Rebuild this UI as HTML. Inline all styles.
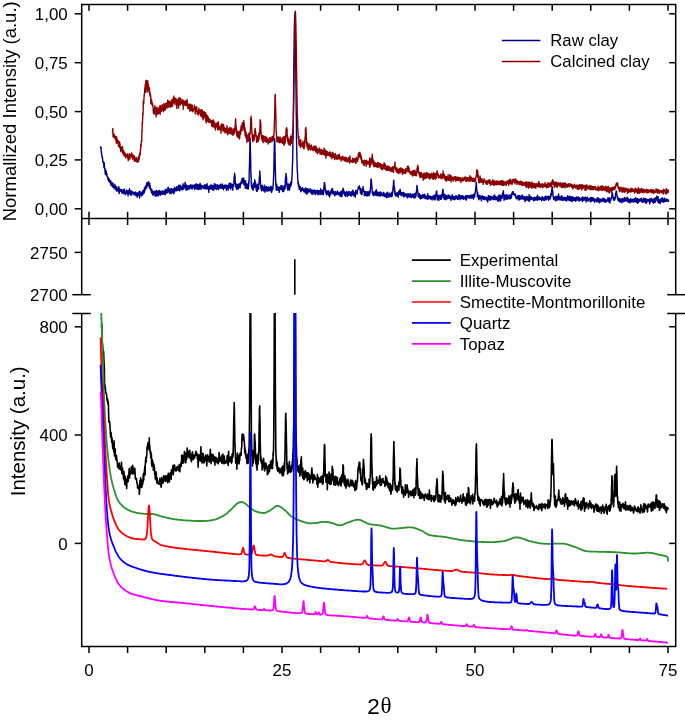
<!DOCTYPE html>
<html><head><meta charset="utf-8"><style>
html,body{margin:0;padding:0;background:#fff;width:685px;height:721px;overflow:hidden}
svg{display:block;will-change:transform}
text{font-family:"Liberation Sans",sans-serif;fill:#000}
</style></head><body>
<svg width="685" height="721" viewBox="0 0 685 721">
<defs>
<clipPath id="cTop"><rect x="82" y="5" width="593" height="213"/></clipPath>
<clipPath id="cBot"><rect x="82" y="313" width="593" height="333"/></clipPath>
</defs>
<path d="M100.6,146.2 L100.8,148.2 L100.9,148.6 L101.0,147.4 L101.2,151.8 L101.3,152.3 L101.5,151.9 L101.7,154.6 L101.8,155.3 L102.0,156.1 L102.1,156.6 L102.2,158.3 L102.4,157.2 L102.5,158.9 L102.7,159.2 L102.8,161.6 L103.0,161.5 L103.2,161.8 L103.3,161.7 L103.5,163.2 L103.6,164.3 L103.8,164.5 L103.9,167.5 L104.0,167.7 L104.2,162.7 L104.3,164.5 L104.5,167.7 L104.7,167.9 L104.8,169.4 L105.0,169.9 L105.1,173.3 L105.2,168.9 L105.4,170.5 L105.5,174.6 L105.7,173.0 L105.8,173.5 L106.0,172.2 L106.2,171.0 L106.3,174.2 L106.5,174.5 L106.6,173.0 L106.8,174.2 L106.9,175.6 L107.0,174.7 L107.2,176.4 L107.3,177.1 L107.5,177.4 L107.7,176.9 L107.8,178.9 L108.0,179.7 L108.1,179.2 L108.2,177.8 L108.4,180.4 L108.5,178.8 L108.7,181.2 L108.8,178.5 L109.0,181.8 L109.2,180.6 L109.3,179.0 L109.5,180.7 L109.6,181.5 L109.8,182.0 L109.9,180.4 L110.0,180.4 L110.2,182.6 L110.3,181.8 L110.5,183.1 L110.7,184.1 L110.8,180.7 L111.0,183.7 L111.1,185.4 L111.2,183.3 L111.4,182.7 L111.5,185.3 L111.7,184.7 L111.8,185.9 L112.0,184.2 L112.2,182.7 L112.3,184.9 L112.5,184.6 L112.6,186.6 L112.8,185.9 L112.9,183.3 L113.0,184.1 L113.2,187.4 L113.3,187.2 L113.5,185.4 L113.7,186.5 L113.8,187.3 L114.0,187.4 L114.1,188.1 L114.2,187.4 L114.4,187.0 L114.5,186.9 L114.7,188.9 L114.8,184.2 L115.0,187.4 L115.2,187.7 L115.3,185.8 L115.5,188.4 L115.6,187.1 L115.8,189.4 L115.9,188.1 L116.0,189.3 L116.2,190.2 L116.3,189.1 L116.5,187.4 L116.7,186.6 L116.8,191.3 L117.0,188.8 L117.1,188.0 L117.2,189.3 L117.4,188.9 L117.5,190.5 L117.7,189.4 L117.8,189.5 L118.0,188.5 L118.2,190.3 L118.3,188.3 L118.5,190.7 L118.6,192.0 L118.8,187.8 L118.9,186.6 L119.0,190.9 L119.2,193.6 L119.3,188.8 L119.5,188.6 L119.7,191.1 L119.8,189.2 L120.0,189.8 L120.1,190.0 L120.2,191.3 L120.4,190.1 L120.5,191.1 L120.7,190.5 L120.8,189.7 L121.0,190.4 L121.2,189.6 L121.3,191.0 L121.5,189.5 L121.6,189.6 L121.8,193.1 L121.9,191.1 L122.0,191.2 L122.2,192.0 L122.3,190.8 L122.5,191.1 L122.7,192.0 L122.8,191.9 L123.0,190.0 L123.1,192.7 L123.2,190.8 L123.4,190.2 L123.5,190.5 L123.7,191.2 L123.8,193.9 L124.0,190.2 L124.2,192.0 L124.3,189.0 L124.5,191.9 L124.6,193.1 L124.8,191.6 L124.9,191.1 L125.0,192.3 L125.2,192.9 L125.3,192.9 L125.5,194.7 L125.7,192.3 L125.8,191.3 L126.0,191.9 L126.1,192.0 L126.2,192.2 L126.4,192.1 L126.5,192.4 L126.7,189.9 L126.8,193.2 L127.0,191.4 L127.2,190.6 L127.3,193.0 L127.5,193.9 L127.6,192.8 L127.8,192.4 L127.9,191.0 L128.1,196.0 L128.2,193.4 L128.3,190.7 L128.5,191.2 L128.7,192.4 L128.8,190.2 L128.9,192.5 L129.1,191.7 L129.2,193.9 L129.4,193.6 L129.6,188.7 L129.7,192.4 L129.8,190.2 L130.0,193.8 L130.2,192.6 L130.3,193.1 L130.4,191.0 L130.6,194.8 L130.8,195.1 L130.9,191.0 L131.1,192.9 L131.2,191.6 L131.3,192.5 L131.5,190.9 L131.7,195.1 L131.8,191.4 L131.9,192.3 L132.1,193.4 L132.2,192.0 L132.4,192.6 L132.6,192.2 L132.7,192.9 L132.8,191.6 L133.0,192.6 L133.2,193.0 L133.3,192.9 L133.4,193.5 L133.6,193.2 L133.8,194.6 L133.9,193.3 L134.1,193.6 L134.2,193.0 L134.3,193.3 L134.5,192.5 L134.7,194.8 L134.8,192.8 L134.9,193.4 L135.1,194.8 L135.2,195.0 L135.4,194.0 L135.6,192.0 L135.7,195.2 L135.8,195.0 L136.0,193.0 L136.2,195.7 L136.3,193.9 L136.4,193.4 L136.6,195.0 L136.8,194.7 L136.9,195.1 L137.1,192.9 L137.2,197.2 L137.3,194.1 L137.5,192.9 L137.6,195.6 L137.7,194.4 L137.8,195.2 L137.8,194.4 L137.9,194.7 L137.9,195.1 L138.1,193.8 L138.1,195.6 L138.2,194.1 L138.2,193.6 L138.3,194.7 L138.4,195.2 L138.5,194.3 L138.6,193.5 L138.7,195.3 L138.7,192.3 L138.8,193.2 L138.8,194.5 L138.9,192.7 L139.0,194.5 L139.1,194.3 L139.2,195.5 L139.2,193.2 L139.3,193.5 L139.4,194.7 L139.4,191.1 L139.6,198.1 L139.6,193.3 L139.7,193.2 L139.8,195.2 L139.8,194.0 L139.9,191.8 L140.0,194.8 L140.1,195.1 L140.2,193.4 L140.2,193.6 L140.3,194.6 L140.3,192.8 L140.4,194.4 L140.5,194.1 L140.6,193.0 L140.7,192.0 L140.8,193.5 L140.8,192.6 L140.9,195.0 L140.9,193.9 L141.1,194.7 L141.1,193.8 L141.2,194.0 L141.2,192.6 L141.3,194.4 L141.4,195.9 L141.5,193.1 L141.6,192.7 L141.7,193.3 L141.7,192.8 L141.8,192.5 L141.8,193.6 L141.9,193.0 L142.0,195.2 L142.1,193.3 L142.2,193.6 L142.2,194.4 L142.3,192.8 L142.4,194.9 L142.4,192.2 L142.6,191.9 L142.6,192.5 L142.7,192.7 L142.8,191.0 L142.8,192.7 L142.9,190.6 L143.0,194.4 L143.1,192.5 L143.2,191.6 L143.2,191.3 L143.3,191.8 L143.3,192.0 L143.4,190.8 L143.5,190.9 L143.6,191.7 L143.7,191.2 L143.8,193.0 L143.8,193.2 L143.9,191.6 L143.9,192.1 L144.1,189.6 L144.1,192.1 L144.2,191.0 L144.2,191.6 L144.3,192.9 L144.4,187.8 L144.5,190.9 L144.6,189.0 L144.7,191.0 L144.7,188.4 L144.8,189.3 L144.8,190.1 L144.9,190.4 L145.0,189.6 L145.1,188.2 L145.2,188.4 L145.2,190.0 L145.3,188.7 L145.4,186.3 L145.4,189.5 L145.6,188.6 L145.6,189.1 L145.7,187.3 L145.8,188.7 L145.8,186.0 L145.9,187.9 L146.0,186.3 L146.1,187.7 L146.2,187.8 L146.2,185.5 L146.3,186.1 L146.3,186.1 L146.4,187.3 L146.5,186.6 L146.6,183.8 L146.7,185.9 L146.8,186.0 L146.8,187.7 L146.9,182.6 L146.9,183.9 L147.1,186.2 L147.1,182.6 L147.2,182.6 L147.2,184.8 L147.3,185.3 L147.4,183.0 L147.5,184.5 L147.6,183.9 L147.7,185.6 L147.7,183.6 L147.8,184.8 L147.8,182.4 L147.9,183.3 L148.0,183.4 L148.1,185.0 L148.2,184.3 L148.2,182.6 L148.3,184.5 L148.4,184.7 L148.4,183.6 L148.6,183.5 L148.6,183.6 L148.7,181.8 L148.8,184.3 L148.8,184.6 L148.9,183.2 L149.0,185.5 L149.1,182.9 L149.2,184.1 L149.2,184.3 L149.3,187.7 L149.3,183.2 L149.4,186.2 L149.5,186.9 L149.6,186.4 L149.7,187.5 L149.8,185.0 L149.8,183.5 L149.9,187.7 L149.9,185.3 L150.1,186.6 L150.1,185.7 L150.2,188.8 L150.2,188.7 L150.3,186.9 L150.4,189.1 L150.5,188.4 L150.6,188.2 L150.7,188.7 L150.7,188.5 L150.8,189.8 L150.8,189.5 L150.9,188.9 L151.0,190.8 L151.1,188.9 L151.2,190.2 L151.2,190.6 L151.3,192.0 L151.4,189.7 L151.4,192.7 L151.6,190.8 L151.6,190.4 L151.7,190.0 L151.8,191.7 L151.8,191.2 L151.9,189.8 L152.0,189.9 L152.1,190.7 L152.2,190.7 L152.2,193.0 L152.3,193.5 L152.3,192.9 L152.4,192.4 L152.5,191.4 L152.6,192.2 L152.7,193.3 L152.8,195.0 L152.8,193.5 L152.9,192.0 L152.9,192.5 L153.1,191.9 L153.1,191.5 L153.2,192.3 L153.2,192.9 L153.3,195.0 L153.4,192.8 L153.5,194.5 L153.6,195.1 L153.7,192.9 L153.7,194.9 L153.8,193.8 L153.8,192.3 L153.9,193.3 L154.0,193.0 L154.1,192.7 L154.2,192.7 L154.2,193.2 L154.3,193.6 L154.4,191.9 L154.4,193.0 L154.6,191.1 L154.6,193.4 L154.7,193.9 L154.8,193.3 L154.8,193.5 L154.9,193.9 L155.0,192.2 L155.1,192.8 L155.2,193.8 L155.2,194.4 L155.3,193.6 L155.3,196.4 L155.4,193.0 L155.5,194.4 L155.6,194.8 L155.7,193.0 L155.8,192.1 L155.8,191.6 L155.9,193.3 L155.9,194.6 L156.1,193.5 L156.1,193.4 L156.2,192.6 L156.2,193.9 L156.3,190.4 L156.4,193.4 L156.5,193.2 L156.6,191.3 L156.7,195.9 L156.7,191.3 L156.8,191.7 L156.8,191.6 L156.9,194.5 L157.0,192.0 L157.1,194.0 L157.2,193.9 L157.2,193.4 L157.3,191.4 L157.4,192.3 L157.4,195.3 L157.6,191.4 L157.6,192.0 L157.7,192.9 L157.8,194.1 L157.8,193.4 L157.9,194.0 L158.0,191.7 L158.1,194.3 L158.2,193.8 L158.2,191.0 L158.3,195.0 L158.3,196.0 L158.5,192.0 L158.7,193.1 L158.8,194.8 L158.9,191.1 L159.1,190.4 L159.2,191.3 L159.4,192.2 L159.6,192.2 L159.7,193.7 L159.8,193.3 L160.0,191.3 L160.2,193.6 L160.3,195.3 L160.4,194.4 L160.6,194.1 L160.8,192.9 L160.9,194.1 L161.1,191.5 L161.2,193.8 L161.3,192.6 L161.5,194.2 L161.7,193.3 L161.8,191.3 L161.9,192.8 L162.1,194.2 L162.2,191.1 L162.4,191.9 L162.6,191.6 L162.7,190.6 L162.8,193.8 L163.0,194.2 L163.2,193.5 L163.3,192.8 L163.4,192.3 L163.6,192.7 L163.8,191.4 L163.9,193.5 L164.1,193.7 L164.2,193.5 L164.3,191.5 L164.5,192.3 L164.7,192.0 L164.8,194.5 L164.9,192.3 L165.1,189.6 L165.2,192.6 L165.4,194.5 L165.6,192.9 L165.7,193.1 L165.8,192.0 L166.0,189.2 L166.2,189.4 L166.3,190.1 L166.4,191.6 L166.6,192.2 L166.8,192.6 L166.9,191.2 L167.1,192.9 L167.2,191.2 L167.3,190.6 L167.5,192.7 L167.7,190.3 L167.8,187.8 L167.9,190.0 L168.1,191.5 L168.2,187.2 L168.4,190.8 L168.6,190.8 L168.7,189.3 L168.8,189.2 L169.0,190.6 L169.2,190.4 L169.3,192.8 L169.4,191.6 L169.6,188.9 L169.8,189.9 L169.9,191.9 L170.1,193.5 L170.2,191.4 L170.3,191.3 L170.5,193.4 L170.7,190.8 L170.8,190.4 L170.9,188.8 L171.1,190.0 L171.2,193.6 L171.4,188.7 L171.6,190.6 L171.7,188.6 L171.8,190.7 L172.0,191.7 L172.2,190.1 L172.3,191.4 L172.4,191.4 L172.6,190.9 L172.8,192.6 L172.9,191.3 L173.1,189.8 L173.2,189.2 L173.3,189.0 L173.5,190.7 L173.7,189.6 L173.8,193.8 L173.9,192.5 L174.1,189.6 L174.2,189.4 L174.4,192.2 L174.6,187.2 L174.7,189.1 L174.8,191.0 L175.0,188.4 L175.2,188.9 L175.3,189.1 L175.4,190.4 L175.6,189.7 L175.8,190.0 L175.9,190.2 L176.1,189.4 L176.2,190.9 L176.3,188.2 L176.5,187.2 L176.7,186.7 L176.8,186.9 L176.9,188.3 L177.1,190.5 L177.2,189.2 L177.4,188.1 L177.6,187.4 L177.7,188.1 L177.8,188.3 L178.0,188.0 L178.2,186.7 L178.3,188.0 L178.4,190.1 L178.6,185.5 L178.8,188.2 L178.9,185.5 L179.1,188.8 L179.2,187.4 L179.3,185.5 L179.5,188.5 L179.7,190.9 L179.8,188.5 L179.9,189.9 L180.1,188.1 L180.2,185.1 L180.4,188.9 L180.6,187.5 L180.7,186.0 L180.8,189.2 L181.0,188.5 L181.2,187.3 L181.3,189.2 L181.4,186.7 L181.6,188.8 L181.8,186.5 L181.9,188.6 L182.1,186.3 L182.2,190.0 L182.3,188.2 L182.5,189.8 L182.7,186.6 L182.8,187.0 L182.9,188.9 L183.1,183.7 L183.2,186.1 L183.4,189.1 L183.6,188.3 L183.7,189.0 L183.8,187.1 L184.0,188.4 L184.2,186.5 L184.3,185.5 L184.4,185.1 L184.6,186.7 L184.8,186.7 L184.9,186.6 L185.1,182.3 L185.2,184.6 L185.3,186.7 L185.5,187.9 L185.7,186.6 L185.8,186.2 L185.9,184.1 L186.1,190.3 L186.2,185.8 L186.4,189.8 L186.6,189.7 L186.7,187.8 L186.8,186.5 L187.0,187.6 L187.2,185.7 L187.3,187.7 L187.4,187.3 L187.6,188.1 L187.8,188.7 L187.9,189.8 L188.1,186.7 L188.2,188.8 L188.3,186.1 L188.5,186.0 L188.7,186.4 L188.8,185.8 L188.9,188.7 L189.1,188.6 L189.2,189.1 L189.4,187.2 L189.6,187.6 L189.7,186.4 L189.8,185.6 L190.0,187.9 L190.2,187.6 L190.3,185.6 L190.4,188.1 L190.6,184.7 L190.8,186.9 L190.9,186.3 L191.1,186.4 L191.2,185.6 L191.3,188.5 L191.5,188.0 L191.7,188.9 L191.8,187.3 L191.9,185.3 L192.1,186.6 L192.2,185.4 L192.4,187.8 L192.6,188.9 L192.7,187.6 L192.8,186.2 L193.0,186.5 L193.2,187.4 L193.3,185.0 L193.4,187.3 L193.6,187.3 L193.8,186.3 L193.9,186.4 L194.1,187.3 L194.2,185.8 L194.3,185.8 L194.5,188.2 L194.7,187.3 L194.8,189.5 L194.9,185.6 L195.1,184.4 L195.2,188.4 L195.4,188.4 L195.6,185.9 L195.7,184.9 L195.8,186.9 L196.0,184.4 L196.2,186.5 L196.3,183.8 L196.4,186.6 L196.6,183.9 L196.8,186.6 L196.9,189.2 L197.1,186.6 L197.2,188.1 L197.3,186.0 L197.5,185.6 L197.7,184.8 L197.8,188.5 L197.9,186.8 L198.1,189.3 L198.2,185.2 L198.4,186.6 L198.6,187.0 L198.7,189.0 L198.8,189.6 L199.0,186.0 L199.2,185.3 L199.3,184.4 L199.4,188.9 L199.6,186.8 L199.8,186.0 L199.9,186.8 L200.1,183.2 L200.2,184.4 L200.3,188.3 L200.5,187.5 L200.7,187.1 L200.8,185.4 L200.9,187.8 L201.1,189.5 L201.2,185.1 L201.4,186.9 L201.6,186.3 L201.7,187.4 L201.8,186.9 L202.0,186.7 L202.2,185.6 L202.3,186.9 L202.4,186.0 L202.6,186.7 L202.8,186.8 L202.9,187.9 L203.1,186.0 L203.2,186.4 L203.3,188.5 L203.5,186.6 L203.7,186.5 L203.8,188.2 L203.9,187.3 L204.1,187.0 L204.2,187.2 L204.4,185.1 L204.6,187.6 L204.7,188.8 L204.8,187.7 L205.0,184.6 L205.2,187.3 L205.3,185.6 L205.4,186.6 L205.6,187.1 L205.8,185.2 L205.9,188.9 L206.1,186.8 L206.2,188.1 L206.3,187.8 L206.5,188.9 L206.7,188.7 L206.8,184.8 L206.9,187.0 L207.1,183.8 L207.2,186.3 L207.4,188.0 L207.6,188.3 L207.7,188.8 L207.8,186.4 L208.0,187.4 L208.2,187.1 L208.3,188.8 L208.4,189.2 L208.6,186.4 L208.8,192.4 L208.9,186.9 L209.1,186.4 L209.2,187.8 L209.3,188.0 L209.5,187.7 L209.7,186.0 L209.8,189.1 L209.9,187.0 L210.1,189.2 L210.2,189.0 L210.4,185.1 L210.6,185.5 L210.7,185.5 L210.8,187.3 L211.0,187.0 L211.2,187.3 L211.3,185.8 L211.4,187.6 L211.6,189.0 L211.8,185.0 L211.9,186.7 L212.1,187.3 L212.2,186.8 L212.3,186.7 L212.5,189.5 L212.7,188.8 L212.8,188.2 L212.9,185.8 L213.1,190.2 L213.2,187.5 L213.4,186.1 L213.6,186.5 L213.7,186.2 L213.8,190.0 L214.0,187.2 L214.2,187.0 L214.3,183.8 L214.4,188.0 L214.6,185.4 L214.8,185.3 L214.9,187.8 L215.1,185.7 L215.2,188.2 L215.3,188.6 L215.5,184.3 L215.7,186.7 L215.8,184.6 L215.9,186.9 L216.1,188.3 L216.2,185.0 L216.4,189.6 L216.6,186.5 L216.7,185.2 L216.8,186.8 L217.0,188.1 L217.2,184.9 L217.3,186.9 L217.4,184.9 L217.6,188.7 L217.8,187.2 L217.9,186.3 L218.1,188.4 L218.2,185.1 L218.3,186.4 L218.5,189.6 L218.7,186.7 L218.8,188.9 L218.9,187.2 L219.1,185.9 L219.2,186.6 L219.4,187.0 L219.6,186.3 L219.7,185.7 L219.8,185.8 L220.0,184.8 L220.2,187.1 L220.3,187.5 L220.4,188.0 L220.6,184.3 L220.8,188.1 L220.9,186.9 L221.1,184.8 L221.2,187.1 L221.3,188.1 L221.5,187.7 L221.7,188.0 L221.8,188.3 L221.9,188.2 L222.1,186.9 L222.2,183.9 L222.4,185.8 L222.6,187.4 L222.7,186.2 L222.8,187.9 L223.0,188.1 L223.2,187.0 L223.3,189.7 L223.4,185.5 L223.6,188.3 L223.8,186.2 L223.9,185.8 L224.1,187.8 L224.2,186.0 L224.3,188.2 L224.5,185.2 L224.7,187.0 L224.8,185.7 L224.9,186.6 L225.1,186.4 L225.2,185.3 L225.4,187.9 L225.6,185.1 L225.7,185.5 L225.8,188.2 L226.0,188.3 L226.2,187.9 L226.3,187.4 L226.4,190.2 L226.6,185.1 L226.8,185.8 L226.9,185.4 L227.1,188.2 L227.2,187.3 L227.3,188.5 L227.5,188.3 L227.7,186.6 L227.8,185.7 L227.9,185.4 L228.1,190.1 L228.2,188.3 L228.4,187.7 L228.6,186.4 L228.7,186.6 L228.8,186.4 L229.0,186.4 L229.2,183.3 L229.3,186.8 L229.4,186.3 L229.6,187.3 L229.8,187.1 L229.9,188.1 L230.1,186.8 L230.2,188.0 L230.3,183.1 L230.5,185.2 L230.7,189.3 L230.8,185.0 L230.9,186.4 L231.1,187.8 L231.2,185.5 L231.4,187.8 L231.6,184.7 L231.7,183.9 L231.8,184.8 L232.0,184.3 L232.2,186.6 L232.3,186.2 L232.4,187.1 L232.6,185.0 L232.8,190.2 L232.9,186.3 L233.1,186.2 L233.2,186.7 L233.3,185.3 L233.5,184.1 L233.7,184.2 L233.8,183.9 L233.9,181.7 L234.0,181.4 L234.1,177.8 L234.2,176.7 L234.2,179.5 L234.3,175.6 L234.4,175.8 L234.4,176.0 L234.6,177.0 L234.6,173.2 L234.7,175.3 L234.8,175.9 L234.8,177.4 L234.9,175.1 L235.0,179.9 L235.1,176.5 L235.2,182.5 L235.2,183.4 L235.3,184.5 L235.3,182.3 L235.4,186.2 L235.5,183.8 L235.6,183.7 L235.7,184.3 L235.8,184.7 L235.8,186.3 L235.9,187.4 L235.9,183.2 L236.1,185.6 L236.1,187.7 L236.2,186.8 L236.2,187.3 L236.3,184.4 L236.4,188.0 L236.5,184.3 L236.6,186.9 L236.7,188.6 L236.7,189.4 L236.8,187.4 L236.8,188.0 L236.9,185.8 L237.0,186.0 L237.1,188.4 L237.2,186.7 L237.2,186.5 L237.3,184.6 L237.4,186.9 L237.4,187.6 L237.6,185.5 L237.6,185.9 L237.7,189.0 L237.8,186.9 L237.8,186.2 L237.9,185.0 L238.0,185.7 L238.1,186.2 L238.2,188.5 L238.2,185.7 L238.3,189.1 L238.3,185.1 L238.4,185.9 L238.5,187.6 L238.6,186.0 L238.7,185.1 L238.8,186.1 L238.8,186.9 L238.9,183.7 L238.9,185.8 L239.1,185.9 L239.1,185.4 L239.2,187.0 L239.2,185.0 L239.3,185.2 L239.4,185.7 L239.5,186.6 L239.6,185.2 L239.7,187.6 L239.7,184.0 L239.8,187.0 L239.8,183.8 L239.9,184.7 L240.0,185.4 L240.1,187.7 L240.2,185.9 L240.2,183.8 L240.3,186.2 L240.4,183.8 L240.4,182.9 L240.6,184.5 L240.6,183.9 L240.7,184.9 L240.8,182.6 L240.8,183.8 L240.9,184.0 L241.0,183.3 L241.1,182.7 L241.2,181.6 L241.2,183.8 L241.3,182.4 L241.3,182.9 L241.4,181.4 L241.5,181.9 L241.6,180.1 L241.7,181.7 L241.8,182.5 L241.8,181.4 L241.9,182.3 L241.9,181.5 L242.1,182.8 L242.1,180.5 L242.2,178.3 L242.2,181.2 L242.3,180.3 L242.4,179.1 L242.5,181.3 L242.6,180.8 L242.7,181.0 L242.7,179.8 L242.8,180.6 L242.8,180.7 L242.9,182.9 L243.0,179.4 L243.1,180.4 L243.2,181.0 L243.2,178.1 L243.3,178.3 L243.4,183.8 L243.4,178.2 L243.6,181.8 L243.6,179.8 L243.7,180.1 L243.8,178.4 L243.8,180.1 L243.9,182.7 L244.0,179.7 L244.1,182.7 L244.2,182.5 L244.2,185.0 L244.3,181.7 L244.3,184.3 L244.4,184.0 L244.5,182.4 L244.6,180.6 L244.7,185.3 L244.8,181.4 L244.8,182.8 L244.9,184.9 L244.9,185.4 L245.1,182.7 L245.1,184.0 L245.2,183.9 L245.2,186.1 L245.3,188.2 L245.4,182.0 L245.5,186.1 L245.6,180.8 L245.7,185.1 L245.7,183.5 L245.8,188.2 L245.8,185.6 L245.9,184.4 L246.0,184.8 L246.1,184.9 L246.2,186.0 L246.2,185.6 L246.3,186.9 L246.4,188.2 L246.4,187.1 L246.6,184.4 L246.6,183.8 L246.7,185.1 L246.8,187.8 L246.8,185.8 L246.9,185.4 L247.0,186.6 L247.1,184.3 L247.1,184.8 L247.2,187.1 L247.2,186.0 L247.2,185.8 L247.3,186.9 L247.3,185.6 L247.4,185.4 L247.4,185.8 L247.5,187.3 L247.6,186.5 L247.6,184.7 L247.7,185.9 L247.7,187.3 L247.8,189.0 L247.8,184.7 L247.8,186.8 L247.9,185.9 L247.9,187.4 L248.0,186.8 L248.1,188.2 L248.1,186.8 L248.2,185.2 L248.2,185.2 L248.2,186.5 L248.3,186.4 L248.3,189.1 L248.4,188.0 L248.4,183.7 L248.5,185.8 L248.6,183.2 L248.6,182.5 L248.7,185.6 L248.7,185.1 L248.8,182.4 L248.8,185.8 L248.8,181.5 L248.9,180.6 L248.9,182.5 L249.0,181.0 L249.1,179.5 L249.1,178.5 L249.2,177.6 L249.2,175.6 L249.2,174.0 L249.3,169.7 L249.3,168.5 L249.4,169.1 L249.4,164.9 L249.5,164.3 L249.6,162.7 L249.6,157.7 L249.7,155.9 L249.7,155.8 L249.8,151.2 L249.8,150.3 L249.8,147.5 L249.9,144.4 L249.9,141.4 L250.0,139.1 L250.1,137.9 L250.1,140.0 L250.2,140.2 L250.2,140.1 L250.2,142.8 L250.3,142.5 L250.3,147.0 L250.4,147.8 L250.4,150.2 L250.5,152.9 L250.6,155.5 L250.6,161.9 L250.7,158.7 L250.7,163.8 L250.8,167.8 L250.8,169.4 L250.8,170.1 L250.9,175.0 L250.9,172.8 L251.0,174.1 L251.1,178.3 L251.1,176.7 L251.2,176.5 L251.2,182.2 L251.2,182.8 L251.3,183.5 L251.3,182.4 L251.4,183.9 L251.4,182.7 L251.5,187.0 L251.6,186.0 L251.6,186.2 L251.7,182.6 L251.8,186.9 L251.8,188.0 L251.9,187.9 L251.9,187.4 L252.1,186.4 L252.1,186.0 L252.2,187.5 L252.2,187.2 L252.3,187.1 L252.4,186.4 L252.5,189.3 L252.6,185.3 L252.7,187.0 L252.7,186.2 L252.8,188.6 L252.8,189.2 L252.9,189.0 L253.0,188.3 L253.1,185.2 L253.2,190.2 L253.2,188.0 L253.3,187.1 L253.4,187.3 L253.4,186.8 L253.6,187.9 L253.6,187.7 L253.7,186.7 L253.8,183.5 L253.8,187.0 L253.9,187.7 L254.0,187.5 L254.1,186.4 L254.2,187.0 L254.2,187.6 L254.3,184.9 L254.3,187.4 L254.4,181.9 L254.5,182.5 L254.6,182.3 L254.7,179.8 L254.8,181.2 L254.8,184.1 L254.9,183.7 L254.9,181.9 L255.1,184.3 L255.1,182.3 L255.2,181.7 L255.2,183.0 L255.3,183.2 L255.4,184.8 L255.5,182.4 L255.6,186.3 L255.7,184.9 L255.7,187.1 L255.8,184.2 L255.8,186.0 L255.9,187.1 L256.0,188.4 L256.1,185.7 L256.1,189.8 L256.2,188.3 L256.3,186.9 L256.4,189.5 L256.4,188.0 L256.6,189.5 L256.6,191.2 L256.7,189.0 L256.8,187.2 L256.9,187.4 L256.9,188.8 L257.0,188.4 L257.1,186.8 L257.1,187.1 L257.2,189.0 L257.3,191.3 L257.4,184.3 L257.4,189.1 L257.5,187.7 L257.6,189.1 L257.6,189.2 L257.8,188.1 L257.8,186.6 L257.9,186.0 L257.9,185.3 L258.1,189.6 L258.1,187.6 L258.2,187.1 L258.2,187.4 L258.4,185.8 L258.4,188.1 L258.5,189.3 L258.6,188.9 L258.6,184.8 L258.7,188.7 L258.8,185.1 L258.9,183.1 L258.9,183.2 L259.0,183.1 L259.1,183.2 L259.1,181.0 L259.2,178.8 L259.3,179.7 L259.4,181.0 L259.4,176.4 L259.6,176.3 L259.6,175.1 L259.7,177.7 L259.8,171.0 L259.9,175.2 L259.9,172.2 L260.0,174.2 L260.1,175.6 L260.1,181.9 L260.2,177.3 L260.3,177.5 L260.4,182.8 L260.4,181.5 L260.5,183.0 L260.6,184.6 L260.6,185.3 L260.8,185.8 L260.8,186.8 L260.9,187.6 L260.9,188.5 L261.1,187.0 L261.1,186.7 L261.2,186.5 L261.2,188.9 L261.4,188.1 L261.4,189.0 L261.5,189.1 L261.6,190.7 L261.6,188.7 L261.7,189.5 L261.8,186.8 L261.9,187.0 L261.9,188.1 L262.0,186.9 L262.1,189.6 L262.1,186.7 L262.2,188.7 L262.3,185.2 L262.4,187.1 L262.4,188.2 L262.6,188.4 L262.6,186.2 L262.8,188.9 L262.9,190.2 L263.1,189.7 L263.2,187.9 L263.4,188.0 L263.5,187.2 L263.6,189.8 L263.8,191.0 L263.9,188.2 L264.1,186.6 L264.2,189.3 L264.4,190.0 L264.6,185.2 L264.7,189.2 L264.9,192.1 L265.0,190.2 L265.1,189.8 L265.3,189.6 L265.4,190.6 L265.6,187.8 L265.8,187.9 L265.9,189.7 L266.1,188.1 L266.2,189.5 L266.4,186.4 L266.5,190.2 L266.6,190.3 L266.8,189.2 L266.9,189.4 L267.1,191.4 L267.2,187.6 L267.4,187.9 L267.6,187.6 L267.7,188.5 L267.9,187.7 L268.0,189.2 L268.1,188.2 L268.3,187.1 L268.4,187.0 L268.6,190.8 L268.8,189.0 L268.9,188.8 L269.1,189.1 L269.2,189.0 L269.4,190.1 L269.5,189.8 L269.6,188.2 L269.8,187.9 L269.9,187.5 L270.1,187.2 L270.2,190.9 L270.4,187.6 L270.6,186.1 L270.7,187.7 L270.9,187.7 L271.0,189.2 L271.1,187.5 L271.3,189.4 L271.4,189.2 L271.4,190.4 L271.6,191.6 L271.6,192.5 L271.7,190.4 L271.8,186.9 L271.9,187.8 L271.9,188.7 L272.0,191.2 L272.1,189.2 L272.1,189.9 L272.2,187.9 L272.3,188.9 L272.4,189.0 L272.4,187.2 L272.5,188.9 L272.6,189.1 L272.6,187.3 L272.8,188.8 L272.8,189.5 L272.9,187.0 L272.9,186.7 L273.1,185.8 L273.1,185.0 L273.2,185.3 L273.2,184.0 L273.4,182.9 L273.4,181.5 L273.5,178.5 L273.6,178.2 L273.6,177.2 L273.7,173.5 L273.8,170.5 L273.9,171.7 L273.9,166.3 L274.0,161.3 L274.1,158.0 L274.1,153.6 L274.2,151.7 L274.3,146.2 L274.4,143.1 L274.4,143.3 L274.6,138.4 L274.6,141.1 L274.7,139.1 L274.8,141.7 L274.9,144.4 L274.9,146.9 L275.0,152.1 L275.1,154.4 L275.1,158.3 L275.2,163.5 L275.3,168.1 L275.4,171.1 L275.4,175.3 L275.5,173.3 L275.6,180.0 L275.6,181.3 L275.8,180.9 L275.8,184.0 L275.9,186.0 L275.9,183.8 L276.1,183.5 L276.1,185.3 L276.2,190.3 L276.2,187.0 L276.4,185.3 L276.4,186.8 L276.5,186.0 L276.6,186.9 L276.6,187.8 L276.7,184.1 L276.8,188.4 L276.9,189.9 L276.9,187.7 L277.0,187.5 L277.1,189.7 L277.1,186.4 L277.2,186.5 L277.3,186.3 L277.4,188.1 L277.4,188.9 L277.6,188.3 L277.6,189.2 L277.7,189.6 L277.8,189.2 L277.9,187.4 L278.1,188.2 L278.2,190.4 L278.4,187.2 L278.5,188.4 L278.6,188.1 L278.8,188.5 L278.9,187.3 L279.1,186.9 L279.2,192.4 L279.4,190.1 L279.6,187.8 L279.7,188.8 L279.9,189.8 L280.0,188.4 L280.1,189.7 L280.3,188.0 L280.4,188.3 L280.6,188.7 L280.8,188.2 L280.9,185.4 L281.1,188.9 L281.2,189.2 L281.4,189.5 L281.5,187.4 L281.6,189.3 L281.8,189.1 L281.9,186.3 L282.1,185.7 L282.2,189.4 L282.4,187.4 L282.6,190.1 L282.7,191.7 L282.8,187.9 L282.9,187.7 L282.9,188.6 L283.0,189.6 L283.1,187.0 L283.1,190.3 L283.2,190.0 L283.3,189.5 L283.4,187.8 L283.4,189.8 L283.6,189.7 L283.6,186.8 L283.7,191.4 L283.8,188.0 L283.9,188.9 L283.9,187.6 L284.0,188.8 L284.1,189.9 L284.1,187.1 L284.2,185.9 L284.3,187.4 L284.4,186.2 L284.4,186.8 L284.5,187.6 L284.6,187.4 L284.6,189.2 L284.8,185.6 L284.8,187.3 L284.9,185.5 L284.9,187.8 L285.1,188.7 L285.1,185.1 L285.2,186.0 L285.2,182.3 L285.4,179.5 L285.4,179.3 L285.5,177.4 L285.6,177.5 L285.6,177.1 L285.7,178.3 L285.8,176.5 L285.9,175.8 L285.9,174.0 L286.0,173.5 L286.1,174.8 L286.1,175.2 L286.2,176.4 L286.3,177.1 L286.4,177.8 L286.4,176.0 L286.6,178.5 L286.6,179.6 L286.7,184.5 L286.8,182.1 L286.9,184.8 L286.9,186.4 L287.0,185.6 L287.1,184.9 L287.1,185.7 L287.2,184.9 L287.3,187.1 L287.4,188.4 L287.4,187.8 L287.5,188.2 L287.6,188.3 L287.6,190.1 L287.8,186.5 L287.8,187.6 L287.9,188.4 L287.9,189.2 L288.1,184.0 L288.1,186.7 L288.2,187.1 L288.2,186.0 L288.4,188.6 L288.4,187.7 L288.5,186.8 L288.6,185.1 L288.6,185.4 L288.7,185.9 L288.8,187.9 L288.9,185.5 L288.9,184.3 L289.0,185.1 L289.1,186.2 L289.1,189.4 L289.3,190.4 L289.4,186.2 L289.6,188.0 L289.8,188.5 L289.9,188.2 L290.1,186.1 L290.2,184.2 L290.4,185.2 L290.5,183.0 L290.6,185.7 L290.8,186.1 L290.9,181.9 L291.1,184.0 L291.2,183.9 L291.4,184.4 L291.6,183.5 L291.7,181.4 L291.9,177.6 L292.0,175.8 L292.1,175.2 L292.3,169.1 L292.4,165.4 L292.6,162.1 L292.8,153.5 L292.9,143.5 L293.1,135.8 L293.2,126.6 L293.4,113.8 L293.5,103.1 L293.6,89.8 L293.8,73.3 L293.9,59.8 L294.1,47.2 L294.2,33.8 L294.4,26.1 L294.6,18.1 L294.7,15.3 L294.9,12.8 L295.0,15.4 L295.1,25.5 L295.3,30.8 L295.4,42.5 L295.6,55.1 L295.8,69.3 L295.9,82.4 L296.1,97.2 L296.2,109.3 L296.4,121.7 L296.5,133.7 L296.6,143.8 L296.8,151.8 L296.9,157.2 L297.1,164.7 L297.2,168.8 L297.4,172.7 L297.6,173.6 L297.7,179.3 L297.9,180.1 L298.0,184.1 L298.1,183.8 L298.3,182.3 L298.4,182.6 L298.6,186.7 L298.8,184.3 L298.9,186.9 L299.1,185.8 L299.2,189.4 L299.4,186.9 L299.5,189.1 L299.6,189.0 L299.8,186.8 L299.9,187.1 L300.1,189.8 L300.2,187.9 L300.4,186.8 L300.6,189.8 L300.7,191.8 L300.9,188.3 L301.0,190.4 L301.1,188.4 L301.3,190.6 L301.4,188.5 L301.6,190.7 L301.8,189.7 L301.9,188.8 L302.1,189.5 L302.2,188.5 L302.4,187.8 L302.5,187.9 L302.6,189.4 L302.8,188.1 L302.9,190.2 L303.1,190.4 L303.2,190.3 L303.4,189.1 L303.6,189.9 L303.7,189.8 L303.9,191.7 L304.0,188.9 L304.1,189.5 L304.3,189.7 L304.4,189.9 L304.6,189.1 L304.8,189.3 L304.9,191.6 L305.1,189.4 L305.2,191.6 L305.4,193.1 L305.5,192.1 L305.6,188.0 L305.8,191.5 L305.9,191.2 L306.1,191.3 L306.2,188.4 L306.4,191.6 L306.6,189.2 L306.7,192.4 L306.9,192.2 L307.0,194.2 L307.1,190.2 L307.3,188.7 L307.4,192.2 L307.6,192.0 L307.8,190.4 L307.9,192.7 L308.1,191.9 L308.2,189.2 L308.4,190.5 L308.5,190.4 L308.6,190.9 L308.8,191.3 L308.9,190.1 L309.1,190.8 L309.2,191.9 L309.4,191.0 L309.6,190.8 L309.7,190.8 L309.9,191.1 L310.0,188.7 L310.1,191.5 L310.3,189.9 L310.4,191.4 L310.6,189.3 L310.8,192.6 L310.9,191.7 L311.1,189.6 L311.2,191.7 L311.4,190.4 L311.5,193.9 L311.6,192.1 L311.8,190.4 L311.9,191.8 L312.1,191.5 L312.2,193.2 L312.4,192.0 L312.6,192.3 L312.7,190.1 L312.9,192.7 L313.0,194.5 L313.1,192.5 L313.3,191.6 L313.4,191.9 L313.6,190.5 L313.8,192.0 L313.9,190.3 L314.1,191.9 L314.2,191.3 L314.4,190.7 L314.5,192.6 L314.6,189.9 L314.8,191.8 L314.9,190.1 L315.1,194.4 L315.2,194.6 L315.4,193.1 L315.6,194.5 L315.7,192.8 L315.9,192.7 L316.0,191.5 L316.1,190.9 L316.3,192.2 L316.4,191.4 L316.6,191.5 L316.8,193.1 L316.9,192.0 L317.1,190.1 L317.2,191.9 L317.4,191.2 L317.5,191.8 L317.6,190.8 L317.8,193.8 L317.9,194.7 L318.1,190.8 L318.2,193.1 L318.4,193.1 L318.6,190.9 L318.7,192.4 L318.9,194.2 L319.0,193.4 L319.1,194.5 L319.3,190.8 L319.4,191.4 L319.6,192.7 L319.8,192.8 L319.9,192.4 L320.1,191.9 L320.2,191.8 L320.4,191.6 L320.5,193.0 L320.6,188.8 L320.8,194.5 L320.9,191.7 L321.1,190.5 L321.2,193.1 L321.3,190.6 L321.4,192.9 L321.4,191.9 L321.6,193.2 L321.6,193.4 L321.7,194.1 L321.8,191.7 L321.9,192.0 L321.9,192.4 L322.0,190.5 L322.1,193.1 L322.1,192.5 L322.2,190.6 L322.3,193.9 L322.4,194.1 L322.4,190.6 L322.5,193.0 L322.6,193.9 L322.6,193.3 L322.8,190.9 L322.8,190.3 L322.9,191.9 L322.9,191.4 L323.1,191.9 L323.1,191.7 L323.2,192.3 L323.2,190.8 L323.4,191.0 L323.4,194.9 L323.5,190.4 L323.6,191.3 L323.6,190.0 L323.7,189.6 L323.8,187.3 L323.9,188.7 L323.9,187.0 L324.0,187.7 L324.1,188.3 L324.1,185.4 L324.2,185.3 L324.3,182.6 L324.4,183.6 L324.4,185.3 L324.6,183.2 L324.6,182.6 L324.7,184.2 L324.8,184.1 L324.9,184.9 L324.9,185.2 L325.0,189.3 L325.1,186.0 L325.1,187.6 L325.2,187.8 L325.3,191.0 L325.4,189.4 L325.4,192.1 L325.5,190.9 L325.6,191.1 L325.6,189.5 L325.8,193.3 L325.8,192.5 L325.9,192.6 L325.9,192.0 L326.1,191.7 L326.1,190.7 L326.2,193.6 L326.2,192.8 L326.4,192.0 L326.4,191.7 L326.5,192.7 L326.6,192.5 L326.6,194.8 L326.7,193.6 L326.8,191.9 L326.9,191.2 L326.9,192.4 L327.0,191.5 L327.1,192.8 L327.1,193.3 L327.2,193.6 L327.3,193.3 L327.4,192.5 L327.4,193.6 L327.6,191.7 L327.6,192.7 L327.7,193.9 L327.9,193.2 L328.0,191.2 L328.1,191.4 L328.3,190.8 L328.4,195.3 L328.6,190.9 L328.8,192.8 L328.9,195.4 L329.1,194.4 L329.2,194.7 L329.4,192.3 L329.5,194.0 L329.6,197.0 L329.8,193.0 L329.9,193.5 L330.1,192.6 L330.2,193.0 L330.4,193.4 L330.6,194.7 L330.7,191.7 L330.9,190.8 L331.0,192.5 L331.1,192.3 L331.3,193.3 L331.4,191.7 L331.6,189.1 L331.8,189.9 L331.9,190.0 L332.1,188.9 L332.2,188.5 L332.4,190.6 L332.5,190.1 L332.6,189.0 L332.8,193.7 L332.9,190.8 L333.1,192.4 L333.2,192.6 L333.4,192.7 L333.6,192.8 L333.7,191.4 L333.9,193.9 L334.0,193.3 L334.1,193.4 L334.3,194.7 L334.4,194.8 L334.6,195.1 L334.8,195.8 L334.9,194.0 L335.1,191.4 L335.2,193.7 L335.4,193.5 L335.5,193.5 L335.6,192.7 L335.8,192.3 L335.9,194.5 L336.1,194.8 L336.2,192.1 L336.4,194.2 L336.6,193.3 L336.7,193.0 L336.9,194.4 L337.0,193.5 L337.1,192.9 L337.3,193.6 L337.4,191.0 L337.6,192.8 L337.8,193.0 L337.9,191.8 L338.1,193.8 L338.2,194.0 L338.4,192.8 L338.5,193.4 L338.6,194.5 L338.8,195.0 L338.9,192.7 L339.1,194.1 L339.2,195.0 L339.4,193.6 L339.6,192.7 L339.7,192.7 L339.9,193.2 L340.0,192.3 L340.1,196.3 L340.2,192.9 L340.3,194.2 L340.4,193.9 L340.4,194.5 L340.5,193.2 L340.6,192.0 L340.6,195.8 L340.8,193.6 L340.8,193.8 L340.9,193.9 L340.9,195.3 L341.1,194.6 L341.1,195.2 L341.2,194.7 L341.2,193.8 L341.4,193.9 L341.4,192.7 L341.5,191.1 L341.6,193.3 L341.6,192.2 L341.7,196.8 L341.8,195.5 L341.9,194.9 L341.9,192.6 L342.0,195.9 L342.1,190.9 L342.1,191.4 L342.2,191.7 L342.3,191.3 L342.4,192.3 L342.4,192.2 L342.6,194.0 L342.6,192.6 L342.7,192.5 L342.8,191.3 L342.9,190.2 L342.9,189.4 L343.0,188.3 L343.1,189.1 L343.1,189.9 L343.2,191.6 L343.3,188.8 L343.4,189.4 L343.4,191.9 L343.5,190.4 L343.6,192.6 L343.6,191.9 L343.8,191.8 L343.8,191.2 L343.9,193.0 L343.9,192.3 L344.1,192.6 L344.1,192.6 L344.2,193.8 L344.2,193.8 L344.4,191.4 L344.4,193.4 L344.5,194.2 L344.6,195.0 L344.6,194.7 L344.7,194.0 L344.8,192.3 L344.9,192.8 L344.9,194.9 L345.0,192.9 L345.1,195.1 L345.1,195.4 L345.2,192.4 L345.3,194.4 L345.4,193.7 L345.4,196.4 L345.6,194.9 L345.6,193.2 L345.7,194.4 L345.8,192.7 L345.9,193.6 L346.0,194.1 L346.1,194.0 L346.3,194.3 L346.4,192.7 L346.6,191.5 L346.8,193.4 L346.9,192.7 L347.1,193.0 L347.2,196.6 L347.4,195.4 L347.5,193.7 L347.6,192.1 L347.8,192.2 L347.9,194.4 L348.1,195.3 L348.2,193.5 L348.4,194.1 L348.6,194.2 L348.7,195.3 L348.9,191.5 L349.0,194.1 L349.1,194.4 L349.3,195.1 L349.4,194.4 L349.6,192.5 L349.8,193.2 L349.9,191.9 L350.1,194.1 L350.2,194.1 L350.4,194.5 L350.5,192.7 L350.6,192.4 L350.8,195.8 L350.9,194.1 L351.1,196.1 L351.2,194.4 L351.4,192.0 L351.6,194.9 L351.7,195.5 L351.9,193.3 L352.0,191.4 L352.1,194.7 L352.3,193.7 L352.4,194.2 L352.6,190.4 L352.8,194.4 L352.9,190.3 L353.1,192.7 L353.2,195.0 L353.4,191.5 L353.5,191.4 L353.6,193.2 L353.8,195.9 L353.9,195.9 L354.1,193.0 L354.2,195.1 L354.4,194.5 L354.6,194.1 L354.7,194.2 L354.9,192.8 L355.0,194.7 L355.1,195.0 L355.3,197.1 L355.4,194.8 L355.6,190.5 L355.8,192.0 L355.9,193.9 L356.1,193.5 L356.2,190.9 L356.4,193.0 L356.5,192.6 L356.6,192.8 L356.8,192.5 L356.9,193.6 L357.1,194.0 L357.2,192.6 L357.4,189.9 L357.6,189.8 L357.7,189.6 L357.9,189.8 L358.0,188.8 L358.1,188.4 L358.3,187.1 L358.4,189.0 L358.6,188.5 L358.8,188.3 L358.9,186.8 L359.1,187.5 L359.2,185.9 L359.4,186.0 L359.4,186.7 L359.5,188.4 L359.6,187.6 L359.6,186.6 L359.7,188.4 L359.8,189.1 L359.9,189.0 L359.9,188.3 L360.0,189.4 L360.1,189.1 L360.1,189.4 L360.2,190.1 L360.3,191.3 L360.4,193.0 L360.4,192.8 L360.6,191.9 L360.6,190.7 L360.7,191.1 L360.8,191.3 L360.9,193.3 L360.9,188.4 L361.0,192.5 L361.1,189.7 L361.1,192.3 L361.2,194.1 L361.3,191.3 L361.4,189.6 L361.4,194.2 L361.5,194.5 L361.6,193.2 L361.6,194.1 L361.8,191.4 L361.8,193.9 L361.9,194.4 L361.9,192.9 L362.1,192.2 L362.1,193.3 L362.2,192.8 L362.2,190.2 L362.4,192.5 L362.4,191.4 L362.5,190.2 L362.6,191.5 L362.6,190.6 L362.7,190.2 L362.8,188.2 L362.9,189.8 L362.9,187.2 L363.0,188.4 L363.1,186.5 L363.1,186.6 L363.2,189.7 L363.3,189.2 L363.4,189.8 L363.4,190.7 L363.6,190.9 L363.6,189.5 L363.7,191.2 L363.8,191.3 L363.9,191.1 L363.9,191.8 L364.0,191.8 L364.1,191.6 L364.1,192.3 L364.2,193.1 L364.3,195.7 L364.4,192.1 L364.4,193.9 L364.5,191.4 L364.6,195.4 L364.6,193.0 L364.8,193.7 L364.8,195.2 L364.9,194.8 L364.9,191.7 L365.1,194.3 L365.1,193.3 L365.2,194.4 L365.2,193.8 L365.4,194.6 L365.4,194.0 L365.5,193.5 L365.6,195.2 L365.6,191.7 L365.7,193.2 L365.8,192.5 L365.9,193.5 L365.9,193.2 L366.0,193.5 L366.1,193.1 L366.1,193.1 L366.2,191.6 L366.3,193.7 L366.4,194.1 L366.4,193.0 L366.6,192.9 L366.6,192.9 L366.7,195.9 L366.9,194.0 L367.0,194.2 L367.1,193.4 L367.3,193.1 L367.4,192.6 L367.6,195.7 L367.8,191.6 L367.9,194.1 L368.0,193.7 L368.1,193.4 L368.1,191.7 L368.2,192.1 L368.3,194.9 L368.4,192.8 L368.4,194.8 L368.5,194.5 L368.6,194.4 L368.6,194.6 L368.8,192.1 L368.8,193.0 L368.9,194.4 L368.9,191.9 L369.1,195.7 L369.1,192.8 L369.2,193.4 L369.2,192.1 L369.4,193.8 L369.4,192.4 L369.5,193.0 L369.6,191.8 L369.6,194.6 L369.7,190.9 L369.8,193.4 L369.9,192.9 L369.9,192.9 L370.0,190.8 L370.1,192.9 L370.1,192.5 L370.2,190.7 L370.3,190.5 L370.4,188.9 L370.4,189.3 L370.6,186.2 L370.6,187.3 L370.7,185.7 L370.8,182.7 L370.9,179.7 L370.9,182.3 L371.0,181.1 L371.1,182.5 L371.1,180.5 L371.2,179.7 L371.3,178.9 L371.4,180.8 L371.4,181.1 L371.5,181.0 L371.6,183.6 L371.6,185.8 L371.8,186.0 L371.8,185.3 L371.9,188.3 L371.9,187.1 L372.1,187.6 L372.1,190.7 L372.2,190.2 L372.2,192.7 L372.4,192.3 L372.4,191.1 L372.5,192.8 L372.6,194.3 L372.6,192.7 L372.7,191.7 L372.8,192.3 L372.9,192.2 L372.9,191.8 L373.0,191.7 L373.1,194.0 L373.1,194.9 L373.2,193.1 L373.3,194.5 L373.4,194.7 L373.4,195.7 L373.6,193.4 L373.6,193.2 L373.7,194.2 L373.8,193.8 L373.9,194.1 L373.9,195.4 L374.0,193.2 L374.1,194.0 L374.1,192.5 L374.2,193.5 L374.3,192.9 L374.4,192.8 L374.5,193.5 L374.6,193.2 L374.8,194.3 L374.9,194.8 L375.1,191.9 L375.2,195.1 L375.4,191.0 L375.6,194.2 L375.7,194.8 L375.9,193.0 L376.0,193.6 L376.1,192.9 L376.3,195.0 L376.4,189.8 L376.6,192.7 L376.8,191.4 L376.9,194.1 L377.1,195.6 L377.2,195.4 L377.4,194.8 L377.5,194.2 L377.6,192.9 L377.8,195.5 L377.9,194.7 L378.1,192.8 L378.2,192.3 L378.4,193.1 L378.6,195.3 L378.7,195.5 L378.9,196.0 L379.0,192.9 L379.1,193.5 L379.3,195.7 L379.4,194.2 L379.6,194.9 L379.8,192.2 L379.9,193.5 L380.1,193.9 L380.2,193.5 L380.4,193.4 L380.5,191.9 L380.6,196.0 L380.8,194.1 L380.9,192.1 L381.1,195.4 L381.2,194.1 L381.4,194.9 L381.6,193.8 L381.7,193.0 L381.9,193.1 L382.0,194.5 L382.1,195.1 L382.3,194.7 L382.4,194.9 L382.6,195.7 L382.8,194.5 L382.9,195.5 L383.1,195.6 L383.2,194.6 L383.4,194.1 L383.5,193.7 L383.6,192.8 L383.8,192.3 L383.9,196.0 L384.1,194.3 L384.2,193.7 L384.4,196.4 L384.6,195.7 L384.7,194.5 L384.9,195.7 L385.0,194.3 L385.1,195.0 L385.3,196.8 L385.4,195.9 L385.6,194.2 L385.8,195.5 L385.9,196.1 L386.1,194.5 L386.2,194.2 L386.4,197.1 L386.5,194.4 L386.6,193.1 L386.8,195.0 L386.9,197.7 L387.1,195.6 L387.2,196.1 L387.4,192.1 L387.6,194.2 L387.7,196.4 L387.9,194.4 L388.0,196.6 L388.1,195.6 L388.3,195.5 L388.4,197.1 L388.6,194.4 L388.8,194.4 L388.9,195.2 L389.1,195.3 L389.2,192.9 L389.4,196.6 L389.5,195.3 L389.6,194.8 L389.8,195.8 L389.9,194.5 L390.1,196.5 L390.2,195.1 L390.4,195.9 L390.5,193.9 L390.6,194.6 L390.6,195.4 L390.7,193.8 L390.8,194.1 L390.9,194.9 L390.9,196.3 L391.0,195.8 L391.1,196.0 L391.1,195.2 L391.2,196.0 L391.3,196.7 L391.4,195.0 L391.4,195.3 L391.6,195.5 L391.6,192.2 L391.7,194.5 L391.8,195.2 L391.9,195.5 L391.9,194.1 L392.0,195.7 L392.1,193.6 L392.1,194.1 L392.2,196.3 L392.3,192.3 L392.4,193.8 L392.4,193.4 L392.5,193.2 L392.6,192.2 L392.6,193.4 L392.8,190.5 L392.8,189.8 L392.9,191.1 L392.9,188.5 L393.1,189.3 L393.1,188.2 L393.2,186.0 L393.2,185.8 L393.4,184.8 L393.4,184.9 L393.5,182.5 L393.6,182.6 L393.6,180.6 L393.7,182.0 L393.8,180.2 L393.9,182.8 L393.9,183.2 L394.0,186.9 L394.1,187.1 L394.1,185.9 L394.2,188.6 L394.3,188.4 L394.4,187.8 L394.4,186.8 L394.6,192.2 L394.6,191.7 L394.7,189.6 L394.8,193.1 L394.9,194.0 L394.9,192.2 L395.0,194.4 L395.1,191.4 L395.1,193.5 L395.2,193.9 L395.3,195.0 L395.4,194.6 L395.4,194.4 L395.5,194.9 L395.6,193.4 L395.6,196.1 L395.8,193.9 L395.8,195.3 L395.9,194.3 L395.9,194.0 L396.1,195.1 L396.1,194.9 L396.2,196.1 L396.2,195.7 L396.4,193.7 L396.4,195.0 L396.5,194.5 L396.6,193.4 L396.6,193.0 L396.7,194.7 L396.8,193.7 L396.9,192.7 L397.0,194.3 L397.1,194.7 L397.3,194.5 L397.4,192.9 L397.6,193.7 L397.8,196.1 L397.9,193.4 L398.1,193.9 L398.2,197.3 L398.4,194.8 L398.5,193.6 L398.6,191.8 L398.8,194.5 L398.9,192.2 L399.1,193.7 L399.2,192.3 L399.4,190.7 L399.6,194.2 L399.7,191.2 L399.9,191.8 L400.0,191.0 L400.1,189.1 L400.3,190.5 L400.4,190.6 L400.6,193.1 L400.8,193.2 L400.9,192.8 L401.1,195.8 L401.2,194.6 L401.4,194.7 L401.5,193.3 L401.6,194.8 L401.8,192.5 L401.9,195.0 L402.1,193.3 L402.2,194.7 L402.4,194.2 L402.6,194.8 L402.7,195.0 L402.9,194.5 L403.0,194.5 L403.1,192.8 L403.3,192.3 L403.4,196.3 L403.6,195.4 L403.8,192.9 L403.9,197.1 L404.1,193.9 L404.2,195.4 L404.4,195.4 L404.5,195.0 L404.6,195.6 L404.8,193.2 L404.9,194.9 L405.1,194.6 L405.2,195.1 L405.4,194.6 L405.6,194.2 L405.7,194.1 L405.9,196.2 L406.0,194.0 L406.1,195.6 L406.3,195.6 L406.4,195.0 L406.6,195.7 L406.8,195.9 L406.9,194.6 L407.1,195.7 L407.2,197.7 L407.4,194.0 L407.5,195.0 L407.6,194.4 L407.8,197.8 L407.9,193.7 L408.1,195.4 L408.2,196.6 L408.4,194.4 L408.6,195.3 L408.7,194.6 L408.9,193.9 L409.0,195.5 L409.1,196.2 L409.3,195.1 L409.4,195.8 L409.6,196.5 L409.8,197.1 L409.9,194.1 L410.1,196.4 L410.2,194.9 L410.4,193.4 L410.5,194.7 L410.6,196.5 L410.8,196.1 L410.9,194.4 L411.1,197.7 L411.2,196.3 L411.4,195.7 L411.6,195.1 L411.7,196.3 L411.9,195.3 L412.0,197.2 L412.1,196.2 L412.3,196.6 L412.4,195.5 L412.6,194.1 L412.8,196.5 L412.9,194.7 L413.1,195.8 L413.2,195.9 L413.4,195.0 L413.5,197.0 L413.6,194.2 L413.8,197.8 L413.9,195.2 L413.9,197.1 L414.1,197.5 L414.1,194.9 L414.2,195.1 L414.2,197.1 L414.4,196.2 L414.4,196.0 L414.5,193.7 L414.6,193.9 L414.6,196.6 L414.7,197.7 L414.8,195.1 L414.9,194.9 L414.9,196.2 L415.0,196.5 L415.1,196.6 L415.1,195.3 L415.2,193.5 L415.3,197.6 L415.4,195.2 L415.4,197.3 L415.6,193.3 L415.6,196.1 L415.7,194.9 L415.8,194.1 L415.9,196.4 L415.9,196.7 L416.0,194.1 L416.1,195.4 L416.1,192.8 L416.2,193.1 L416.3,192.9 L416.4,192.4 L416.4,192.8 L416.5,190.2 L416.6,191.9 L416.6,191.5 L416.8,189.1 L416.8,187.6 L416.9,185.4 L416.9,188.0 L417.1,186.9 L417.1,187.8 L417.2,186.6 L417.2,188.1 L417.4,188.6 L417.4,189.1 L417.5,190.3 L417.6,190.7 L417.6,192.5 L417.7,190.8 L417.8,193.5 L417.9,193.2 L417.9,193.2 L418.0,192.8 L418.1,196.3 L418.1,195.1 L418.2,194.5 L418.3,195.4 L418.4,195.6 L418.4,195.1 L418.6,194.2 L418.6,196.1 L418.7,195.8 L418.8,195.7 L418.9,197.3 L418.9,194.6 L419.0,195.1 L419.1,196.4 L419.1,197.3 L419.2,197.0 L419.3,197.2 L419.4,193.7 L419.4,197.0 L419.5,196.9 L419.6,197.2 L419.6,195.6 L419.8,197.1 L419.8,197.7 L419.9,198.4 L419.9,196.8 L420.1,194.9 L420.1,196.6 L420.2,197.3 L420.2,197.2 L420.4,198.9 L420.6,196.4 L420.7,195.4 L420.9,195.9 L421.0,197.4 L421.1,195.7 L421.3,195.4 L421.4,195.7 L421.6,198.2 L421.8,197.0 L421.9,196.3 L422.1,197.8 L422.2,197.6 L422.4,195.6 L422.5,197.8 L422.6,197.1 L422.8,194.4 L422.9,195.4 L423.1,197.2 L423.2,197.5 L423.4,196.5 L423.6,195.7 L423.7,197.2 L423.9,194.7 L424.0,197.6 L424.1,196.8 L424.3,196.9 L424.4,196.2 L424.6,198.0 L424.8,194.2 L424.9,196.0 L425.1,197.7 L425.2,196.2 L425.4,198.8 L425.5,197.5 L425.6,196.1 L425.8,198.4 L425.9,197.0 L426.1,197.8 L426.2,196.4 L426.4,196.4 L426.6,197.9 L426.7,197.2 L426.9,196.2 L427.0,196.1 L427.1,197.9 L427.3,199.2 L427.4,196.2 L427.6,198.0 L427.8,193.7 L427.9,195.5 L428.1,198.0 L428.2,199.1 L428.4,197.3 L428.5,197.8 L428.6,197.5 L428.8,198.4 L428.9,195.9 L429.1,198.0 L429.2,196.7 L429.4,196.8 L429.6,197.2 L429.7,197.0 L429.9,196.3 L430.0,196.9 L430.1,196.1 L430.3,199.0 L430.4,198.1 L430.6,196.7 L430.8,199.1 L430.9,198.8 L431.1,197.8 L431.2,196.6 L431.4,197.5 L431.5,197.9 L431.6,198.9 L431.8,197.0 L431.9,196.6 L432.1,200.0 L432.2,198.9 L432.4,197.6 L432.6,196.2 L432.7,197.8 L432.9,198.6 L433.0,198.1 L433.1,198.2 L433.3,197.3 L433.4,198.6 L433.6,196.5 L433.7,196.7 L433.8,196.6 L433.9,196.5 L433.9,199.5 L434.0,195.2 L434.1,197.5 L434.1,196.0 L434.2,195.7 L434.3,197.3 L434.4,195.3 L434.4,197.1 L434.5,199.9 L434.6,197.0 L434.6,197.7 L434.8,196.2 L434.8,197.7 L434.9,195.4 L434.9,197.3 L435.1,196.9 L435.1,199.6 L435.2,196.9 L435.2,196.5 L435.4,196.2 L435.4,195.4 L435.5,197.6 L435.6,198.3 L435.6,195.9 L435.7,197.1 L435.8,195.5 L435.9,196.2 L435.9,195.9 L436.0,193.4 L436.1,193.7 L436.1,195.6 L436.2,191.8 L436.3,193.9 L436.4,193.2 L436.4,192.4 L436.6,193.6 L436.6,193.9 L436.7,194.5 L436.8,190.9 L436.9,196.4 L436.9,194.1 L437.0,196.4 L437.1,195.2 L437.1,195.0 L437.2,195.8 L437.3,200.0 L437.4,198.2 L437.4,196.2 L437.5,196.9 L437.6,198.2 L437.6,197.6 L437.8,197.1 L437.8,196.8 L437.9,195.8 L437.9,198.0 L438.1,198.4 L438.1,199.8 L438.2,196.5 L438.2,197.9 L438.4,197.1 L438.4,198.6 L438.5,197.0 L438.6,196.4 L438.6,195.1 L438.7,198.0 L438.8,197.4 L438.9,198.5 L438.9,196.5 L439.0,200.3 L439.1,196.3 L439.1,197.8 L439.2,197.7 L439.3,198.5 L439.4,197.0 L439.6,196.1 L439.8,196.0 L439.9,198.2 L440.0,197.3 L440.1,197.6 L440.1,196.2 L440.2,197.3 L440.3,197.4 L440.4,197.9 L440.4,195.4 L440.5,196.2 L440.6,199.2 L440.6,196.7 L440.8,197.0 L440.8,196.6 L440.9,195.3 L440.9,195.8 L441.1,197.5 L441.1,196.2 L441.2,199.4 L441.2,195.2 L441.4,194.6 L441.4,196.4 L441.5,195.4 L441.6,198.4 L441.6,196.1 L441.7,197.1 L441.8,194.6 L441.9,196.9 L441.9,196.5 L442.0,196.9 L442.1,195.2 L442.1,195.2 L442.2,194.1 L442.3,194.6 L442.4,192.2 L442.4,192.9 L442.6,190.8 L442.6,192.0 L442.7,190.4 L442.8,189.8 L442.9,189.8 L442.9,192.5 L443.0,189.3 L443.1,189.8 L443.1,193.0 L443.2,191.5 L443.3,192.9 L443.4,193.3 L443.4,197.3 L443.5,194.1 L443.6,194.6 L443.6,195.2 L443.8,196.4 L443.8,196.9 L443.9,194.8 L443.9,197.2 L444.1,199.1 L444.1,194.7 L444.2,197.6 L444.2,197.9 L444.4,197.2 L444.4,196.8 L444.5,194.3 L444.6,198.5 L444.6,196.7 L444.7,196.9 L444.8,198.6 L444.9,194.4 L444.9,197.1 L445.0,197.9 L445.1,198.1 L445.1,197.9 L445.2,199.6 L445.3,197.6 L445.4,198.4 L445.4,198.2 L445.6,195.5 L445.6,196.3 L445.8,199.7 L445.9,196.9 L446.1,197.2 L446.2,195.7 L446.4,196.9 L446.5,195.7 L446.6,196.6 L446.8,198.0 L446.9,196.3 L447.1,196.6 L447.2,198.9 L447.4,197.9 L447.6,197.9 L447.7,198.5 L447.9,196.7 L448.0,196.9 L448.1,194.9 L448.3,198.2 L448.4,197.1 L448.6,197.3 L448.8,196.0 L448.9,198.1 L449.1,198.1 L449.2,197.6 L449.4,195.4 L449.5,196.3 L449.6,197.3 L449.8,196.3 L449.9,197.8 L450.1,198.5 L450.2,196.4 L450.4,197.1 L450.6,196.5 L450.7,198.6 L450.9,198.4 L451.0,200.5 L451.1,197.4 L451.3,196.2 L451.4,197.8 L451.6,197.1 L451.8,197.6 L451.9,198.8 L452.1,197.0 L452.2,198.2 L452.4,194.8 L452.5,198.6 L452.6,197.5 L452.8,197.1 L452.9,196.8 L453.1,199.1 L453.2,196.8 L453.4,198.9 L453.6,196.8 L453.7,197.4 L453.9,197.8 L454.0,199.8 L454.1,197.7 L454.3,197.7 L454.4,197.3 L454.6,197.0 L454.8,196.7 L454.9,199.5 L455.1,199.1 L455.2,196.6 L455.4,197.6 L455.5,196.0 L455.6,198.5 L455.8,198.2 L455.9,197.5 L456.1,196.4 L456.2,198.3 L456.4,198.1 L456.6,197.2 L456.7,198.3 L456.9,195.8 L457.0,196.7 L457.1,196.3 L457.3,197.5 L457.4,199.4 L457.6,197.5 L457.8,198.8 L457.9,197.4 L458.1,196.9 L458.2,198.6 L458.4,198.0 L458.5,199.1 L458.6,198.6 L458.8,196.4 L458.9,194.4 L459.1,197.6 L459.2,196.0 L459.4,195.7 L459.6,195.6 L459.7,196.6 L459.9,197.2 L460.0,197.4 L460.1,199.8 L460.3,195.9 L460.4,197.4 L460.6,195.9 L460.8,196.2 L460.9,197.5 L461.1,197.9 L461.2,195.8 L461.4,198.7 L461.5,196.3 L461.6,198.5 L461.8,197.3 L461.9,198.4 L462.1,198.0 L462.2,197.0 L462.4,197.9 L462.6,195.7 L462.7,195.8 L462.9,196.9 L463.0,199.0 L463.1,196.4 L463.3,196.6 L463.4,199.3 L463.6,197.4 L463.8,197.3 L463.9,196.1 L464.1,197.4 L464.2,198.0 L464.4,197.2 L464.5,198.2 L464.6,197.7 L464.8,198.5 L464.9,198.3 L465.1,197.1 L465.2,198.3 L465.4,199.4 L465.6,197.6 L465.7,195.8 L465.9,197.5 L466.0,197.0 L466.1,200.3 L466.3,198.1 L466.4,195.9 L466.6,197.0 L466.8,198.9 L466.9,195.8 L467.1,196.6 L467.2,197.2 L467.4,197.0 L467.5,196.4 L467.6,197.3 L467.8,195.4 L467.9,196.4 L468.1,196.4 L468.2,196.7 L468.4,196.7 L468.6,197.1 L468.7,196.7 L468.9,196.6 L469.0,197.5 L469.1,198.1 L469.3,198.2 L469.4,195.7 L469.6,197.3 L469.8,197.9 L469.9,196.7 L470.1,197.6 L470.2,196.7 L470.4,197.4 L470.5,195.1 L470.6,197.5 L470.8,196.4 L470.9,196.1 L471.1,196.6 L471.2,198.1 L471.4,198.0 L471.6,197.2 L471.7,197.9 L471.9,196.4 L472.0,195.4 L472.1,194.6 L472.3,196.8 L472.4,196.6 L472.6,196.8 L472.8,196.9 L472.9,198.2 L473.1,195.6 L473.2,195.8 L473.4,199.0 L473.5,197.6 L473.6,196.2 L473.8,194.1 L473.9,195.5 L474.1,196.0 L474.2,196.2 L474.4,196.4 L474.6,195.7 L474.7,197.0 L474.9,193.7 L475.0,194.0 L475.1,192.6 L475.3,193.0 L475.4,190.7 L475.6,189.6 L475.8,186.8 L475.9,189.5 L476.1,184.6 L476.2,182.3 L476.4,183.7 L476.5,184.5 L476.6,187.6 L476.8,189.8 L476.9,191.0 L477.1,191.9 L477.2,192.7 L477.4,196.4 L477.6,196.6 L477.7,192.2 L477.9,196.2 L478.0,195.3 L478.1,196.0 L478.3,198.6 L478.4,195.3 L478.6,195.5 L478.8,199.8 L478.9,196.3 L479.1,196.6 L479.2,198.3 L479.4,196.4 L479.5,197.1 L479.6,197.4 L479.8,198.8 L479.9,195.2 L480.1,196.2 L480.2,197.1 L480.4,198.3 L480.6,196.5 L480.7,197.8 L480.9,196.7 L481.0,196.9 L481.1,198.9 L481.3,197.1 L481.4,200.9 L481.6,197.9 L481.8,198.8 L481.9,198.4 L482.1,195.7 L482.2,195.7 L482.4,198.1 L482.5,196.3 L482.6,197.0 L482.8,197.2 L482.9,196.6 L483.1,199.1 L483.2,198.6 L483.4,197.9 L483.6,198.4 L483.7,196.7 L483.9,198.8 L484.0,196.8 L484.1,199.7 L484.3,197.0 L484.4,197.2 L484.6,199.2 L484.8,198.7 L484.9,196.8 L485.1,198.6 L485.2,197.9 L485.4,198.0 L485.5,198.7 L485.6,198.7 L485.8,199.2 L485.9,198.6 L486.1,198.4 L486.2,197.9 L486.4,199.8 L486.6,197.2 L486.7,200.4 L486.9,200.7 L487.0,200.7 L487.1,198.0 L487.3,200.6 L487.4,199.5 L487.6,199.4 L487.8,202.1 L487.9,198.4 L488.1,198.9 L488.2,196.8 L488.4,195.6 L488.5,198.6 L488.6,198.8 L488.8,199.1 L488.9,198.6 L489.1,195.9 L489.2,198.7 L489.4,199.6 L489.6,200.1 L489.7,197.2 L489.9,197.2 L490.0,197.5 L490.1,197.5 L490.3,196.4 L490.4,197.5 L490.6,200.1 L490.8,197.0 L490.9,196.1 L491.1,197.9 L491.2,197.7 L491.4,199.1 L491.5,197.4 L491.6,198.0 L491.8,197.3 L491.9,197.1 L492.1,198.7 L492.2,198.4 L492.4,198.2 L492.6,198.8 L492.7,197.3 L492.9,198.3 L493.0,198.5 L493.1,199.6 L493.3,196.0 L493.4,197.8 L493.6,198.7 L493.8,197.5 L493.9,198.3 L494.1,199.0 L494.2,198.8 L494.4,196.2 L494.5,196.8 L494.6,194.9 L494.8,198.9 L494.9,198.4 L495.1,199.7 L495.2,198.2 L495.4,196.8 L495.6,199.4 L495.7,196.6 L495.9,198.1 L496.0,197.9 L496.1,199.0 L496.3,199.2 L496.4,197.6 L496.6,197.2 L496.8,198.0 L496.9,197.4 L497.1,199.2 L497.2,198.5 L497.4,199.7 L497.5,201.1 L497.6,197.0 L497.8,197.3 L497.9,198.6 L498.1,198.5 L498.2,197.6 L498.4,196.0 L498.6,201.0 L498.7,198.1 L498.9,196.6 L499.0,195.1 L499.1,199.6 L499.3,198.4 L499.4,198.0 L499.6,196.7 L499.8,197.8 L499.9,197.5 L500.1,195.0 L500.2,201.1 L500.4,198.4 L500.4,197.5 L500.5,196.7 L500.6,197.1 L500.6,200.7 L500.7,198.3 L500.8,196.2 L500.9,198.9 L500.9,198.4 L501.0,198.4 L501.1,197.6 L501.1,197.6 L501.2,198.0 L501.3,197.5 L501.4,196.0 L501.4,196.5 L501.6,197.7 L501.6,195.8 L501.7,197.5 L501.8,197.2 L501.9,198.4 L501.9,197.7 L502.0,197.0 L502.1,197.0 L502.1,197.7 L502.2,198.2 L502.3,195.5 L502.4,194.8 L502.4,195.3 L502.5,193.3 L502.6,194.6 L502.6,196.2 L502.8,195.8 L502.8,196.2 L502.9,193.8 L502.9,193.7 L503.1,192.3 L503.1,192.3 L503.2,193.1 L503.2,193.9 L503.4,193.5 L503.4,190.8 L503.5,194.3 L503.6,194.0 L503.6,193.8 L503.7,195.0 L503.8,196.5 L503.9,195.8 L503.9,195.2 L504.0,200.3 L504.1,195.9 L504.1,197.3 L504.2,198.5 L504.3,196.0 L504.4,197.8 L504.4,196.2 L504.6,197.0 L504.6,196.4 L504.7,199.5 L504.8,195.7 L504.9,198.0 L504.9,197.4 L505.0,195.0 L505.1,199.5 L505.1,196.7 L505.2,197.1 L505.3,197.7 L505.4,196.3 L505.4,196.5 L505.5,197.4 L505.6,196.4 L505.6,197.5 L505.8,198.9 L505.8,196.2 L505.9,195.5 L505.9,197.2 L506.1,197.9 L506.2,198.2 L506.4,196.1 L506.5,194.6 L506.6,198.4 L506.8,198.2 L506.9,199.2 L507.1,196.2 L507.2,198.0 L507.4,198.6 L507.6,195.1 L507.7,198.6 L507.9,199.0 L508.0,198.0 L508.1,198.0 L508.3,198.2 L508.4,197.0 L508.6,195.6 L508.8,196.2 L508.9,197.1 L509.1,196.2 L509.2,198.5 L509.4,196.7 L509.5,197.1 L509.6,195.0 L509.8,197.6 L509.9,196.2 L510.1,198.8 L510.2,194.9 L510.4,197.2 L510.6,196.3 L510.7,196.2 L510.9,198.5 L511.0,197.5 L511.1,195.1 L511.3,197.6 L511.4,194.9 L511.6,196.4 L511.8,193.1 L511.9,194.6 L512.0,194.3 L512.2,194.0 L512.4,192.3 L512.5,191.7 L512.6,193.7 L512.8,194.3 L513.0,193.5 L513.1,193.1 L513.2,191.7 L513.4,193.3 L513.5,193.1 L513.7,193.1 L513.9,194.4 L514.0,194.6 L514.1,195.2 L514.3,194.6 L514.5,194.2 L514.6,195.2 L514.8,195.3 L514.9,194.0 L515.0,195.7 L515.2,194.3 L515.4,194.1 L515.5,195.6 L515.6,196.0 L515.8,197.7 L516.0,196.6 L516.1,197.6 L516.2,198.8 L516.4,197.3 L516.5,197.6 L516.7,196.4 L516.9,198.2 L517.0,197.3 L517.1,197.4 L517.3,195.9 L517.5,196.2 L517.6,196.5 L517.8,197.4 L517.9,198.6 L518.0,195.5 L518.2,196.9 L518.4,197.0 L518.5,200.1 L518.6,197.1 L518.8,196.7 L519.0,198.3 L519.1,196.1 L519.2,198.0 L519.4,195.4 L519.5,199.8 L519.7,197.3 L519.9,196.9 L520.0,195.8 L520.1,197.2 L520.3,197.5 L520.5,196.5 L520.6,198.8 L520.8,197.0 L520.9,197.5 L521.0,197.8 L521.2,199.1 L521.4,197.0 L521.5,197.5 L521.6,197.8 L521.8,198.2 L522.0,195.3 L522.1,198.9 L522.2,197.4 L522.4,196.7 L522.5,197.5 L522.7,195.3 L522.9,196.7 L523.0,197.8 L523.1,199.2 L523.3,197.5 L523.5,198.1 L523.6,197.3 L523.8,198.7 L523.9,197.2 L524.0,198.3 L524.2,197.4 L524.4,196.6 L524.5,196.6 L524.6,197.1 L524.8,199.2 L525.0,201.6 L525.1,197.6 L525.2,197.0 L525.4,198.5 L525.5,198.5 L525.7,197.3 L525.9,200.2 L526.0,199.0 L526.1,199.1 L526.3,198.1 L526.5,198.2 L526.6,199.2 L526.8,196.5 L526.9,197.2 L527.0,198.2 L527.2,196.4 L527.4,200.1 L527.5,197.5 L527.6,197.7 L527.8,198.6 L528.0,200.0 L528.1,198.2 L528.2,197.4 L528.4,197.2 L528.5,198.6 L528.7,197.6 L528.9,201.1 L529.0,199.8 L529.1,194.6 L529.3,197.3 L529.5,198.8 L529.6,201.1 L529.8,196.0 L529.9,197.9 L530.0,199.8 L530.2,197.6 L530.4,198.5 L530.5,197.8 L530.6,199.2 L530.8,197.1 L531.0,198.4 L531.1,196.7 L531.2,199.6 L531.4,199.1 L531.5,198.4 L531.7,198.5 L531.9,198.5 L532.0,198.0 L532.1,198.6 L532.3,198.9 L532.5,198.4 L532.6,197.8 L532.8,198.0 L532.9,197.9 L533.0,199.0 L533.2,198.7 L533.4,200.8 L533.5,198.3 L533.6,198.6 L533.8,197.8 L534.0,198.6 L534.1,198.0 L534.2,197.5 L534.4,198.7 L534.5,200.4 L534.7,197.5 L534.9,197.8 L535.0,198.5 L535.1,198.8 L535.3,200.0 L535.5,197.8 L535.6,198.4 L535.8,197.6 L535.9,197.5 L536.0,198.0 L536.2,197.2 L536.4,199.0 L536.5,199.7 L536.6,197.9 L536.8,197.7 L537.0,200.1 L537.1,198.3 L537.2,200.3 L537.4,195.2 L537.5,198.3 L537.7,197.3 L537.9,197.9 L538.0,199.5 L538.1,199.8 L538.3,198.3 L538.5,199.6 L538.6,197.2 L538.8,198.9 L538.9,198.4 L539.0,196.6 L539.2,199.6 L539.4,197.8 L539.5,199.0 L539.6,197.7 L539.8,198.7 L540.0,199.3 L540.1,198.5 L540.2,198.0 L540.4,199.3 L540.5,198.8 L540.7,198.1 L540.9,198.6 L541.0,198.5 L541.1,198.2 L541.3,199.6 L541.5,200.6 L541.6,198.0 L541.8,198.4 L541.9,197.5 L542.0,197.0 L542.2,199.9 L542.4,197.8 L542.5,199.0 L542.6,197.0 L542.8,197.8 L543.0,199.1 L543.1,199.1 L543.2,198.8 L543.4,199.0 L543.5,198.8 L543.7,199.7 L543.9,200.5 L544.0,199.2 L544.1,198.4 L544.3,197.4 L544.5,198.0 L544.6,198.2 L544.8,200.2 L544.9,196.8 L545.0,197.6 L545.2,197.4 L545.4,199.6 L545.5,197.8 L545.6,196.4 L545.8,196.2 L546.0,198.9 L546.1,196.7 L546.2,199.8 L546.4,199.8 L546.5,197.2 L546.7,198.1 L546.9,198.6 L547.0,196.8 L547.1,197.1 L547.3,197.8 L547.5,198.5 L547.6,198.8 L547.8,196.3 L547.9,198.8 L548.0,198.3 L548.2,198.2 L548.4,197.9 L548.5,199.6 L548.6,200.2 L548.8,197.9 L549.0,198.2 L549.1,196.5 L549.2,197.9 L549.4,199.1 L549.5,198.2 L549.7,198.7 L549.9,198.1 L550.0,198.3 L550.1,198.8 L550.3,198.8 L550.5,195.5 L550.6,197.2 L550.8,193.7 L550.9,196.5 L551.0,195.0 L551.2,193.8 L551.4,194.9 L551.5,192.0 L551.6,191.2 L551.8,189.2 L552.0,189.3 L552.1,186.7 L552.2,187.1 L552.4,188.3 L552.5,192.8 L552.7,191.0 L552.9,193.1 L553.0,196.1 L553.1,196.7 L553.3,195.9 L553.5,199.1 L553.6,198.1 L553.8,199.5 L553.9,198.7 L554.0,199.0 L554.2,197.3 L554.4,199.9 L554.5,197.5 L554.6,198.4 L554.8,199.6 L555.0,198.0 L555.1,198.6 L555.2,198.5 L555.4,198.6 L555.5,199.2 L555.6,196.7 L555.7,197.9 L555.8,200.9 L555.9,196.2 L555.9,197.7 L556.0,199.4 L556.0,196.4 L556.1,197.5 L556.2,197.6 L556.3,200.3 L556.4,197.5 L556.5,199.2 L556.5,197.8 L556.6,198.5 L556.6,197.2 L556.8,196.8 L556.8,197.9 L556.9,196.9 L557.0,198.2 L557.0,198.5 L557.1,198.9 L557.2,200.1 L557.2,199.9 L557.4,196.9 L557.4,197.3 L557.5,200.0 L557.5,197.8 L557.6,197.2 L557.7,198.8 L557.8,196.5 L557.9,198.2 L558.0,196.4 L558.0,198.1 L558.1,196.1 L558.1,197.0 L558.2,197.0 L558.3,197.6 L558.4,194.7 L558.5,195.2 L558.5,194.2 L558.6,193.9 L558.7,195.7 L558.8,196.6 L558.9,198.2 L558.9,196.5 L559.0,199.5 L559.0,197.6 L559.1,198.7 L559.2,197.5 L559.3,196.6 L559.4,199.9 L559.5,197.9 L559.5,199.6 L559.6,198.0 L559.6,199.1 L559.8,198.3 L559.8,198.1 L559.9,198.3 L560.0,199.3 L560.0,197.1 L560.1,197.4 L560.2,199.7 L560.2,197.7 L560.4,198.8 L560.4,197.0 L560.5,198.3 L560.5,199.9 L560.6,198.7 L560.7,198.8 L560.8,198.1 L560.9,198.7 L561.0,196.5 L561.0,196.7 L561.1,199.1 L561.1,196.6 L561.2,200.1 L561.4,199.6 L561.5,197.2 L561.7,196.1 L561.9,195.8 L562.0,199.0 L562.1,198.5 L562.3,200.2 L562.5,199.2 L562.6,200.4 L562.8,199.7 L562.9,197.5 L563.0,198.4 L563.2,197.7 L563.4,198.3 L563.5,198.0 L563.6,198.4 L563.8,200.2 L564.0,198.0 L564.1,197.3 L564.2,197.9 L564.4,198.1 L564.5,198.0 L564.7,198.5 L564.9,198.2 L565.0,199.9 L565.1,199.7 L565.3,197.8 L565.5,199.8 L565.6,200.3 L565.8,198.7 L565.9,197.7 L566.0,199.2 L566.2,198.6 L566.4,199.1 L566.5,197.4 L566.6,201.1 L566.8,198.5 L567.0,199.3 L567.1,198.0 L567.2,198.9 L567.4,196.0 L567.5,197.2 L567.7,195.8 L567.9,199.8 L568.0,197.1 L568.1,196.9 L568.3,200.0 L568.5,198.1 L568.6,198.5 L568.8,200.0 L568.9,199.3 L569.0,199.1 L569.2,199.5 L569.4,196.5 L569.5,200.2 L569.6,200.3 L569.8,200.9 L570.0,196.3 L570.1,197.7 L570.2,198.1 L570.4,200.7 L570.5,199.4 L570.7,200.8 L570.9,199.3 L571.0,198.0 L571.1,197.2 L571.3,198.1 L571.5,200.4 L571.6,197.8 L571.8,196.7 L571.9,199.1 L572.0,200.3 L572.2,201.6 L572.4,200.2 L572.5,199.9 L572.6,196.7 L572.8,198.3 L573.0,198.3 L573.1,198.9 L573.2,197.7 L573.4,199.7 L573.5,200.2 L573.7,198.9 L573.9,198.4 L574.0,199.0 L574.1,199.2 L574.3,199.7 L574.5,197.8 L574.6,200.4 L574.8,198.8 L574.9,198.6 L575.0,199.6 L575.2,198.0 L575.4,199.8 L575.5,201.3 L575.6,199.3 L575.8,199.0 L576.0,198.2 L576.1,200.5 L576.2,200.1 L576.4,197.0 L576.5,199.9 L576.7,198.0 L576.9,197.4 L577.0,198.7 L577.1,198.0 L577.3,200.1 L577.5,197.3 L577.6,197.3 L577.8,197.7 L577.9,198.6 L578.0,199.5 L578.2,197.5 L578.4,197.9 L578.5,197.0 L578.6,198.5 L578.8,197.6 L579.0,201.3 L579.1,201.0 L579.2,197.7 L579.4,198.9 L579.5,199.3 L579.7,198.1 L579.9,198.3 L580.0,199.5 L580.1,198.5 L580.3,198.4 L580.5,198.8 L580.6,200.2 L580.8,198.5 L580.9,199.2 L581.0,199.1 L581.2,199.6 L581.4,198.6 L581.5,198.2 L581.6,198.0 L581.8,199.1 L582.0,199.0 L582.1,198.5 L582.2,199.1 L582.4,201.6 L582.5,199.8 L582.7,196.7 L582.9,200.4 L583.0,199.0 L583.1,197.7 L583.3,200.4 L583.5,198.8 L583.6,200.1 L583.8,198.2 L583.9,200.1 L584.0,198.6 L584.2,200.0 L584.4,199.9 L584.5,197.6 L584.6,199.4 L584.8,199.5 L585.0,198.9 L585.1,196.9 L585.2,199.3 L585.4,198.6 L585.5,200.4 L585.7,197.8 L585.9,200.2 L586.0,199.2 L586.1,202.0 L586.3,197.9 L586.5,200.2 L586.6,198.5 L586.8,198.0 L586.9,200.3 L587.0,199.8 L587.2,200.3 L587.4,197.3 L587.5,197.8 L587.6,199.8 L587.8,198.2 L588.0,200.7 L588.1,201.1 L588.2,199.1 L588.4,199.3 L588.5,199.3 L588.7,198.9 L588.9,199.2 L589.0,199.0 L589.1,199.8 L589.3,198.9 L589.5,198.7 L589.6,199.0 L589.8,198.7 L589.9,199.3 L590.0,200.0 L590.2,201.7 L590.4,197.5 L590.5,197.8 L590.6,199.3 L590.8,199.5 L591.0,199.4 L591.1,201.6 L591.2,197.4 L591.4,199.3 L591.5,198.0 L591.7,199.2 L591.9,200.1 L592.0,197.9 L592.1,200.7 L592.3,198.6 L592.5,198.4 L592.6,197.7 L592.8,198.8 L592.9,198.8 L593.0,200.6 L593.2,197.9 L593.4,199.9 L593.5,200.6 L593.6,199.4 L593.8,200.5 L594.0,198.9 L594.1,200.2 L594.2,199.3 L594.4,202.2 L594.5,199.4 L594.7,199.4 L594.9,200.2 L595.0,199.2 L595.1,199.5 L595.3,200.2 L595.5,200.8 L595.6,199.1 L595.8,199.9 L595.9,199.6 L596.0,200.6 L596.2,200.8 L596.4,200.3 L596.5,200.2 L596.6,201.9 L596.8,198.9 L597.0,201.7 L597.1,200.5 L597.2,198.2 L597.4,200.0 L597.5,198.3 L597.7,199.8 L597.9,197.6 L598.0,200.7 L598.1,199.0 L598.3,201.8 L598.5,199.1 L598.6,200.0 L598.8,198.4 L598.9,199.8 L599.0,200.0 L599.2,200.5 L599.4,202.8 L599.5,201.8 L599.6,200.9 L599.8,199.6 L600.0,199.7 L600.1,199.6 L600.2,199.0 L600.4,200.8 L600.5,199.9 L600.7,200.6 L600.9,199.7 L601.0,200.4 L601.1,202.0 L601.3,200.4 L601.5,201.1 L601.6,199.1 L601.8,199.9 L601.9,199.6 L602.0,200.6 L602.2,200.4 L602.4,199.3 L602.5,200.5 L602.6,200.2 L602.8,198.3 L603.0,200.1 L603.1,201.4 L603.2,199.1 L603.4,201.3 L603.5,200.9 L603.7,200.3 L603.9,200.6 L604.0,199.2 L604.1,200.9 L604.3,198.5 L604.5,198.9 L604.6,200.8 L604.8,198.9 L604.9,202.4 L605.0,200.5 L605.2,201.2 L605.4,201.3 L605.5,199.7 L605.6,200.2 L605.8,200.7 L606.0,200.2 L606.1,201.9 L606.2,201.3 L606.4,200.4 L606.5,201.6 L606.7,200.3 L606.9,201.1 L607.0,200.4 L607.1,199.9 L607.3,199.1 L607.5,199.4 L607.6,200.2 L607.8,200.6 L607.9,197.8 L608.0,199.7 L608.2,200.8 L608.4,200.0 L608.5,198.9 L608.6,199.0 L608.8,202.0 L609.0,198.3 L609.1,199.7 L609.2,201.0 L609.4,197.8 L609.5,200.8 L609.7,198.3 L609.9,201.2 L610.0,203.0 L610.1,198.6 L610.3,199.9 L610.5,200.3 L610.6,199.2 L610.8,200.4 L610.9,198.8 L611.0,198.7 L611.2,198.1 L611.4,198.4 L611.5,198.3 L611.6,197.9 L611.8,195.7 L612.0,193.6 L612.1,193.3 L612.2,192.8 L612.4,193.1 L612.5,194.8 L612.7,194.9 L612.9,196.2 L613.0,197.2 L613.1,197.8 L613.3,198.0 L613.5,199.8 L613.6,199.2 L613.8,199.4 L613.9,198.3 L614.0,198.9 L614.2,199.0 L614.4,200.3 L614.5,197.6 L614.6,200.2 L614.8,199.4 L615.0,198.1 L615.1,197.5 L615.2,198.4 L615.4,197.2 L615.5,193.7 L615.7,194.0 L615.9,192.5 L616.0,192.4 L616.1,190.9 L616.3,191.9 L616.5,191.1 L616.6,192.2 L616.8,195.0 L616.9,194.6 L617.0,195.5 L617.2,197.1 L617.4,196.5 L617.5,196.8 L617.6,199.0 L617.8,198.7 L618.0,198.0 L618.1,200.7 L618.2,200.6 L618.4,200.1 L618.5,199.3 L618.7,199.7 L618.9,199.3 L619.0,201.0 L619.1,198.4 L619.3,200.4 L619.5,200.1 L619.6,198.8 L619.8,200.8 L619.9,199.7 L620.0,202.2 L620.2,201.4 L620.4,200.1 L620.5,199.7 L620.6,199.4 L620.8,199.3 L621.0,200.5 L621.1,198.6 L621.2,201.3 L621.4,201.0 L621.5,200.0 L621.7,201.0 L621.9,202.8 L622.0,200.5 L622.1,202.1 L622.3,199.9 L622.5,199.5 L622.6,201.3 L622.8,198.1 L622.9,201.3 L623.0,200.2 L623.2,199.7 L623.4,200.3 L623.5,200.4 L623.6,201.6 L623.8,201.2 L624.0,200.5 L624.1,200.0 L624.2,199.2 L624.4,200.5 L624.5,197.4 L624.7,201.3 L624.9,200.2 L625.0,198.4 L625.1,200.9 L625.3,199.3 L625.5,199.7 L625.6,198.3 L625.8,199.4 L625.9,200.4 L626.0,200.2 L626.2,200.6 L626.4,199.4 L626.5,200.9 L626.6,198.6 L626.8,199.6 L627.0,197.3 L627.1,199.9 L627.2,199.7 L627.4,200.0 L627.5,200.9 L627.7,201.7 L627.9,199.0 L628.0,200.0 L628.1,198.1 L628.3,202.3 L628.5,201.7 L628.6,200.8 L628.8,201.6 L628.9,201.2 L629.0,199.6 L629.2,201.1 L629.4,201.6 L629.5,201.2 L629.6,200.2 L629.8,199.9 L630.0,203.0 L630.1,200.6 L630.2,200.9 L630.4,198.7 L630.5,201.1 L630.7,200.6 L630.9,199.3 L631.0,201.8 L631.1,200.3 L631.3,201.0 L631.5,200.8 L631.6,199.5 L631.8,200.6 L631.9,201.9 L632.0,199.1 L632.2,199.2 L632.4,199.3 L632.5,201.1 L632.6,199.8 L632.8,200.7 L633.0,201.6 L633.1,199.1 L633.2,202.0 L633.4,200.4 L633.5,200.1 L633.7,202.0 L633.9,200.8 L634.0,198.9 L634.1,200.3 L634.3,199.5 L634.5,200.6 L634.6,199.8 L634.8,200.0 L634.9,201.4 L635.0,198.5 L635.2,200.7 L635.4,200.1 L635.5,200.7 L635.6,197.7 L635.8,199.3 L636.0,199.9 L636.1,202.2 L636.2,199.0 L636.4,199.1 L636.5,200.1 L636.7,200.7 L636.9,199.7 L637.0,200.5 L637.1,198.5 L637.3,202.2 L637.5,200.0 L637.6,200.5 L637.8,203.4 L637.9,199.7 L638.0,199.0 L638.2,199.3 L638.4,202.2 L638.5,200.2 L638.6,199.5 L638.8,200.3 L639.0,200.3 L639.1,201.5 L639.2,201.2 L639.4,200.8 L639.5,200.9 L639.7,199.5 L639.9,199.0 L640.0,200.8 L640.1,201.0 L640.3,200.6 L640.5,200.7 L640.6,201.1 L640.8,199.1 L640.9,200.0 L641.0,199.4 L641.2,198.3 L641.4,201.0 L641.5,200.2 L641.6,200.9 L641.8,201.1 L642.0,199.4 L642.1,202.1 L642.2,200.8 L642.4,201.5 L642.5,202.3 L642.7,199.9 L642.9,199.7 L643.0,200.6 L643.1,201.7 L643.3,201.7 L643.5,198.2 L643.6,202.0 L643.8,199.9 L643.9,201.0 L644.0,199.0 L644.2,199.5 L644.4,200.8 L644.5,198.5 L644.6,201.3 L644.8,199.8 L645.0,200.8 L645.1,200.6 L645.2,199.8 L645.4,201.9 L645.5,203.1 L645.7,201.2 L645.9,198.5 L646.0,200.6 L646.1,200.2 L646.3,201.5 L646.5,200.5 L646.6,202.8 L646.8,201.2 L646.9,201.1 L647.0,200.1 L647.2,199.5 L647.4,200.4 L647.5,200.7 L647.6,201.0 L647.8,200.7 L648.0,200.2 L648.1,200.5 L648.2,200.0 L648.4,199.4 L648.5,199.5 L648.7,201.0 L648.9,201.3 L649.0,200.2 L649.1,200.3 L649.3,201.1 L649.5,200.3 L649.6,204.0 L649.8,200.6 L649.9,199.9 L650.0,198.5 L650.2,200.7 L650.4,201.6 L650.5,200.4 L650.6,201.9 L650.8,199.8 L651.0,200.4 L651.1,200.3 L651.2,199.7 L651.4,198.8 L651.5,199.4 L651.7,198.4 L651.9,201.3 L652.0,200.3 L652.1,200.4 L652.3,199.9 L652.5,201.6 L652.6,199.6 L652.8,202.4 L652.9,201.7 L653.0,199.7 L653.1,200.3 L653.2,201.2 L653.2,201.9 L653.4,199.6 L653.4,199.9 L653.5,203.3 L653.5,201.5 L653.6,201.5 L653.7,202.6 L653.8,201.0 L653.9,200.0 L654.0,198.6 L654.0,201.4 L654.1,199.2 L654.1,201.2 L654.2,198.3 L654.3,199.9 L654.4,200.4 L654.5,199.1 L654.5,199.8 L654.6,199.5 L654.7,200.6 L654.8,199.0 L654.9,200.1 L654.9,201.9 L655.0,201.9 L655.0,202.4 L655.1,200.8 L655.2,199.8 L655.3,200.6 L655.4,201.0 L655.5,200.4 L655.5,201.6 L655.6,199.2 L655.6,199.6 L655.8,197.9 L655.8,199.1 L655.9,200.7 L656.0,199.3 L656.0,199.8 L656.1,199.3 L656.2,199.6 L656.2,197.5 L656.4,198.8 L656.4,198.8 L656.5,199.2 L656.5,199.3 L656.6,197.2 L656.7,196.1 L656.8,197.0 L656.9,199.3 L657.0,196.9 L657.0,196.5 L657.1,196.8 L657.1,197.0 L657.2,199.5 L657.3,198.0 L657.4,198.4 L657.5,200.5 L657.5,200.5 L657.6,200.5 L657.7,198.9 L657.8,197.9 L657.9,200.4 L657.9,202.0 L658.0,199.8 L658.0,199.9 L658.1,196.7 L658.2,202.2 L658.3,200.1 L658.4,198.4 L658.5,200.3 L658.5,199.8 L658.6,201.1 L658.6,202.9 L658.8,199.6 L658.8,200.7 L658.9,200.1 L659.0,199.8 L659.0,201.0 L659.1,202.2 L659.2,201.0 L659.2,200.0 L659.4,201.1 L659.4,200.8 L659.5,201.4 L659.5,199.9 L659.6,200.7 L659.7,202.4 L659.8,200.6 L659.9,201.6 L660.0,200.5 L660.0,200.6 L660.1,199.7 L660.1,203.7 L660.2,201.9 L660.3,201.9 L660.4,201.9 L660.5,199.4 L660.7,199.7 L660.9,200.4 L661.0,198.7 L661.1,199.6 L661.3,201.5 L661.5,198.2 L661.6,199.6 L661.8,200.5 L661.9,200.5 L662.0,200.6 L662.2,199.8 L662.4,201.6 L662.5,198.0 L662.6,201.1 L662.8,198.9 L663.0,199.8 L663.1,200.5 L663.2,202.4 L663.4,199.6 L663.5,199.0 L663.7,201.7 L663.9,200.5 L664.0,200.6 L664.1,201.3 L664.3,201.8 L664.5,200.8 L664.6,198.3 L664.8,200.4 L664.9,200.7 L665.0,199.4 L665.2,199.5 L665.4,201.4 L665.5,200.9 L665.6,199.7 L665.8,201.3 L666.0,200.8 L666.1,199.2 L666.2,200.4 L666.4,199.2 L666.5,199.7 L666.7,201.0 L666.9,199.3 L667.0,199.3 L667.1,201.1 L667.3,199.6 L667.5,200.4 L667.6,200.4 L667.8,200.5 L667.9,201.1 L668.0,200.2 L668.2,199.8 L668.4,200.2 L668.5,202.0" fill="none" stroke="#00008b" stroke-width="1.4" stroke-linejoin="round" clip-path="url(#cTop)"/>
<path d="M112.4,132.4 L112.5,131.4 L112.7,131.9 L112.8,128.4 L113.0,136.8 L113.2,135.9 L113.3,133.5 L113.5,135.9 L113.6,135.3 L113.8,134.0 L113.9,137.2 L114.0,135.1 L114.2,135.4 L114.3,134.8 L114.5,137.4 L114.7,136.7 L114.8,138.1 L115.0,136.3 L115.1,137.9 L115.2,136.3 L115.4,139.7 L115.5,138.7 L115.7,139.2 L115.8,139.6 L116.0,137.2 L116.2,140.7 L116.3,143.2 L116.5,136.7 L116.6,136.8 L116.8,137.4 L116.9,141.8 L117.0,140.8 L117.2,142.7 L117.3,142.3 L117.5,141.6 L117.7,141.9 L117.8,141.4 L118.0,143.5 L118.1,140.2 L118.2,141.7 L118.4,143.2 L118.5,146.2 L118.7,141.9 L118.8,141.7 L119.0,142.9 L119.2,145.9 L119.3,144.1 L119.5,147.2 L119.6,141.9 L119.8,147.5 L119.9,147.6 L120.0,143.7 L120.2,146.7 L120.3,148.8 L120.5,147.2 L120.7,149.1 L120.8,151.7 L121.0,148.4 L121.1,147.7 L121.2,147.1 L121.4,149.8 L121.5,148.7 L121.7,148.9 L121.8,149.3 L122.0,150.9 L122.2,148.2 L122.3,147.7 L122.5,146.4 L122.6,152.8 L122.8,151.2 L122.9,153.8 L123.0,151.5 L123.2,150.5 L123.3,152.8 L123.5,152.1 L123.7,150.4 L123.8,151.2 L124.0,155.9 L124.1,153.7 L124.2,154.1 L124.4,153.1 L124.5,152.7 L124.7,155.5 L124.8,154.1 L125.0,153.3 L125.2,154.6 L125.3,153.5 L125.5,155.5 L125.6,157.3 L125.8,154.2 L125.9,158.1 L126.0,154.8 L126.2,156.3 L126.3,154.8 L126.5,155.9 L126.7,156.4 L126.8,155.7 L127.0,155.3 L127.1,155.4 L127.2,155.2 L127.4,154.0 L127.5,156.2 L127.7,157.3 L127.8,158.1 L128.0,157.7 L128.2,160.7 L128.3,157.3 L128.4,156.0 L128.6,159.8 L128.8,155.1 L128.9,158.4 L129.1,155.3 L129.2,157.3 L129.3,153.5 L129.5,158.1 L129.7,156.3 L129.8,154.9 L129.9,159.1 L130.1,157.5 L130.2,156.2 L130.4,154.8 L130.6,155.8 L130.7,155.5 L130.8,156.8 L131.0,156.8 L131.2,154.3 L131.3,154.4 L131.4,154.4 L131.6,153.0 L131.8,154.2 L131.9,155.1 L132.1,156.4 L132.2,157.5 L132.3,154.2 L132.5,156.6 L132.7,155.2 L132.8,159.5 L132.9,156.3 L133.1,157.4 L133.2,155.4 L133.4,155.8 L133.6,157.7 L133.7,157.0 L133.8,158.4 L134.0,155.5 L134.2,159.2 L134.3,156.9 L134.4,161.3 L134.6,158.2 L134.8,160.6 L134.9,156.9 L135.1,159.9 L135.2,158.0 L135.3,158.9 L135.5,159.8 L135.7,159.5 L135.8,160.5 L135.9,161.4 L136.1,161.4 L136.2,160.4 L136.4,158.5 L136.6,159.4 L136.7,160.4 L136.8,157.5 L137.0,162.0 L137.2,160.4 L137.3,160.4 L137.4,162.2 L137.6,161.7 L137.8,160.9 L137.9,158.9 L138.1,160.9 L138.2,160.8 L138.3,158.7 L138.5,161.6 L138.7,160.5 L138.8,156.2 L138.9,158.9 L139.1,156.0 L139.2,159.1 L139.4,157.8 L139.6,154.0 L139.7,153.5 L139.8,154.4 L140.0,152.9 L140.2,155.0 L140.3,152.7 L140.4,149.9 L140.6,150.2 L140.8,144.5 L140.9,147.2 L141.1,146.7 L141.2,143.2 L141.3,140.6 L141.5,141.0 L141.7,141.5 L141.8,135.8 L141.9,130.5 L142.1,132.4 L142.2,122.8 L142.4,124.5 L142.6,119.2 L142.7,119.4 L142.8,113.0 L143.0,115.2 L143.2,110.6 L143.3,103.6 L143.4,100.6 L143.6,102.0 L143.8,103.4 L143.9,98.7 L144.1,96.7 L144.2,94.4 L144.3,95.3 L144.5,93.2 L144.7,91.8 L144.8,87.7 L144.9,91.9 L145.1,91.5 L145.2,84.3 L145.4,92.4 L145.6,88.1 L145.7,84.7 L145.8,80.8 L146.0,86.7 L146.2,86.2 L146.3,83.1 L146.4,80.1 L146.6,87.3 L146.8,83.2 L146.9,83.6 L147.1,92.0 L147.2,90.5 L147.3,87.9 L147.5,84.7 L147.7,87.7 L147.8,80.8 L147.9,87.0 L148.1,85.3 L148.2,84.4 L148.4,84.2 L148.6,89.8 L148.7,89.2 L148.8,89.9 L149.0,92.1 L149.2,88.6 L149.3,88.3 L149.4,87.6 L149.6,91.6 L149.8,94.9 L149.9,93.5 L150.1,96.1 L150.2,92.7 L150.3,95.3 L150.5,95.5 L150.7,95.3 L150.8,103.3 L150.9,101.9 L151.1,99.0 L151.2,99.8 L151.4,102.2 L151.6,99.8 L151.7,104.6 L151.8,101.3 L152.0,103.9 L152.2,103.0 L152.3,104.8 L152.4,103.5 L152.6,103.5 L152.8,105.4 L152.9,106.6 L153.1,108.0 L153.2,109.2 L153.3,112.9 L153.5,111.7 L153.7,109.8 L153.8,112.3 L153.9,109.5 L154.1,114.3 L154.2,112.6 L154.4,108.6 L154.6,113.2 L154.7,113.3 L154.8,105.8 L155.0,110.0 L155.2,110.5 L155.3,107.4 L155.4,109.2 L155.6,109.4 L155.8,112.5 L155.9,112.1 L156.1,117.0 L156.2,110.5 L156.3,113.8 L156.5,111.4 L156.7,111.8 L156.8,108.6 L156.9,107.0 L157.1,109.4 L157.2,112.6 L157.4,114.3 L157.6,112.1 L157.7,111.8 L157.8,108.9 L158.0,113.9 L158.2,113.4 L158.3,109.3 L158.4,110.3 L158.6,108.1 L158.8,113.4 L158.9,111.0 L159.1,109.9 L159.2,110.9 L159.3,110.9 L159.5,108.9 L159.7,107.1 L159.8,106.9 L159.9,105.8 L160.1,110.5 L160.2,114.3 L160.4,105.7 L160.6,109.6 L160.7,110.1 L160.8,107.0 L161.0,109.5 L161.2,106.6 L161.3,111.5 L161.4,107.5 L161.6,109.0 L161.8,110.2 L161.9,107.6 L162.1,104.6 L162.2,107.2 L162.3,110.0 L162.5,108.0 L162.7,108.6 L162.8,105.6 L162.9,108.2 L163.1,109.4 L163.2,107.8 L163.4,111.8 L163.6,107.1 L163.7,105.1 L163.8,103.8 L164.0,109.7 L164.2,107.0 L164.3,109.2 L164.4,107.9 L164.6,110.4 L164.8,109.5 L164.9,105.8 L165.1,107.1 L165.2,108.8 L165.3,103.6 L165.5,109.5 L165.7,108.8 L165.8,108.2 L165.9,105.5 L166.1,106.6 L166.2,103.3 L166.4,105.9 L166.6,104.4 L166.7,105.8 L166.8,104.4 L167.0,106.0 L167.2,107.9 L167.3,102.3 L167.4,107.2 L167.6,100.6 L167.8,100.1 L167.9,104.6 L168.1,104.8 L168.2,105.6 L168.3,100.9 L168.5,104.3 L168.7,104.6 L168.8,107.1 L168.9,103.9 L169.1,105.2 L169.2,101.8 L169.4,103.5 L169.6,102.8 L169.7,105.3 L169.8,101.4 L170.0,101.6 L170.2,104.7 L170.3,107.3 L170.4,104.1 L170.6,103.8 L170.8,102.3 L170.9,105.4 L171.1,104.1 L171.2,106.7 L171.3,103.4 L171.5,100.5 L171.7,101.3 L171.8,100.2 L171.9,99.6 L172.1,105.2 L172.2,104.1 L172.4,99.4 L172.6,106.2 L172.7,102.6 L172.8,99.9 L173.0,102.8 L173.2,101.8 L173.3,100.1 L173.4,97.4 L173.6,101.9 L173.8,102.4 L173.9,95.9 L174.1,102.9 L174.2,103.1 L174.3,100.6 L174.5,101.9 L174.7,101.0 L174.8,99.7 L174.9,100.8 L175.1,104.7 L175.2,98.3 L175.4,102.1 L175.6,102.0 L175.7,100.0 L175.8,100.6 L176.0,98.4 L176.2,99.7 L176.3,101.6 L176.4,102.4 L176.6,99.6 L176.8,108.6 L176.9,100.4 L177.1,101.9 L177.2,101.1 L177.3,100.8 L177.5,104.6 L177.7,100.6 L177.8,104.7 L177.9,104.3 L178.1,99.4 L178.2,104.1 L178.4,100.3 L178.6,108.0 L178.7,100.9 L178.8,99.7 L179.0,97.5 L179.2,98.9 L179.3,100.5 L179.4,99.6 L179.6,99.1 L179.8,100.3 L179.9,101.5 L180.1,105.2 L180.2,98.1 L180.3,100.7 L180.5,99.8 L180.7,98.6 L180.8,99.2 L180.9,100.0 L181.1,103.7 L181.2,101.7 L181.4,100.9 L181.6,103.5 L181.7,102.8 L181.8,101.7 L182.0,103.1 L182.2,100.4 L182.3,103.7 L182.4,103.4 L182.6,101.4 L182.8,99.6 L182.9,105.8 L183.1,102.6 L183.2,109.3 L183.3,101.0 L183.5,104.4 L183.7,101.6 L183.8,103.2 L183.9,104.5 L184.1,100.9 L184.2,102.5 L184.4,103.1 L184.6,103.1 L184.7,104.3 L184.8,105.3 L185.0,105.0 L185.2,103.8 L185.3,102.5 L185.4,100.9 L185.6,101.9 L185.8,102.5 L185.9,105.3 L186.1,103.1 L186.2,101.3 L186.3,105.6 L186.5,102.5 L186.7,102.7 L186.8,104.1 L186.9,105.8 L187.1,99.5 L187.2,102.5 L187.4,105.5 L187.6,104.5 L187.7,103.5 L187.8,104.4 L188.0,108.8 L188.2,104.8 L188.3,107.6 L188.4,107.9 L188.6,105.2 L188.8,107.3 L188.9,105.5 L189.1,105.3 L189.2,104.2 L189.3,108.7 L189.5,106.0 L189.7,105.8 L189.8,104.6 L189.9,111.2 L190.1,108.9 L190.2,107.1 L190.4,105.9 L190.6,104.2 L190.7,108.3 L190.8,108.4 L191.0,104.7 L191.2,110.4 L191.3,109.7 L191.4,106.0 L191.6,106.9 L191.8,107.3 L191.9,108.6 L192.1,108.1 L192.2,104.9 L192.3,111.7 L192.5,109.3 L192.7,111.4 L192.8,111.5 L192.9,108.4 L193.1,109.6 L193.2,110.6 L193.4,110.7 L193.6,108.8 L193.7,107.9 L193.8,109.3 L194.0,107.6 L194.2,108.2 L194.3,105.1 L194.4,109.7 L194.6,107.4 L194.8,108.5 L194.9,109.7 L195.1,110.5 L195.2,114.0 L195.3,110.4 L195.5,107.0 L195.7,110.4 L195.8,108.9 L195.9,111.2 L196.1,108.9 L196.2,108.9 L196.4,109.4 L196.6,109.2 L196.7,106.7 L196.8,109.3 L197.0,110.8 L197.2,113.5 L197.3,110.3 L197.4,110.3 L197.6,112.4 L197.8,112.4 L197.9,114.7 L198.1,112.6 L198.2,111.4 L198.3,114.4 L198.5,114.9 L198.7,110.7 L198.8,112.1 L198.9,108.3 L199.1,111.2 L199.2,110.2 L199.4,111.7 L199.6,111.2 L199.7,112.0 L199.8,112.2 L200.0,113.5 L200.2,113.1 L200.3,111.5 L200.4,110.0 L200.6,115.5 L200.8,115.9 L200.9,112.0 L201.1,114.3 L201.2,109.9 L201.3,109.9 L201.5,112.8 L201.7,116.6 L201.8,111.3 L201.9,111.9 L202.1,117.1 L202.2,109.8 L202.4,115.3 L202.6,115.0 L202.7,113.7 L202.8,114.6 L203.0,119.9 L203.2,112.0 L203.3,113.9 L203.4,114.1 L203.6,113.3 L203.8,112.0 L203.9,118.3 L204.1,115.5 L204.2,111.5 L204.3,113.8 L204.5,116.3 L204.7,116.4 L204.8,112.6 L204.9,115.6 L205.1,116.5 L205.2,116.9 L205.4,117.1 L205.6,112.6 L205.7,120.4 L205.8,117.1 L206.0,120.6 L206.2,122.9 L206.3,116.8 L206.4,114.7 L206.6,119.3 L206.8,117.2 L206.9,116.9 L207.1,115.8 L207.2,121.6 L207.3,117.4 L207.5,115.6 L207.7,117.7 L207.8,116.4 L207.9,119.3 L208.1,118.2 L208.2,117.1 L208.4,120.7 L208.6,118.3 L208.7,121.2 L208.8,122.5 L209.0,119.3 L209.2,118.9 L209.3,120.7 L209.4,122.3 L209.6,120.6 L209.8,121.0 L209.9,120.8 L210.1,121.6 L210.2,122.4 L210.3,119.8 L210.5,120.4 L210.7,121.6 L210.8,120.3 L210.9,122.1 L211.1,123.0 L211.2,122.0 L211.4,120.9 L211.6,120.7 L211.7,125.9 L211.8,124.3 L212.0,120.4 L212.2,121.1 L212.3,126.7 L212.4,126.1 L212.6,123.4 L212.8,125.6 L212.9,120.4 L213.1,123.5 L213.2,125.1 L213.3,120.0 L213.5,122.3 L213.7,125.5 L213.8,126.4 L213.9,123.0 L214.1,124.9 L214.2,127.6 L214.4,123.8 L214.6,122.0 L214.7,124.6 L214.8,124.1 L215.0,127.6 L215.2,125.4 L215.3,123.6 L215.4,130.0 L215.6,124.4 L215.8,126.4 L215.9,126.9 L216.1,127.2 L216.2,126.1 L216.3,127.0 L216.5,125.8 L216.7,123.2 L216.8,125.7 L216.9,125.8 L217.1,125.9 L217.2,126.6 L217.4,125.2 L217.6,129.1 L217.7,129.7 L217.8,122.4 L218.0,126.8 L218.2,125.4 L218.3,121.8 L218.4,127.8 L218.6,125.8 L218.8,126.4 L218.9,125.9 L219.1,129.4 L219.2,129.8 L219.3,127.9 L219.5,128.8 L219.7,127.3 L219.8,127.9 L219.9,126.2 L220.1,127.8 L220.2,126.4 L220.4,128.6 L220.6,129.5 L220.7,128.6 L220.8,130.3 L221.0,133.3 L221.2,124.0 L221.3,128.2 L221.4,127.1 L221.6,127.4 L221.8,125.7 L221.9,128.5 L222.1,128.0 L222.2,127.3 L222.3,128.1 L222.5,127.5 L222.7,124.1 L222.8,130.8 L222.9,128.2 L223.1,127.0 L223.2,129.5 L223.4,127.7 L223.6,124.8 L223.7,130.8 L223.8,125.9 L224.0,128.7 L224.2,129.5 L224.3,131.9 L224.4,131.6 L224.6,129.7 L224.8,128.0 L224.9,128.7 L225.1,131.6 L225.2,133.0 L225.3,130.7 L225.5,128.5 L225.7,131.7 L225.8,129.1 L225.9,129.1 L226.1,129.4 L226.2,131.1 L226.4,130.6 L226.6,132.0 L226.7,132.6 L226.8,131.2 L227.0,125.8 L227.2,127.0 L227.3,130.7 L227.4,130.3 L227.6,134.6 L227.8,130.5 L227.9,130.3 L228.1,132.5 L228.2,132.8 L228.3,130.3 L228.5,131.7 L228.7,128.7 L228.8,129.1 L228.9,133.4 L229.1,128.3 L229.2,132.9 L229.4,132.4 L229.6,132.7 L229.7,133.0 L229.8,132.4 L230.0,127.3 L230.2,129.5 L230.3,130.3 L230.4,133.3 L230.6,129.4 L230.8,130.3 L230.9,131.0 L231.1,134.2 L231.2,129.0 L231.3,129.3 L231.5,133.1 L231.7,127.9 L231.8,132.6 L231.9,131.2 L232.1,129.1 L232.2,131.4 L232.4,130.3 L232.6,132.6 L232.7,133.0 L232.8,135.2 L233.0,132.4 L233.2,132.6 L233.3,131.4 L233.4,132.4 L233.6,134.5 L233.8,128.8 L233.9,133.7 L234.1,131.4 L234.2,132.3 L234.3,132.5 L234.5,132.9 L234.7,130.9 L234.8,128.6 L234.9,128.4 L235.0,127.3 L235.1,125.7 L235.2,125.9 L235.2,126.0 L235.3,124.1 L235.4,123.2 L235.4,120.2 L235.6,122.0 L235.6,118.7 L235.7,123.8 L235.8,121.0 L235.8,126.1 L235.9,129.8 L236.0,124.7 L236.1,128.6 L236.2,128.1 L236.2,127.0 L236.3,127.6 L236.3,130.8 L236.4,133.4 L236.5,131.9 L236.6,129.2 L236.7,130.4 L236.8,132.5 L236.8,135.7 L236.9,134.1 L236.9,134.3 L237.1,136.3 L237.1,133.7 L237.2,134.1 L237.2,134.0 L237.3,131.2 L237.4,135.4 L237.5,135.4 L237.6,136.5 L237.7,132.6 L237.7,133.3 L237.8,136.6 L237.8,135.5 L237.9,137.5 L238.0,133.4 L238.1,135.4 L238.2,133.8 L238.2,135.7 L238.3,134.2 L238.4,136.1 L238.4,137.1 L238.6,136.4 L238.6,131.7 L238.7,136.8 L238.8,135.9 L238.8,133.1 L238.9,133.4 L239.0,135.0 L239.1,136.0 L239.2,134.0 L239.2,131.8 L239.3,135.2 L239.3,135.0 L239.4,139.1 L239.5,132.1 L239.6,139.0 L239.7,137.5 L239.8,134.6 L239.8,137.0 L239.9,134.0 L239.9,135.5 L240.1,132.1 L240.1,133.4 L240.2,131.2 L240.2,130.0 L240.3,132.1 L240.4,131.2 L240.5,133.2 L240.6,134.3 L240.7,131.3 L240.7,131.5 L240.8,131.4 L240.8,127.8 L240.9,131.0 L241.0,130.3 L241.1,129.8 L241.2,127.6 L241.2,125.6 L241.3,128.5 L241.4,129.1 L241.4,130.8 L241.6,130.0 L241.6,130.4 L241.7,127.9 L241.8,129.2 L241.8,126.2 L241.9,127.6 L242.0,127.7 L242.1,130.8 L242.2,125.9 L242.2,122.9 L242.3,127.5 L242.3,123.4 L242.4,124.4 L242.5,123.9 L242.6,122.5 L242.7,126.6 L242.8,125.1 L242.8,122.8 L242.9,124.0 L242.9,123.1 L243.1,125.0 L243.1,123.2 L243.2,122.6 L243.2,122.9 L243.3,123.5 L243.4,124.9 L243.5,123.0 L243.6,124.6 L243.7,125.9 L243.7,129.6 L243.8,127.2 L243.8,120.4 L243.9,125.3 L244.0,125.7 L244.1,127.5 L244.2,130.0 L244.2,129.0 L244.3,123.6 L244.4,128.9 L244.4,128.7 L244.6,129.8 L244.6,131.8 L244.7,127.8 L244.8,132.0 L244.8,127.4 L244.9,130.8 L245.0,131.9 L245.1,135.6 L245.2,130.5 L245.2,128.9 L245.3,133.7 L245.3,131.5 L245.4,135.9 L245.5,132.0 L245.6,132.0 L245.7,136.1 L245.8,134.3 L245.8,136.1 L245.9,132.0 L245.9,137.8 L246.1,134.0 L246.1,136.7 L246.2,133.6 L246.2,132.7 L246.3,135.3 L246.4,136.2 L246.5,139.0 L246.6,136.8 L246.7,137.7 L246.7,137.7 L246.8,142.3 L246.8,135.2 L246.9,139.1 L247.0,136.6 L247.1,137.5 L247.2,136.1 L247.2,139.3 L247.3,134.9 L247.4,134.9 L247.4,136.9 L247.6,135.3 L247.6,138.7 L247.7,139.2 L247.8,136.1 L247.8,139.0 L247.9,136.4 L248.0,137.6 L248.1,137.7 L248.2,141.1 L248.2,137.7 L248.3,136.1 L248.3,136.1 L248.4,139.9 L248.5,134.7 L248.6,136.9 L248.7,137.1 L248.8,133.3 L248.8,136.9 L248.9,139.6 L248.9,138.1 L249.1,136.1 L249.1,138.9 L249.2,138.6 L249.2,141.3 L249.3,136.1 L249.4,136.7 L249.5,137.4 L249.6,136.9 L249.7,137.1 L249.7,136.6 L249.8,135.1 L249.8,133.2 L249.9,134.4 L250.0,132.5 L250.1,132.1 L250.2,132.4 L250.2,133.0 L250.3,132.8 L250.4,127.6 L250.4,129.1 L250.6,127.9 L250.6,125.3 L250.7,120.3 L250.8,118.3 L250.8,121.8 L250.9,121.2 L251.0,119.0 L251.1,116.3 L251.2,120.8 L251.2,120.7 L251.3,119.5 L251.3,120.0 L251.4,118.7 L251.5,124.7 L251.6,122.6 L251.7,127.8 L251.8,130.0 L251.8,129.8 L251.9,134.3 L251.9,131.7 L252.1,134.7 L252.1,135.7 L252.2,135.8 L252.2,135.0 L252.3,138.7 L252.4,137.5 L252.5,136.8 L252.6,137.0 L252.7,137.8 L252.7,141.9 L252.8,138.1 L252.8,137.5 L252.9,136.1 L253.0,135.9 L253.1,134.8 L253.2,138.7 L253.2,138.3 L253.3,136.4 L253.4,135.6 L253.4,137.8 L253.6,137.4 L253.6,136.0 L253.7,138.9 L253.8,138.6 L253.8,138.2 L253.9,139.7 L254.0,137.0 L254.1,140.6 L254.2,136.1 L254.2,138.8 L254.3,138.6 L254.4,136.3 L254.6,136.3 L254.8,131.9 L254.9,129.8 L255.1,130.6 L255.2,128.5 L255.3,130.8 L255.5,130.6 L255.7,133.2 L255.8,134.4 L255.9,135.8 L256.1,136.8 L256.2,136.9 L256.4,137.4 L256.6,142.3 L256.7,135.6 L256.9,138.6 L257.0,140.8 L257.1,139.8 L257.2,141.6 L257.3,140.1 L257.4,136.8 L257.4,138.5 L257.5,136.6 L257.6,140.9 L257.6,141.8 L257.8,138.3 L257.8,140.1 L257.9,138.4 L257.9,136.5 L258.1,138.3 L258.1,136.2 L258.2,138.0 L258.2,139.4 L258.4,140.3 L258.4,141.3 L258.5,138.3 L258.6,139.3 L258.6,139.6 L258.7,139.8 L258.8,133.5 L258.9,137.1 L258.9,139.7 L259.0,136.1 L259.1,138.2 L259.1,139.0 L259.2,133.5 L259.3,136.2 L259.4,136.1 L259.4,135.1 L259.6,131.1 L259.6,133.7 L259.7,130.5 L259.8,132.1 L259.9,129.5 L259.9,126.8 L260.0,126.2 L260.1,123.7 L260.1,122.0 L260.2,119.7 L260.3,121.1 L260.4,122.7 L260.4,121.5 L260.5,121.5 L260.6,121.4 L260.6,122.3 L260.8,126.3 L260.8,123.2 L260.9,131.6 L260.9,128.7 L261.1,134.6 L261.1,133.7 L261.2,132.5 L261.2,135.3 L261.4,135.7 L261.4,136.6 L261.5,138.1 L261.6,136.1 L261.6,136.6 L261.7,137.2 L261.8,135.9 L261.9,138.0 L261.9,139.2 L262.0,139.3 L262.1,139.4 L262.1,138.4 L262.2,140.6 L262.3,135.5 L262.4,138.6 L262.4,138.8 L262.6,141.0 L262.6,140.6 L262.7,140.9 L262.8,139.5 L262.9,141.2 L262.9,137.7 L263.0,139.7 L263.1,135.8 L263.1,142.7 L263.2,142.5 L263.3,138.6 L263.4,138.1 L263.4,135.9 L263.5,136.9 L263.6,139.9 L263.8,139.5 L263.9,137.1 L264.1,138.9 L264.2,138.6 L264.4,140.7 L264.5,141.1 L264.6,139.5 L264.8,140.1 L264.9,139.9 L265.1,136.2 L265.2,140.3 L265.4,139.8 L265.6,141.3 L265.7,136.7 L265.9,141.4 L266.0,138.8 L266.1,140.5 L266.3,142.2 L266.4,137.4 L266.6,137.7 L266.8,141.8 L266.9,138.0 L267.1,138.3 L267.2,141.1 L267.4,139.7 L267.5,141.5 L267.6,140.6 L267.8,140.0 L267.9,141.8 L268.1,144.0 L268.2,139.9 L268.4,142.7 L268.6,142.1 L268.7,140.3 L268.9,140.9 L269.0,138.4 L269.1,138.9 L269.3,140.6 L269.4,140.0 L269.6,142.4 L269.8,137.7 L269.9,139.5 L270.1,138.9 L270.2,139.7 L270.4,142.1 L270.5,137.8 L270.6,141.5 L270.8,138.9 L270.9,139.3 L271.1,141.7 L271.2,139.4 L271.4,141.1 L271.6,140.0 L271.7,139.5 L271.9,139.1 L272.0,136.6 L272.1,138.3 L272.3,139.9 L272.4,139.9 L272.6,136.7 L272.8,141.1 L272.9,140.2 L273.1,136.7 L273.2,136.9 L273.4,139.5 L273.5,135.0 L273.6,136.2 L273.8,136.4 L273.9,134.7 L274.1,132.4 L274.2,129.6 L274.4,122.6 L274.6,117.1 L274.7,114.7 L274.9,101.4 L275.0,97.3 L275.1,95.1 L275.3,94.4 L275.4,102.0 L275.6,106.4 L275.8,114.8 L275.9,115.5 L276.1,128.0 L276.2,132.4 L276.4,132.1 L276.5,138.0 L276.6,137.5 L276.8,139.5 L276.9,141.7 L277.1,138.9 L277.2,137.2 L277.4,139.2 L277.6,137.1 L277.7,138.0 L277.9,138.2 L278.0,138.4 L278.1,141.9 L278.3,141.3 L278.4,138.3 L278.6,142.0 L278.8,137.0 L278.9,138.9 L279.1,139.8 L279.2,142.3 L279.4,141.5 L279.5,141.0 L279.6,142.6 L279.8,141.5 L279.9,142.7 L280.1,138.9 L280.2,137.3 L280.4,139.6 L280.6,141.8 L280.7,140.8 L280.9,142.0 L281.0,141.7 L281.1,141.4 L281.3,142.0 L281.4,139.2 L281.6,142.5 L281.8,138.8 L281.9,140.4 L282.1,138.1 L282.2,141.6 L282.4,137.9 L282.5,143.2 L282.6,138.3 L282.8,141.3 L282.9,140.6 L283.0,139.3 L283.1,143.1 L283.1,140.1 L283.2,143.5 L283.3,139.0 L283.4,139.5 L283.4,137.3 L283.6,141.9 L283.6,142.6 L283.7,141.3 L283.8,140.7 L283.9,139.3 L283.9,145.2 L284.0,142.3 L284.1,137.7 L284.1,140.4 L284.2,136.3 L284.3,143.8 L284.4,144.5 L284.4,143.6 L284.5,140.8 L284.6,139.8 L284.6,138.4 L284.8,141.8 L284.8,139.5 L284.9,140.0 L284.9,139.5 L285.1,139.9 L285.1,141.9 L285.2,143.1 L285.2,140.1 L285.4,139.5 L285.4,137.2 L285.5,136.4 L285.6,136.3 L285.6,139.0 L285.7,137.4 L285.8,137.6 L285.9,136.1 L285.9,133.5 L286.0,131.3 L286.1,131.7 L286.1,129.1 L286.2,134.1 L286.3,130.5 L286.4,128.4 L286.4,132.3 L286.6,127.7 L286.6,129.3 L286.7,128.3 L286.8,129.5 L286.9,129.0 L286.9,131.0 L287.0,133.8 L287.1,129.7 L287.1,129.2 L287.2,136.3 L287.3,135.4 L287.4,137.3 L287.4,136.3 L287.5,140.1 L287.6,141.5 L287.6,136.6 L287.8,140.6 L287.8,138.6 L287.9,137.4 L287.9,139.9 L288.1,141.8 L288.1,138.5 L288.2,138.9 L288.2,143.5 L288.4,141.5 L288.4,142.3 L288.5,139.6 L288.6,140.5 L288.6,142.0 L288.7,142.1 L288.8,142.1 L288.9,144.7 L288.9,142.1 L289.0,139.1 L289.1,140.3 L289.1,141.8 L289.2,144.1 L289.3,140.6 L289.4,141.2 L289.4,141.8 L289.6,140.6 L289.6,140.4 L289.7,141.4 L289.8,143.6 L289.9,142.6 L289.9,141.2 L290.0,142.4 L290.1,139.4 L290.1,143.5 L290.2,143.0 L290.3,142.1 L290.4,138.7 L290.4,145.2 L290.5,136.3 L290.6,139.7 L290.6,139.8 L290.8,142.6 L290.8,138.6 L290.9,141.6 L290.9,140.9 L291.1,140.5 L291.1,142.5 L291.2,143.4 L291.2,141.5 L291.4,140.2 L291.4,136.5 L291.5,143.0 L291.6,139.8 L291.6,136.8 L291.7,140.3 L291.8,142.3 L291.9,139.3 L291.9,137.1 L292.0,143.0 L292.1,139.6 L292.1,138.8 L292.2,139.4 L292.3,133.4 L292.4,136.3 L292.4,135.7 L292.6,139.0 L292.6,133.4 L292.7,132.0 L292.8,129.8 L292.9,129.1 L292.9,129.3 L293.0,128.0 L293.1,125.9 L293.1,127.2 L293.2,123.1 L293.3,120.2 L293.4,119.7 L293.4,114.6 L293.5,110.5 L293.6,104.2 L293.6,105.2 L293.8,98.0 L293.8,99.2 L293.9,89.8 L293.9,84.2 L294.1,82.0 L294.1,80.6 L294.2,71.7 L294.2,69.1 L294.4,62.2 L294.4,61.5 L294.5,52.1 L294.6,48.2 L294.6,40.5 L294.7,35.5 L294.8,35.0 L294.9,31.7 L294.9,22.8 L295.0,23.4 L295.1,19.0 L295.1,16.2 L295.2,14.0 L295.3,15.2 L295.4,11.1 L295.4,12.5 L295.6,14.5 L295.6,15.6 L295.7,18.1 L295.8,20.7 L295.9,25.6 L295.9,25.5 L296.0,32.8 L296.1,34.6 L296.1,44.5 L296.2,42.6 L296.3,51.4 L296.4,56.5 L296.4,61.7 L296.5,65.0 L296.6,71.5 L296.6,76.3 L296.8,80.2 L296.8,85.3 L296.9,91.4 L296.9,91.9 L297.1,100.5 L297.1,101.8 L297.2,108.0 L297.2,111.3 L297.4,114.7 L297.4,113.9 L297.5,120.2 L297.6,118.5 L297.6,123.0 L297.7,128.7 L297.8,128.2 L297.9,132.1 L297.9,131.0 L298.0,132.3 L298.1,131.9 L298.1,136.2 L298.2,135.5 L298.3,137.5 L298.4,138.2 L298.4,138.8 L298.6,139.2 L298.6,138.9 L298.7,139.6 L298.8,138.6 L298.9,136.5 L298.9,141.4 L299.0,144.6 L299.1,143.0 L299.1,145.5 L299.2,142.4 L299.3,140.1 L299.4,140.1 L299.4,143.4 L299.5,142.8 L299.6,142.1 L299.6,143.8 L299.8,141.1 L299.8,143.6 L299.9,142.3 L299.9,143.2 L300.1,145.1 L300.1,142.8 L300.2,145.6 L300.2,145.6 L300.4,142.0 L300.4,147.5 L300.5,141.3 L300.6,143.4 L300.6,144.9 L300.8,139.7 L300.9,145.7 L301.1,146.0 L301.2,143.9 L301.4,144.7 L301.6,144.7 L301.7,144.0 L301.9,146.3 L302.0,143.9 L302.1,144.5 L302.3,145.3 L302.4,146.2 L302.6,146.7 L302.8,142.3 L302.9,141.3 L303.0,144.7 L303.1,144.9 L303.1,143.1 L303.2,145.5 L303.3,146.1 L303.4,145.7 L303.4,148.0 L303.5,143.2 L303.6,145.1 L303.6,148.5 L303.8,146.3 L303.8,143.1 L303.9,145.4 L303.9,147.1 L304.1,148.7 L304.1,146.2 L304.2,147.0 L304.2,143.0 L304.4,144.4 L304.4,146.8 L304.5,142.9 L304.6,144.3 L304.6,140.7 L304.7,146.4 L304.8,142.9 L304.9,143.7 L304.9,139.0 L305.0,138.7 L305.1,142.8 L305.1,138.1 L305.2,135.9 L305.3,136.7 L305.4,134.7 L305.4,129.2 L305.6,128.9 L305.6,129.9 L305.7,128.6 L305.8,128.9 L305.9,127.5 L305.9,128.2 L306.0,130.3 L306.1,129.6 L306.1,131.4 L306.2,133.0 L306.3,136.2 L306.4,137.0 L306.4,138.3 L306.5,139.6 L306.6,141.5 L306.6,142.8 L306.8,144.0 L306.8,141.6 L306.9,146.3 L306.9,142.0 L307.1,146.2 L307.1,144.2 L307.2,146.8 L307.2,147.7 L307.4,142.7 L307.4,147.2 L307.5,146.7 L307.6,145.5 L307.6,147.0 L307.7,145.6 L307.8,146.7 L307.9,144.7 L307.9,148.0 L308.0,147.7 L308.1,148.0 L308.1,145.6 L308.2,150.0 L308.3,150.3 L308.4,146.7 L308.4,146.2 L308.6,146.3 L308.6,148.2 L308.8,148.8 L308.9,145.8 L309.1,143.7 L309.2,148.1 L309.4,147.3 L309.5,147.7 L309.6,148.3 L309.8,145.6 L309.9,147.7 L310.1,147.1 L310.2,148.3 L310.4,149.8 L310.6,147.8 L310.7,146.4 L310.9,150.0 L311.0,149.2 L311.1,147.7 L311.3,144.9 L311.4,146.6 L311.6,148.4 L311.8,149.2 L311.9,147.4 L312.1,149.1 L312.2,147.3 L312.4,147.7 L312.5,149.4 L312.6,148.1 L312.8,148.9 L312.9,150.2 L313.1,150.7 L313.2,147.8 L313.4,148.4 L313.6,146.6 L313.7,146.7 L313.9,149.5 L314.0,148.2 L314.1,146.0 L314.3,150.1 L314.4,147.8 L314.6,148.8 L314.8,150.1 L314.9,150.1 L315.1,149.4 L315.2,146.2 L315.4,150.6 L315.5,148.7 L315.6,147.3 L315.8,146.1 L315.9,152.1 L316.1,150.2 L316.2,150.2 L316.4,151.1 L316.6,150.0 L316.7,147.7 L316.9,151.4 L317.0,152.0 L317.1,151.2 L317.3,153.0 L317.4,153.7 L317.6,149.2 L317.8,149.8 L317.9,152.1 L318.1,151.0 L318.2,151.1 L318.4,152.4 L318.5,152.1 L318.6,150.2 L318.8,151.2 L318.9,149.8 L319.1,150.8 L319.2,149.3 L319.4,147.9 L319.6,150.4 L319.7,150.3 L319.9,152.9 L320.0,154.0 L320.1,151.5 L320.3,152.3 L320.4,150.5 L320.6,150.1 L320.8,151.2 L320.9,151.2 L321.1,152.3 L321.2,152.0 L321.4,154.6 L321.5,151.5 L321.6,149.2 L321.8,152.2 L321.9,150.9 L322.1,152.4 L322.2,154.0 L322.4,151.1 L322.6,152.1 L322.7,153.1 L322.9,150.7 L323.0,152.7 L323.1,153.3 L323.3,153.8 L323.4,154.3 L323.6,153.5 L323.8,153.2 L323.9,150.3 L324.1,148.2 L324.2,151.1 L324.4,155.1 L324.5,153.0 L324.6,149.1 L324.8,152.2 L324.9,153.5 L325.1,149.9 L325.2,154.0 L325.4,151.2 L325.6,154.8 L325.7,153.2 L325.9,158.3 L326.0,151.0 L326.1,153.7 L326.3,150.9 L326.4,155.3 L326.6,153.6 L326.8,155.0 L326.9,153.7 L327.1,151.6 L327.2,152.5 L327.4,151.6 L327.5,151.9 L327.6,153.9 L327.8,155.5 L327.9,155.2 L328.1,154.7 L328.2,153.0 L328.4,154.8 L328.6,152.6 L328.7,154.4 L328.9,155.4 L329.0,153.8 L329.1,153.4 L329.3,153.5 L329.4,155.3 L329.6,153.8 L329.8,152.0 L329.9,153.7 L330.1,152.7 L330.2,156.9 L330.4,154.6 L330.5,152.2 L330.6,155.1 L330.8,155.9 L330.9,155.4 L331.1,154.2 L331.2,155.1 L331.4,155.3 L331.6,156.6 L331.7,155.6 L331.9,158.7 L332.0,154.8 L332.1,157.7 L332.3,155.2 L332.4,152.5 L332.6,153.4 L332.8,152.4 L332.9,152.7 L333.1,157.4 L333.2,154.5 L333.4,156.6 L333.5,154.2 L333.6,155.7 L333.8,154.1 L333.9,157.2 L334.1,155.5 L334.2,155.2 L334.4,155.7 L334.6,159.6 L334.7,156.8 L334.9,157.5 L335.0,154.2 L335.1,155.2 L335.3,156.8 L335.4,153.4 L335.6,158.6 L335.8,157.0 L335.9,156.5 L336.1,156.3 L336.2,156.3 L336.4,155.9 L336.5,159.0 L336.6,157.9 L336.8,158.9 L336.9,156.5 L337.1,155.6 L337.2,159.2 L337.4,155.2 L337.6,156.2 L337.7,158.4 L337.9,159.0 L338.0,155.2 L338.1,156.9 L338.3,157.5 L338.4,157.3 L338.6,156.1 L338.8,158.6 L338.9,156.8 L339.1,157.3 L339.2,154.1 L339.4,157.6 L339.5,154.7 L339.6,159.0 L339.8,158.7 L339.9,157.1 L340.1,158.2 L340.2,158.2 L340.4,157.8 L340.6,158.7 L340.7,157.9 L340.9,157.4 L341.0,156.9 L341.1,160.9 L341.3,158.6 L341.4,158.3 L341.6,159.5 L341.8,157.8 L341.9,157.8 L342.1,159.5 L342.2,160.1 L342.4,159.6 L342.5,156.2 L342.6,158.7 L342.8,158.6 L342.9,159.4 L343.1,157.3 L343.2,157.1 L343.4,158.6 L343.6,157.4 L343.7,157.1 L343.9,158.7 L344.0,160.3 L344.1,159.1 L344.3,160.7 L344.4,157.4 L344.6,160.1 L344.8,159.0 L344.9,157.7 L345.1,158.4 L345.2,157.8 L345.4,158.8 L345.5,158.0 L345.6,161.2 L345.8,158.7 L345.9,157.1 L346.1,159.0 L346.2,160.0 L346.4,158.9 L346.6,160.8 L346.7,158.0 L346.9,158.1 L347.0,162.0 L347.1,159.5 L347.3,160.4 L347.4,160.4 L347.6,160.5 L347.8,159.7 L347.9,159.4 L348.1,161.4 L348.2,159.0 L348.4,160.0 L348.5,160.9 L348.6,159.2 L348.8,157.5 L348.9,160.6 L349.1,161.6 L349.2,160.4 L349.4,157.4 L349.6,161.1 L349.7,163.1 L349.9,157.7 L350.0,156.0 L350.1,159.8 L350.3,160.4 L350.4,161.5 L350.6,161.6 L350.8,160.5 L350.9,161.3 L351.1,161.0 L351.2,160.7 L351.4,160.5 L351.5,160.4 L351.6,161.7 L351.8,161.3 L351.9,160.1 L352.1,162.5 L352.2,159.7 L352.4,160.5 L352.6,161.2 L352.7,158.1 L352.9,160.5 L353.0,162.4 L353.1,162.4 L353.3,159.3 L353.4,159.9 L353.6,159.6 L353.8,160.9 L353.9,161.2 L354.1,158.9 L354.2,161.9 L354.4,161.5 L354.5,161.3 L354.6,160.4 L354.8,161.2 L354.9,158.8 L355.1,161.8 L355.2,161.8 L355.4,161.3 L355.6,159.7 L355.7,163.4 L355.9,163.1 L356.0,158.5 L356.1,161.9 L356.3,161.4 L356.4,157.2 L356.6,161.8 L356.8,161.9 L356.9,161.8 L357.1,160.8 L357.2,159.3 L357.4,159.3 L357.5,160.6 L357.6,161.2 L357.8,158.4 L357.9,158.3 L358.1,159.3 L358.2,154.5 L358.4,158.0 L358.6,156.5 L358.7,153.0 L358.9,157.0 L359.0,154.0 L359.1,156.2 L359.3,156.8 L359.4,152.7 L359.6,152.7 L359.8,154.5 L359.9,152.1 L360.1,156.1 L360.2,155.7 L360.4,157.4 L360.5,153.6 L360.6,157.2 L360.8,158.1 L360.9,155.2 L361.1,159.7 L361.2,156.7 L361.4,159.5 L361.6,157.6 L361.7,161.1 L361.9,162.8 L362.0,160.6 L362.1,160.7 L362.3,162.9 L362.4,160.4 L362.6,161.3 L362.8,162.6 L362.9,162.1 L363.1,163.9 L363.2,163.4 L363.4,164.6 L363.5,161.7 L363.6,163.5 L363.8,160.6 L363.9,163.3 L364.1,164.6 L364.2,165.5 L364.4,160.1 L364.6,161.8 L364.7,163.1 L364.9,160.8 L365.0,163.0 L365.1,163.0 L365.3,161.4 L365.4,161.4 L365.6,160.8 L365.8,162.7 L365.9,164.2 L366.1,162.7 L366.2,166.5 L366.4,160.1 L366.5,161.5 L366.6,163.4 L366.8,160.7 L366.9,163.0 L367.1,163.7 L367.2,162.8 L367.4,162.2 L367.6,164.0 L367.7,163.3 L367.9,163.8 L368.0,163.5 L368.1,161.7 L368.3,161.1 L368.4,162.2 L368.6,163.1 L368.8,162.6 L368.9,164.3 L369.1,163.3 L369.1,164.4 L369.2,163.1 L369.2,161.9 L369.4,164.3 L369.4,163.7 L369.5,161.7 L369.6,162.4 L369.6,167.3 L369.7,157.9 L369.8,164.8 L369.9,163.2 L369.9,163.0 L370.0,162.6 L370.1,162.3 L370.1,166.7 L370.2,162.4 L370.3,162.6 L370.4,164.3 L370.4,163.7 L370.6,162.8 L370.6,162.6 L370.7,161.0 L370.8,164.7 L370.9,161.4 L370.9,159.2 L371.0,164.4 L371.1,163.8 L371.1,163.0 L371.2,161.6 L371.3,163.9 L371.4,160.2 L371.4,158.1 L371.5,161.4 L371.6,161.8 L371.6,161.2 L371.8,162.8 L371.8,160.6 L371.9,158.3 L371.9,158.0 L372.1,159.0 L372.1,157.3 L372.2,156.9 L372.2,154.3 L372.4,156.5 L372.4,155.2 L372.5,157.9 L372.6,158.0 L372.6,159.6 L372.7,161.6 L372.8,159.3 L372.9,162.2 L372.9,159.0 L373.0,161.3 L373.1,163.1 L373.1,164.9 L373.2,160.8 L373.3,162.3 L373.4,163.3 L373.4,163.0 L373.6,162.0 L373.6,161.1 L373.7,161.9 L373.8,163.7 L373.9,161.9 L373.9,166.7 L374.0,165.9 L374.1,161.2 L374.1,163.4 L374.2,166.2 L374.3,166.5 L374.4,166.0 L374.4,162.2 L374.5,163.8 L374.6,166.4 L374.6,164.6 L374.8,163.8 L374.8,165.3 L374.9,166.0 L374.9,164.8 L375.1,165.0 L375.1,166.2 L375.2,163.8 L375.2,163.3 L375.4,165.9 L375.4,162.9 L375.5,165.5 L375.6,163.7 L375.8,166.1 L375.9,163.1 L376.1,166.7 L376.2,165.4 L376.4,164.6 L376.6,163.8 L376.7,164.9 L376.9,163.7 L377.0,163.4 L377.1,166.8 L377.3,166.2 L377.4,167.2 L377.6,163.3 L377.8,162.4 L377.9,163.0 L378.1,166.4 L378.2,166.7 L378.4,162.7 L378.5,167.1 L378.6,164.9 L378.8,163.8 L378.9,165.6 L379.1,166.6 L379.2,165.4 L379.4,165.5 L379.6,164.5 L379.7,163.7 L379.9,165.3 L380.0,163.5 L380.1,166.9 L380.3,164.7 L380.4,168.0 L380.6,163.7 L380.8,168.2 L380.9,164.8 L381.1,164.8 L381.2,166.7 L381.4,167.6 L381.5,166.2 L381.6,165.8 L381.8,169.4 L381.9,167.2 L382.1,164.6 L382.2,166.1 L382.4,169.1 L382.6,167.1 L382.6,167.8 L382.7,169.7 L382.8,165.7 L382.9,167.2 L382.9,165.7 L383.0,166.7 L383.1,167.5 L383.1,164.7 L383.2,167.0 L383.3,167.0 L383.4,168.3 L383.4,165.9 L383.5,164.9 L383.6,167.4 L383.6,165.2 L383.8,167.1 L383.8,167.7 L383.9,165.6 L383.9,166.7 L384.1,165.4 L384.1,162.7 L384.2,164.8 L384.2,163.8 L384.4,167.0 L384.4,165.3 L384.5,166.7 L384.6,166.8 L384.6,168.4 L384.7,166.3 L384.8,166.2 L384.9,167.5 L384.9,169.1 L385.0,166.5 L385.1,167.0 L385.1,166.2 L385.2,165.4 L385.3,164.1 L385.4,166.3 L385.4,166.1 L385.6,166.2 L385.6,169.5 L385.7,166.2 L385.8,167.3 L385.9,166.4 L385.9,168.7 L386.0,166.7 L386.1,170.0 L386.1,166.9 L386.2,168.5 L386.3,169.0 L386.4,167.1 L386.4,168.8 L386.5,167.7 L386.6,166.5 L386.6,166.7 L386.8,168.2 L386.8,170.4 L386.9,167.1 L386.9,168.7 L387.1,166.7 L387.1,168.3 L387.2,166.0 L387.2,166.8 L387.4,168.0 L387.4,167.0 L387.5,167.7 L387.6,169.6 L387.6,168.0 L387.7,167.1 L387.8,166.4 L387.9,167.5 L387.9,170.0 L388.0,168.2 L388.1,168.2 L388.1,169.5 L388.2,169.7 L388.4,170.0 L388.6,168.1 L388.7,167.3 L388.9,166.3 L389.0,167.8 L389.1,168.4 L389.3,170.1 L389.4,169.5 L389.6,168.3 L389.8,170.5 L389.9,167.4 L390.1,167.8 L390.2,167.7 L390.4,167.8 L390.5,169.1 L390.6,168.3 L390.8,168.5 L390.9,171.6 L391.1,167.6 L391.2,168.3 L391.4,169.5 L391.6,170.5 L391.7,170.6 L391.9,169.5 L392.0,169.4 L392.1,169.6 L392.3,171.1 L392.4,168.6 L392.6,166.6 L392.8,170.2 L392.9,168.3 L393.1,169.8 L393.2,171.9 L393.4,170.0 L393.5,172.4 L393.6,167.2 L393.8,169.5 L393.9,169.3 L394.1,169.3 L394.2,166.3 L394.4,166.7 L394.6,165.8 L394.7,165.0 L394.9,162.5 L395.0,162.1 L395.1,165.9 L395.3,166.4 L395.4,166.9 L395.6,168.6 L395.8,170.0 L395.9,167.3 L396.1,170.5 L396.2,171.8 L396.4,171.3 L396.5,170.8 L396.6,171.0 L396.8,167.9 L396.9,169.3 L397.1,171.6 L397.2,172.3 L397.4,170.8 L397.6,169.5 L397.7,170.0 L397.9,171.4 L398.0,173.1 L398.1,171.4 L398.3,169.5 L398.4,171.1 L398.6,170.9 L398.8,173.7 L398.9,171.1 L399.1,170.3 L399.2,170.2 L399.4,168.5 L399.5,168.8 L399.6,169.6 L399.8,169.1 L399.9,170.6 L400.1,170.5 L400.2,171.7 L400.4,172.5 L400.6,170.6 L400.7,170.1 L400.9,167.7 L401.0,170.9 L401.1,171.3 L401.3,169.3 L401.4,169.8 L401.6,169.4 L401.8,172.0 L401.9,171.4 L402.1,172.2 L402.2,168.7 L402.4,174.4 L402.5,169.3 L402.6,169.1 L402.8,170.8 L402.9,169.8 L403.1,173.2 L403.2,170.0 L403.4,169.7 L403.6,172.1 L403.7,172.5 L403.9,169.5 L404.0,170.1 L404.1,170.3 L404.3,170.6 L404.4,173.3 L404.6,172.7 L404.8,172.4 L404.9,172.8 L405.1,171.0 L405.2,172.2 L405.4,170.9 L405.5,169.9 L405.6,173.4 L405.8,168.5 L405.9,171.1 L406.1,170.3 L406.2,168.7 L406.4,170.6 L406.6,171.2 L406.7,171.7 L406.9,169.7 L407.0,171.8 L407.1,170.8 L407.3,171.0 L407.4,166.4 L407.6,167.7 L407.8,166.7 L407.9,167.9 L408.1,166.0 L408.2,166.7 L408.4,166.6 L408.5,167.4 L408.6,168.6 L408.8,172.0 L408.9,169.6 L409.1,168.0 L409.2,172.1 L409.4,171.2 L409.6,172.8 L409.7,172.8 L409.9,171.7 L410.0,171.6 L410.1,171.5 L410.3,172.3 L410.4,171.2 L410.6,172.7 L410.8,174.4 L410.9,171.6 L411.1,171.7 L411.2,171.7 L411.4,173.5 L411.5,173.7 L411.6,174.8 L411.8,173.8 L411.9,173.1 L412.1,173.6 L412.2,171.1 L412.4,173.8 L412.6,173.3 L412.7,176.1 L412.9,175.1 L413.0,172.0 L413.1,172.4 L413.3,174.5 L413.4,170.4 L413.6,172.1 L413.8,173.9 L413.9,174.4 L414.1,173.8 L414.2,175.2 L414.4,173.2 L414.5,173.7 L414.6,173.4 L414.6,172.1 L414.8,173.7 L414.8,172.9 L414.9,173.8 L414.9,170.0 L415.1,173.9 L415.1,173.0 L415.2,172.9 L415.2,173.8 L415.4,173.1 L415.4,175.1 L415.5,175.5 L415.6,175.0 L415.6,175.2 L415.7,174.3 L415.8,173.9 L415.9,172.0 L415.9,173.3 L416.0,175.5 L416.1,174.8 L416.1,173.0 L416.2,173.8 L416.3,175.1 L416.4,173.3 L416.4,175.7 L416.6,172.2 L416.6,174.3 L416.7,173.8 L416.8,172.9 L416.9,172.6 L416.9,172.7 L417.0,168.2 L417.1,171.7 L417.1,171.8 L417.2,170.4 L417.3,170.5 L417.4,166.8 L417.4,167.6 L417.5,167.7 L417.6,166.2 L417.6,168.0 L417.8,166.7 L417.8,165.3 L417.9,167.3 L417.9,167.5 L418.1,166.4 L418.1,168.3 L418.2,168.8 L418.2,169.2 L418.4,167.9 L418.4,171.9 L418.5,171.8 L418.6,171.3 L418.6,172.5 L418.7,172.8 L418.8,172.5 L418.9,172.3 L418.9,173.6 L419.0,172.8 L419.1,173.3 L419.1,172.4 L419.2,173.8 L419.3,175.7 L419.4,174.7 L419.4,174.5 L419.6,174.1 L419.6,174.0 L419.7,172.5 L419.8,177.0 L419.9,173.7 L419.9,172.6 L420.0,175.3 L420.1,175.1 L420.1,174.1 L420.2,172.8 L420.3,172.9 L420.4,177.0 L420.4,174.7 L420.5,174.0 L420.6,177.5 L420.6,174.2 L420.8,173.7 L420.8,175.7 L420.9,175.5 L420.9,177.2 L421.1,172.8 L421.2,175.5 L421.4,172.7 L421.6,175.7 L421.7,174.2 L421.9,174.5 L422.0,174.2 L422.1,176.4 L422.3,177.5 L422.4,175.1 L422.6,174.9 L422.8,174.6 L422.9,176.0 L423.1,173.9 L423.2,180.3 L423.4,175.0 L423.5,177.8 L423.6,175.6 L423.8,173.5 L423.9,173.3 L424.1,174.9 L424.2,174.5 L424.4,175.1 L424.6,173.9 L424.7,178.8 L424.9,178.5 L425.0,173.0 L425.1,176.2 L425.3,177.3 L425.4,175.1 L425.6,175.3 L425.8,177.1 L425.9,176.4 L426.1,174.0 L426.2,177.4 L426.4,175.0 L426.5,178.3 L426.6,174.4 L426.8,172.5 L426.9,175.9 L427.1,177.4 L427.2,176.5 L427.4,176.0 L427.6,174.5 L427.7,177.1 L427.9,173.2 L428.0,176.9 L428.1,174.2 L428.3,175.0 L428.4,174.0 L428.6,174.6 L428.8,178.0 L428.9,174.2 L429.1,176.2 L429.2,174.8 L429.4,177.4 L429.5,174.0 L429.6,176.0 L429.8,177.2 L429.9,179.1 L430.1,174.3 L430.2,174.8 L430.4,175.9 L430.6,178.1 L430.7,174.6 L430.9,177.2 L431.0,175.2 L431.1,174.6 L431.3,173.8 L431.4,176.3 L431.6,177.5 L431.8,176.0 L431.9,173.1 L432.1,175.3 L432.2,177.5 L432.4,177.4 L432.5,176.5 L432.6,178.2 L432.8,174.4 L432.9,174.5 L433.1,179.5 L433.2,177.1 L433.4,175.9 L433.6,175.5 L433.7,172.6 L433.9,177.4 L434.0,173.3 L434.1,173.5 L434.3,176.2 L434.4,178.4 L434.6,175.7 L434.8,176.8 L434.9,175.7 L435.1,176.8 L435.2,173.9 L435.4,179.2 L435.5,174.9 L435.6,176.9 L435.8,173.2 L435.9,178.4 L436.1,176.3 L436.2,178.1 L436.4,173.9 L436.6,175.7 L436.7,173.3 L436.9,172.7 L437.0,174.0 L437.1,170.6 L437.3,173.0 L437.4,175.2 L437.6,175.6 L437.8,175.4 L437.9,175.0 L438.1,173.8 L438.2,177.7 L438.4,175.1 L438.5,177.9 L438.6,175.9 L438.8,176.5 L438.9,176.6 L439.1,177.5 L439.2,176.0 L439.4,177.0 L439.6,176.0 L439.7,177.5 L439.9,177.2 L440.0,177.4 L440.1,175.6 L440.1,177.3 L440.2,176.9 L440.3,177.7 L440.4,176.9 L440.4,175.5 L440.6,177.9 L440.6,175.9 L440.7,177.3 L440.8,174.0 L440.9,177.6 L440.9,177.8 L441.0,175.6 L441.1,177.7 L441.1,176.4 L441.2,178.8 L441.3,177.8 L441.4,175.2 L441.4,176.6 L441.5,174.4 L441.6,176.4 L441.6,177.6 L441.8,178.0 L441.8,176.7 L441.9,176.5 L441.9,177.0 L442.1,175.9 L442.1,177.1 L442.2,178.1 L442.2,176.7 L442.4,177.5 L442.4,175.1 L442.5,175.2 L442.6,176.2 L442.6,178.3 L442.7,176.7 L442.8,177.3 L442.9,174.8 L442.9,176.1 L443.0,171.9 L443.1,174.7 L443.1,171.0 L443.2,175.5 L443.3,174.4 L443.4,175.5 L443.4,174.5 L443.6,173.5 L443.6,173.3 L443.7,175.0 L443.8,177.0 L443.9,176.2 L443.9,174.7 L444.0,175.1 L444.1,175.0 L444.1,176.0 L444.2,176.3 L444.3,176.0 L444.4,176.8 L444.4,174.8 L444.5,179.2 L444.6,177.5 L444.6,179.3 L444.8,177.7 L444.8,177.0 L444.9,177.5 L444.9,177.7 L445.1,176.5 L445.1,176.9 L445.2,180.1 L445.2,178.8 L445.4,176.8 L445.4,178.2 L445.5,176.4 L445.6,179.5 L445.6,176.2 L445.7,178.8 L445.8,177.6 L445.9,177.7 L445.9,176.5 L446.0,177.3 L446.1,176.6 L446.1,176.5 L446.2,178.3 L446.3,181.2 L446.4,177.2 L446.4,179.1 L446.6,177.7 L446.8,176.8 L446.9,179.6 L447.1,178.7 L447.2,179.4 L447.4,178.0 L447.5,178.1 L447.6,176.8 L447.8,177.5 L447.9,180.2 L448.1,174.8 L448.2,178.5 L448.4,180.0 L448.6,179.1 L448.7,179.2 L448.9,177.7 L449.0,179.6 L449.1,179.7 L449.3,178.1 L449.4,180.4 L449.6,177.5 L449.8,174.8 L449.9,178.2 L450.1,178.1 L450.2,177.1 L450.4,177.6 L450.5,177.5 L450.6,175.8 L450.8,180.0 L450.9,178.3 L451.1,182.0 L451.2,178.3 L451.4,178.9 L451.6,176.3 L451.7,179.8 L451.9,176.9 L452.0,179.2 L452.1,179.7 L452.3,179.5 L452.4,177.4 L452.6,177.4 L452.8,179.6 L452.9,180.2 L453.1,180.5 L453.2,178.6 L453.4,178.5 L453.5,181.1 L453.6,177.8 L453.8,179.7 L453.9,178.3 L454.1,176.8 L454.2,177.2 L454.4,179.3 L454.6,179.0 L454.7,179.4 L454.9,178.3 L455.0,178.1 L455.1,179.2 L455.3,178.6 L455.4,176.7 L455.6,178.3 L455.8,181.2 L455.9,177.9 L456.1,179.7 L456.2,178.8 L456.4,179.9 L456.5,177.8 L456.6,177.2 L456.8,179.6 L456.9,178.0 L457.1,179.0 L457.2,178.6 L457.4,180.3 L457.6,179.4 L457.7,179.3 L457.9,177.8 L458.0,177.0 L458.1,178.0 L458.3,180.3 L458.4,180.1 L458.6,179.9 L458.8,178.6 L458.9,177.8 L459.1,180.8 L459.2,179.5 L459.4,179.9 L459.5,178.0 L459.6,178.3 L459.8,180.1 L459.9,180.3 L460.1,177.9 L460.2,179.7 L460.4,177.7 L460.6,181.0 L460.7,180.2 L460.9,182.4 L461.0,181.4 L461.1,178.5 L461.3,179.7 L461.4,178.8 L461.6,179.6 L461.8,180.5 L461.9,179.4 L462.1,179.5 L462.2,177.7 L462.4,180.3 L462.5,179.5 L462.6,180.3 L462.8,180.9 L462.9,179.6 L463.1,180.5 L463.2,178.7 L463.4,180.8 L463.6,179.5 L463.7,178.8 L463.9,179.3 L464.0,177.7 L464.1,178.7 L464.3,179.0 L464.4,179.7 L464.6,179.5 L464.8,178.8 L464.9,179.4 L465.1,176.8 L465.2,179.8 L465.4,180.4 L465.5,180.8 L465.6,181.1 L465.8,179.4 L465.9,179.6 L466.1,179.1 L466.2,179.1 L466.4,179.9 L466.6,181.5 L466.7,177.5 L466.9,179.1 L467.0,180.1 L467.1,178.4 L467.2,180.3 L467.3,178.0 L467.4,179.3 L467.4,177.6 L467.5,180.1 L467.6,178.7 L467.6,180.6 L467.8,179.4 L467.8,178.5 L467.9,179.2 L467.9,180.0 L468.1,179.8 L468.1,179.4 L468.2,179.3 L468.2,179.8 L468.4,180.9 L468.4,179.0 L468.5,180.4 L468.6,178.0 L468.6,181.0 L468.7,180.2 L468.8,179.3 L468.9,179.3 L468.9,177.5 L469.0,179.8 L469.1,179.3 L469.1,177.8 L469.2,178.9 L469.3,180.2 L469.4,179.6 L469.4,179.6 L469.6,178.4 L469.6,180.1 L469.7,178.8 L469.8,179.8 L469.9,181.4 L469.9,175.6 L470.0,177.4 L470.1,177.9 L470.1,176.7 L470.2,178.9 L470.3,177.0 L470.4,179.6 L470.4,178.4 L470.5,178.0 L470.6,177.6 L470.6,178.8 L470.8,178.6 L470.8,180.0 L470.9,178.9 L470.9,179.9 L471.1,179.3 L471.1,179.4 L471.2,177.1 L471.2,179.3 L471.4,180.0 L471.4,178.0 L471.5,177.8 L471.6,179.3 L471.6,180.2 L471.7,177.6 L471.8,180.3 L471.9,181.2 L471.9,179.6 L472.0,180.3 L472.1,180.6 L472.1,179.1 L472.2,180.8 L472.3,180.6 L472.4,178.4 L472.4,180.7 L472.6,181.2 L472.6,178.6 L472.7,181.2 L472.8,179.7 L472.9,178.3 L472.9,178.7 L473.0,178.9 L473.1,180.8 L473.1,179.5 L473.2,179.6 L473.3,178.4 L473.4,180.1 L473.4,178.5 L473.5,179.2 L473.6,180.9 L473.8,181.0 L473.9,179.4 L474.1,180.0 L474.2,180.8 L474.4,180.0 L474.5,181.6 L474.6,181.8 L474.8,179.8 L474.9,178.2 L475.1,179.5 L475.2,181.3 L475.4,180.7 L475.6,180.4 L475.7,179.8 L475.9,177.0 L476.0,177.2 L476.1,177.3 L476.3,175.1 L476.4,174.7 L476.6,171.1 L476.8,169.8 L476.9,173.3 L477.1,171.2 L477.2,171.1 L477.4,172.8 L477.5,174.7 L477.6,176.7 L477.8,171.0 L477.9,175.9 L478.1,177.8 L478.2,174.9 L478.4,175.9 L478.6,178.7 L478.7,181.9 L478.9,181.0 L479.0,182.9 L479.1,180.7 L479.3,181.9 L479.4,182.6 L479.6,181.3 L479.8,180.7 L479.9,181.0 L480.1,176.0 L480.2,181.3 L480.4,178.5 L480.5,179.9 L480.6,182.0 L480.8,181.6 L480.9,178.4 L481.1,181.8 L481.2,182.2 L481.4,181.5 L481.6,182.1 L481.7,182.0 L481.9,179.0 L482.0,181.0 L482.1,180.9 L482.3,179.7 L482.4,181.3 L482.6,180.3 L482.8,181.3 L482.9,180.3 L483.1,182.9 L483.2,184.4 L483.4,180.8 L483.5,181.6 L483.6,181.7 L483.8,182.2 L483.9,181.4 L484.1,178.7 L484.2,182.2 L484.4,181.5 L484.6,180.3 L484.7,181.5 L484.9,181.1 L485.0,182.1 L485.1,181.4 L485.3,181.5 L485.4,182.0 L485.6,182.2 L485.8,181.9 L485.9,183.5 L486.1,182.3 L486.2,181.0 L486.4,184.3 L486.5,182.2 L486.6,184.1 L486.8,180.7 L486.9,182.8 L487.1,184.4 L487.2,183.8 L487.4,182.3 L487.6,181.4 L487.7,181.4 L487.9,182.0 L488.0,180.9 L488.1,181.3 L488.3,180.9 L488.4,181.0 L488.6,182.6 L488.8,180.0 L488.9,182.5 L489.1,183.2 L489.2,181.1 L489.4,181.2 L489.5,182.4 L489.6,182.4 L489.8,183.7 L489.9,179.8 L490.1,182.4 L490.2,184.3 L490.4,182.6 L490.6,184.8 L490.7,185.4 L490.9,181.8 L491.0,184.5 L491.1,183.3 L491.3,182.6 L491.4,182.2 L491.6,182.3 L491.8,181.4 L491.9,182.4 L492.1,183.9 L492.2,184.3 L492.4,182.2 L492.5,183.4 L492.6,183.4 L492.8,179.7 L492.9,183.7 L493.1,181.2 L493.2,181.3 L493.4,183.9 L493.6,185.0 L493.7,181.4 L493.9,181.7 L494.0,181.6 L494.1,182.2 L494.3,182.4 L494.4,181.8 L494.6,180.8 L494.8,185.3 L494.9,182.3 L495.1,182.0 L495.2,184.2 L495.4,182.5 L495.5,184.4 L495.6,184.1 L495.8,184.3 L495.9,182.5 L496.1,183.9 L496.2,181.1 L496.4,181.3 L496.6,183.2 L496.7,182.7 L496.9,184.9 L497.0,182.8 L497.1,180.9 L497.3,183.3 L497.4,182.8 L497.6,183.4 L497.8,181.7 L497.9,182.2 L498.1,183.3 L498.2,184.2 L498.4,183.8 L498.5,184.2 L498.6,181.3 L498.8,183.0 L498.9,183.5 L499.1,184.5 L499.2,183.6 L499.4,183.0 L499.6,183.1 L499.7,183.2 L499.9,181.4 L500.0,183.3 L500.1,184.3 L500.3,184.2 L500.4,180.9 L500.6,183.3 L500.8,181.3 L500.9,184.7 L501.1,184.0 L501.2,184.2 L501.4,182.4 L501.5,180.7 L501.6,181.8 L501.8,182.7 L501.9,181.2 L502.1,181.9 L502.2,185.4 L502.4,181.4 L502.6,183.8 L502.7,180.7 L502.9,183.4 L503.0,184.1 L503.1,183.6 L503.3,184.6 L503.4,185.3 L503.6,181.2 L503.8,183.3 L503.9,183.6 L504.1,183.5 L504.2,185.0 L504.4,183.2 L504.5,184.4 L504.6,184.3 L504.8,183.0 L504.9,183.5 L505.1,181.8 L505.2,183.1 L505.4,183.0 L505.6,182.5 L505.7,182.1 L505.9,183.9 L506.0,182.5 L506.1,185.6 L506.3,184.3 L506.4,183.6 L506.6,181.8 L506.8,183.7 L506.9,182.7 L507.1,182.6 L507.2,181.0 L507.4,183.2 L507.5,182.7 L507.6,181.8 L507.8,181.5 L507.9,182.0 L508.1,180.6 L508.2,181.6 L508.4,184.1 L508.6,181.4 L508.7,185.3 L508.9,180.5 L509.0,183.7 L509.1,183.6 L509.3,183.7 L509.4,182.9 L509.6,180.0 L509.8,183.6 L509.9,183.5 L510.1,182.1 L510.2,179.0 L510.4,183.4 L510.5,180.8 L510.6,181.6 L510.8,183.6 L510.9,183.7 L511.1,182.4 L511.2,181.2 L511.4,184.1 L511.6,183.4 L511.7,181.6 L511.9,180.5 L512.0,182.2 L512.1,180.0 L512.3,184.1 L512.5,182.4 L512.6,181.2 L512.8,182.2 L512.9,179.5 L513.0,181.6 L513.2,180.8 L513.4,179.5 L513.5,180.8 L513.6,182.0 L513.8,179.7 L514.0,181.3 L514.1,179.6 L514.2,181.8 L514.4,179.2 L514.5,182.5 L514.7,182.4 L514.9,182.6 L515.0,183.9 L515.1,181.7 L515.3,181.7 L515.5,182.3 L515.6,180.9 L515.8,179.0 L515.9,179.9 L516.0,180.0 L516.2,181.9 L516.4,180.8 L516.5,181.1 L516.6,182.4 L516.8,182.0 L517.0,184.4 L517.1,181.7 L517.2,180.6 L517.4,183.6 L517.5,181.4 L517.7,181.9 L517.9,183.3 L518.0,182.3 L518.1,183.1 L518.3,181.4 L518.5,181.9 L518.6,183.1 L518.8,181.6 L518.9,181.9 L519.0,182.4 L519.2,184.6 L519.4,184.5 L519.5,182.9 L519.6,182.8 L519.8,181.8 L520.0,184.5 L520.1,183.4 L520.2,184.1 L520.4,181.1 L520.5,184.1 L520.7,183.3 L520.9,184.1 L521.0,184.5 L521.1,183.2 L521.3,182.8 L521.5,184.2 L521.6,181.7 L521.8,185.2 L521.9,183.8 L522.0,182.0 L522.2,185.1 L522.4,184.7 L522.5,185.5 L522.6,184.8 L522.8,184.2 L523.0,183.5 L523.1,182.3 L523.2,184.6 L523.4,184.5 L523.5,183.2 L523.7,184.5 L523.9,182.6 L524.0,185.2 L524.1,184.0 L524.3,184.2 L524.5,182.9 L524.6,185.1 L524.8,184.1 L524.9,183.2 L525.0,184.5 L525.2,183.7 L525.4,185.4 L525.5,182.1 L525.6,182.6 L525.8,186.7 L526.0,183.5 L526.1,184.8 L526.2,183.6 L526.4,184.5 L526.5,187.6 L526.7,181.7 L526.9,185.0 L527.0,184.4 L527.1,184.4 L527.3,183.3 L527.5,183.1 L527.6,186.1 L527.8,185.1 L527.9,182.9 L528.0,184.5 L528.2,182.8 L528.4,188.2 L528.5,185.0 L528.6,182.2 L528.8,185.8 L529.0,185.4 L529.1,185.0 L529.2,184.9 L529.4,183.9 L529.5,184.4 L529.7,182.1 L529.9,186.4 L530.0,187.3 L530.1,185.4 L530.3,185.6 L530.5,183.1 L530.6,184.3 L530.8,183.0 L530.9,183.2 L531.0,185.6 L531.2,186.7 L531.4,184.8 L531.5,188.1 L531.6,186.0 L531.8,182.1 L532.0,184.5 L532.1,186.7 L532.2,185.2 L532.4,186.4 L532.5,182.9 L532.7,186.7 L532.9,183.6 L533.0,185.6 L533.1,187.9 L533.3,185.3 L533.5,184.9 L533.6,186.2 L533.8,184.1 L533.9,184.0 L534.0,186.5 L534.2,183.3 L534.4,183.7 L534.5,187.5 L534.6,183.7 L534.8,185.9 L535.0,186.7 L535.1,185.3 L535.2,184.0 L535.4,186.4 L535.5,184.2 L535.7,188.1 L535.9,188.2 L536.0,184.1 L536.1,186.2 L536.3,184.5 L536.5,185.9 L536.6,185.1 L536.8,184.2 L536.9,186.1 L537.0,183.3 L537.2,185.9 L537.4,185.3 L537.5,184.5 L537.6,186.6 L537.8,185.5 L538.0,185.1 L538.1,185.3 L538.2,185.2 L538.4,186.7 L538.5,185.1 L538.7,181.8 L538.9,181.5 L539.0,184.2 L539.1,183.9 L539.3,185.2 L539.5,183.8 L539.6,184.5 L539.8,187.2 L539.9,183.8 L540.0,186.6 L540.2,185.4 L540.4,187.2 L540.5,186.7 L540.6,185.6 L540.8,186.9 L541.0,185.8 L541.1,184.1 L541.2,186.2 L541.4,186.2 L541.5,185.4 L541.7,185.9 L541.9,185.0 L542.0,186.0 L542.1,185.2 L542.3,183.6 L542.5,185.2 L542.6,187.6 L542.8,186.6 L542.9,187.5 L543.0,185.5 L543.2,185.0 L543.4,184.1 L543.5,185.7 L543.6,186.8 L543.8,186.5 L544.0,186.4 L544.1,184.8 L544.2,185.6 L544.4,184.5 L544.5,186.5 L544.7,186.2 L544.9,184.6 L545.0,185.6 L545.1,182.5 L545.3,186.3 L545.5,184.4 L545.6,184.9 L545.8,186.2 L545.9,186.3 L546.0,184.5 L546.2,187.4 L546.4,187.9 L546.5,187.2 L546.6,187.0 L546.8,185.4 L547.0,187.1 L547.1,184.2 L547.2,183.9 L547.4,185.5 L547.5,185.6 L547.7,184.2 L547.9,187.5 L548.0,183.4 L548.1,182.6 L548.3,184.7 L548.4,187.3 L548.5,186.2 L548.5,185.6 L548.6,185.4 L548.7,185.9 L548.8,185.6 L548.9,185.3 L548.9,185.0 L549.0,183.1 L549.0,186.4 L549.1,184.6 L549.2,185.6 L549.3,185.7 L549.4,186.4 L549.5,184.1 L549.5,186.1 L549.6,186.2 L549.6,184.9 L549.8,185.0 L549.8,185.2 L549.9,183.7 L550.0,184.4 L550.0,183.6 L550.1,186.5 L550.2,184.0 L550.2,183.6 L550.4,185.2 L550.4,185.6 L550.5,184.4 L550.5,183.7 L550.6,185.4 L550.7,185.9 L550.8,182.7 L550.9,185.9 L551.0,182.4 L551.0,185.5 L551.1,184.0 L551.1,184.2 L551.2,185.4 L551.3,186.2 L551.4,186.9 L551.5,185.9 L551.5,184.9 L551.6,182.2 L551.7,183.1 L551.8,183.7 L551.9,182.5 L551.9,183.9 L552.0,182.6 L552.0,185.0 L552.1,182.2 L552.2,180.7 L552.3,181.3 L552.4,180.9 L552.5,182.5 L552.5,183.3 L552.6,182.6 L552.6,182.5 L552.8,180.3 L552.8,179.7 L552.9,180.1 L553.0,181.3 L553.0,180.9 L553.1,181.8 L553.2,183.0 L553.2,181.9 L553.4,184.3 L553.4,181.2 L553.5,183.3 L553.5,182.6 L553.6,184.2 L553.7,183.0 L553.8,182.7 L553.9,183.3 L554.0,182.5 L554.0,182.4 L554.1,185.0 L554.1,183.3 L554.2,185.7 L554.3,187.5 L554.4,183.9 L554.5,185.5 L554.5,184.4 L554.6,182.1 L554.7,184.4 L554.8,186.5 L554.9,183.0 L554.9,184.4 L555.0,184.4 L555.0,182.8 L555.1,185.1 L555.2,184.5 L555.3,185.4 L555.4,184.8 L555.5,182.9 L555.5,184.9 L555.6,185.5 L555.6,184.4 L555.8,185.4 L555.8,185.4 L555.9,181.9 L556.0,185.5 L556.0,182.1 L556.1,183.0 L556.2,184.5 L556.2,183.4 L556.4,183.6 L556.4,186.1 L556.5,183.3 L556.5,186.2 L556.6,187.0 L556.7,186.5 L556.8,183.2 L556.9,182.7 L557.0,184.7 L557.0,187.4 L557.1,184.4 L557.1,183.9 L557.3,184.5 L557.5,185.6 L557.6,186.2 L557.8,184.6 L557.9,184.5 L558.0,185.3 L558.2,184.7 L558.4,184.1 L558.5,182.4 L558.6,184.8 L558.8,183.9 L559.0,184.3 L559.1,184.3 L559.2,183.5 L559.4,185.3 L559.5,186.0 L559.7,185.3 L559.9,183.8 L560.0,184.9 L560.1,185.5 L560.3,184.5 L560.5,185.5 L560.6,182.8 L560.8,184.4 L560.9,186.5 L561.0,185.9 L561.2,184.5 L561.4,184.8 L561.5,187.4 L561.6,186.1 L561.8,183.8 L562.0,185.1 L562.1,184.1 L562.2,184.0 L562.4,183.2 L562.5,185.7 L562.7,187.6 L562.9,185.9 L563.0,183.1 L563.1,185.5 L563.3,182.9 L563.5,185.1 L563.6,186.2 L563.8,186.7 L563.9,185.0 L564.0,185.3 L564.2,184.9 L564.4,184.7 L564.5,186.9 L564.6,183.7 L564.8,182.9 L565.0,187.2 L565.1,187.9 L565.2,182.9 L565.4,186.2 L565.5,186.0 L565.7,184.5 L565.9,183.8 L566.0,185.3 L566.1,184.6 L566.3,186.1 L566.5,184.3 L566.6,186.6 L566.8,184.3 L566.9,187.2 L567.0,186.3 L567.2,186.6 L567.4,184.7 L567.5,184.9 L567.6,185.1 L567.8,186.8 L568.0,184.4 L568.1,184.3 L568.2,185.0 L568.4,185.8 L568.5,185.3 L568.7,185.3 L568.9,183.7 L569.0,184.6 L569.1,184.1 L569.3,186.8 L569.5,185.4 L569.6,186.4 L569.8,183.9 L569.9,185.5 L570.0,186.0 L570.2,184.2 L570.4,184.8 L570.5,185.0 L570.6,185.8 L570.8,186.0 L571.0,183.9 L571.1,186.1 L571.2,186.0 L571.4,186.1 L571.5,184.7 L571.7,185.7 L571.9,187.5 L572.0,187.3 L572.1,185.1 L572.3,187.9 L572.5,185.4 L572.6,184.8 L572.8,187.4 L572.9,186.4 L573.0,188.9 L573.2,185.7 L573.4,186.2 L573.5,187.0 L573.6,186.4 L573.8,185.6 L574.0,186.1 L574.1,186.1 L574.2,186.2 L574.4,186.2 L574.5,184.3 L574.7,187.4 L574.9,185.5 L575.0,186.0 L575.1,185.3 L575.3,186.1 L575.5,187.6 L575.6,188.0 L575.8,186.8 L575.9,186.6 L576.0,185.8 L576.2,186.1 L576.4,186.8 L576.5,186.3 L576.6,185.3 L576.8,186.6 L577.0,185.2 L577.1,189.2 L577.2,187.0 L577.4,185.9 L577.5,187.2 L577.7,185.7 L577.9,186.3 L578.0,188.6 L578.1,188.3 L578.3,185.2 L578.5,185.3 L578.6,186.1 L578.8,189.6 L578.9,186.9 L579.0,187.1 L579.2,186.2 L579.4,188.5 L579.5,188.1 L579.6,184.7 L579.8,185.8 L580.0,184.6 L580.1,185.4 L580.2,185.9 L580.4,185.2 L580.5,186.1 L580.7,187.8 L580.9,188.4 L581.0,187.1 L581.1,187.9 L581.3,185.3 L581.5,188.9 L581.6,189.9 L581.8,186.9 L581.9,187.8 L582.0,187.5 L582.2,184.4 L582.4,188.4 L582.5,187.7 L582.6,185.1 L582.8,186.6 L583.0,188.6 L583.1,187.9 L583.2,185.5 L583.4,186.5 L583.5,186.3 L583.7,187.4 L583.9,186.3 L584.0,187.3 L584.1,187.0 L584.3,185.4 L584.5,187.8 L584.6,187.6 L584.8,186.4 L584.9,188.2 L585.0,190.2 L585.2,185.4 L585.4,187.6 L585.5,188.4 L585.6,187.4 L585.8,186.7 L586.0,190.2 L586.1,186.8 L586.2,187.3 L586.4,186.6 L586.5,189.0 L586.7,184.8 L586.9,186.3 L587.0,186.9 L587.1,187.9 L587.3,187.9 L587.5,188.8 L587.6,187.4 L587.8,186.6 L587.9,187.5 L588.0,186.5 L588.2,186.9 L588.4,187.0 L588.5,188.0 L588.6,188.7 L588.8,186.2 L589.0,186.9 L589.1,187.6 L589.2,187.7 L589.4,187.4 L589.5,188.4 L589.7,187.4 L589.9,185.5 L590.0,189.4 L590.1,186.2 L590.3,189.8 L590.5,188.1 L590.6,188.2 L590.8,185.9 L590.9,188.1 L591.0,187.5 L591.2,186.8 L591.4,188.5 L591.5,188.8 L591.6,189.3 L591.8,186.3 L592.0,186.9 L592.1,189.6 L592.2,188.5 L592.4,188.9 L592.5,187.3 L592.7,188.4 L592.9,189.0 L593.0,186.4 L593.1,187.1 L593.3,188.3 L593.5,189.7 L593.6,187.5 L593.8,188.8 L593.9,187.0 L594.0,186.6 L594.2,188.8 L594.4,186.8 L594.5,188.1 L594.6,187.4 L594.8,188.7 L595.0,186.6 L595.1,186.4 L595.2,186.4 L595.4,187.9 L595.5,189.7 L595.7,189.2 L595.9,188.4 L596.0,188.0 L596.1,189.7 L596.3,188.1 L596.5,189.5 L596.6,189.9 L596.8,189.1 L596.9,188.7 L597.0,188.7 L597.2,188.2 L597.4,188.6 L597.5,187.2 L597.6,187.3 L597.8,190.2 L598.0,188.2 L598.1,186.3 L598.2,190.0 L598.4,190.0 L598.5,188.9 L598.7,186.9 L598.9,190.8 L599.0,189.7 L599.1,189.9 L599.3,188.1 L599.5,189.0 L599.6,188.1 L599.8,188.2 L599.9,187.1 L600.0,187.5 L600.2,187.9 L600.4,188.6 L600.5,189.7 L600.6,189.2 L600.8,186.3 L601.0,189.8 L601.1,186.7 L601.2,189.2 L601.4,188.3 L601.5,188.7 L601.7,188.0 L601.9,187.3 L602.0,190.6 L602.1,185.7 L602.3,187.6 L602.5,190.3 L602.6,188.7 L602.8,188.7 L602.9,187.7 L603.0,187.3 L603.2,189.4 L603.4,188.5 L603.5,189.2 L603.6,189.7 L603.8,186.7 L604.0,187.5 L604.1,188.0 L604.2,189.1 L604.4,189.7 L604.5,187.6 L604.7,188.6 L604.9,188.7 L605.0,188.7 L605.1,190.8 L605.3,188.0 L605.5,189.1 L605.6,186.1 L605.8,188.8 L605.9,189.1 L606.0,189.8 L606.2,188.3 L606.4,188.3 L606.5,187.5 L606.6,188.4 L606.8,191.9 L607.0,186.9 L607.1,186.9 L607.2,189.1 L607.4,187.9 L607.5,190.6 L607.7,187.2 L607.9,191.1 L608.0,188.5 L608.1,187.1 L608.3,186.4 L608.5,188.0 L608.6,188.3 L608.8,189.6 L608.9,187.6 L609.0,192.9 L609.2,190.2 L609.4,188.9 L609.5,188.5 L609.6,192.5 L609.8,188.2 L610.0,190.1 L610.1,191.0 L610.2,188.1 L610.4,189.9 L610.5,188.6 L610.7,190.9 L610.9,191.0 L611.0,189.9 L611.1,189.5 L611.3,187.8 L611.5,192.3 L611.6,191.1 L611.8,190.2 L611.9,191.1 L612.0,189.3 L612.2,187.9 L612.4,190.4 L612.5,188.1 L612.6,188.6 L612.8,190.2 L613.0,187.3 L613.1,189.3 L613.2,188.9 L613.4,187.8 L613.5,187.7 L613.7,188.9 L613.9,188.7 L614.0,189.2 L614.1,187.1 L614.3,188.9 L614.5,187.1 L614.6,187.5 L614.8,189.5 L614.9,187.2 L615.0,187.2 L615.2,186.5 L615.4,187.1 L615.5,187.8 L615.6,186.0 L615.8,186.8 L616.0,184.0 L616.1,185.8 L616.2,184.7 L616.4,184.6 L616.5,183.1 L616.7,183.3 L616.9,184.4 L617.0,182.6 L617.1,185.1 L617.3,183.8 L617.5,185.2 L617.6,183.7 L617.8,183.4 L617.9,186.6 L618.0,187.1 L618.2,186.6 L618.4,187.9 L618.5,187.4 L618.6,188.6 L618.8,188.3 L619.0,187.2 L619.1,190.0 L619.2,187.6 L619.4,191.7 L619.5,188.9 L619.7,188.1 L619.9,189.1 L620.0,189.5 L620.1,189.7 L620.3,190.2 L620.5,188.9 L620.6,187.1 L620.8,188.6 L620.9,190.3 L621.0,191.1 L621.2,187.3 L621.4,189.9 L621.5,191.2 L621.6,188.1 L621.8,191.9 L622.0,188.9 L622.1,189.7 L622.2,189.3 L622.4,192.1 L622.5,191.0 L622.7,190.1 L622.9,189.5 L623.0,187.9 L623.1,189.6 L623.3,189.2 L623.5,189.8 L623.6,187.6 L623.8,191.6 L623.9,191.1 L624.0,192.0 L624.2,189.3 L624.4,190.0 L624.5,188.5 L624.6,191.1 L624.8,189.8 L625.0,192.1 L625.1,191.0 L625.2,191.0 L625.4,190.8 L625.5,188.3 L625.7,191.0 L625.9,188.1 L626.0,190.5 L626.1,190.9 L626.3,188.7 L626.5,189.4 L626.6,189.9 L626.8,190.5 L626.9,190.5 L627.0,190.2 L627.2,189.1 L627.4,190.5 L627.5,193.2 L627.6,189.5 L627.8,192.1 L628.0,188.7 L628.1,189.4 L628.2,191.8 L628.4,191.3 L628.5,192.2 L628.7,191.0 L628.9,189.5 L629.0,190.3 L629.1,189.7 L629.3,191.5 L629.5,191.0 L629.6,191.8 L629.8,189.4 L629.9,190.0 L630.0,189.7 L630.2,189.8 L630.4,190.1 L630.5,191.8 L630.6,190.5 L630.8,191.7 L631.0,190.6 L631.1,188.1 L631.2,188.6 L631.4,190.1 L631.5,191.7 L631.7,190.3 L631.9,188.5 L632.0,190.5 L632.1,190.0 L632.3,191.1 L632.5,191.4 L632.6,190.7 L632.8,189.6 L632.9,189.1 L633.0,189.9 L633.2,190.3 L633.4,190.8 L633.5,189.8 L633.6,189.6 L633.8,191.0 L634.0,191.4 L634.1,190.7 L634.2,189.2 L634.4,190.0 L634.5,193.1 L634.7,189.1 L634.9,190.0 L635.0,191.5 L635.1,189.3 L635.3,190.1 L635.5,192.0 L635.6,191.6 L635.8,188.3 L635.9,191.2 L636.0,190.1 L636.2,188.8 L636.4,191.8 L636.5,189.8 L636.6,190.4 L636.8,189.5 L637.0,191.5 L637.1,191.6 L637.2,191.5 L637.4,193.4 L637.5,191.3 L637.7,190.2 L637.9,191.2 L638.0,191.0 L638.1,191.5 L638.3,187.8 L638.5,191.7 L638.6,193.1 L638.8,191.8 L638.9,190.0 L639.0,193.3 L639.2,191.7 L639.4,193.3 L639.5,192.0 L639.6,190.5 L639.8,188.9 L640.0,191.0 L640.1,191.5 L640.2,190.4 L640.4,189.3 L640.5,191.9 L640.7,190.0 L640.9,192.6 L641.0,190.3 L641.1,191.4 L641.3,190.6 L641.5,191.4 L641.6,191.6 L641.8,188.4 L641.9,190.1 L642.0,190.3 L642.2,190.2 L642.4,190.9 L642.5,192.3 L642.6,189.7 L642.8,191.6 L643.0,190.5 L643.1,190.1 L643.2,189.1 L643.4,190.0 L643.5,189.6 L643.7,191.5 L643.9,192.8 L644.0,191.6 L644.1,191.8 L644.3,190.0 L644.5,191.8 L644.6,189.9 L644.8,189.8 L644.9,191.3 L645.0,190.2 L645.2,191.7 L645.4,191.1 L645.5,190.6 L645.6,190.3 L645.8,191.2 L646.0,191.3 L646.1,191.1 L646.2,192.4 L646.4,190.3 L646.5,189.3 L646.7,189.4 L646.9,189.8 L647.0,189.9 L647.1,190.8 L647.3,193.0 L647.5,189.8 L647.6,190.0 L647.8,190.4 L647.9,189.8 L648.0,190.1 L648.2,191.9 L648.4,192.6 L648.5,190.2 L648.6,191.0 L648.8,192.2 L649.0,191.4 L649.1,190.8 L649.2,191.5 L649.4,190.9 L649.5,190.3 L649.7,191.7 L649.9,190.3 L650.0,190.5 L650.1,191.4 L650.3,189.7 L650.5,191.9 L650.6,190.2 L650.8,189.9 L650.9,191.7 L651.0,191.9 L651.2,192.2 L651.4,192.7 L651.5,189.9 L651.6,190.8 L651.8,189.8 L652.0,190.2 L652.1,192.1 L652.2,191.5 L652.4,191.4 L652.5,191.6 L652.7,190.6 L652.9,192.6 L653.0,189.9 L653.1,191.9 L653.3,190.4 L653.5,190.0 L653.6,193.5 L653.8,190.7 L653.9,191.9 L654.0,190.2 L654.2,190.2 L654.4,192.5 L654.5,191.6 L654.6,191.2 L654.8,191.7 L655.0,191.9 L655.1,192.1 L655.2,191.7 L655.4,192.0 L655.5,191.5 L655.7,191.3 L655.9,192.5 L656.0,188.6 L656.1,192.1 L656.3,191.2 L656.5,191.4 L656.6,190.9 L656.8,190.3 L656.9,191.9 L657.0,189.8 L657.2,190.0 L657.4,190.0 L657.5,193.1 L657.6,191.2 L657.8,191.1 L658.0,189.5 L658.1,191.3 L658.2,192.2 L658.4,189.9 L658.5,191.2 L658.7,191.4 L658.9,191.9 L659.0,192.3 L659.1,193.5 L659.3,191.2 L659.5,191.2 L659.6,190.4 L659.8,192.3 L659.9,191.2 L660.0,191.8 L660.2,192.0 L660.4,191.0 L660.5,191.0 L660.6,191.4 L660.8,191.4 L661.0,191.3 L661.1,191.1 L661.2,191.2 L661.4,192.7 L661.5,190.6 L661.7,191.4 L661.9,191.3 L662.0,192.6 L662.1,190.7 L662.3,191.1 L662.5,190.8 L662.6,192.3 L662.8,192.1 L662.9,191.9 L663.0,191.6 L663.2,194.0 L663.4,191.8 L663.5,189.2 L663.6,189.8 L663.8,189.8 L664.0,191.0 L664.1,189.7 L664.2,191.5 L664.4,189.8 L664.5,191.5 L664.7,190.8 L664.9,192.1 L665.0,191.7 L665.1,190.4 L665.3,193.7 L665.5,190.3 L665.6,191.0 L665.8,190.0 L665.9,192.8 L666.0,192.7 L666.2,191.5 L666.4,188.8 L666.5,192.6 L666.6,193.8 L666.8,190.7 L667.0,192.3 L667.1,192.8 L667.2,191.8 L667.4,190.4 L667.5,191.6 L667.7,191.0 L667.9,192.5 L668.0,189.8 L668.1,192.5 L668.3,191.9 L668.5,190.0" fill="none" stroke="#8b0000" stroke-width="1.4" stroke-linejoin="round" clip-path="url(#cTop)"/>
<path d="M101.5,327.2 L101.8,323.2 L102.2,341.9 L102.5,344.4 L102.9,349.7 L103.2,354.2 L103.6,351.2 L104.0,361.9 L104.3,366.5 L104.7,389.3 L105.0,384.8 L105.3,387.5 L105.7,391.8 L106.0,393.3 L106.4,393.5 L106.8,396.9 L107.1,400.7 L107.5,398.8 L107.8,404.0 L108.2,401.4 L108.5,406.7 L108.8,421.7 L109.2,422.2 L109.5,421.2 L109.9,424.6 L110.2,429.5 L110.6,437.3 L111.0,432.3 L111.3,435.2 L111.7,442.2 L112.0,437.8 L112.3,441.9 L112.7,447.9 L113.0,448.6 L113.4,448.4 L113.8,452.0 L114.1,440.9 L114.5,455.9 L114.8,450.2 L115.2,448.9 L115.5,457.0 L115.8,459.6 L116.2,456.7 L116.5,455.6 L116.9,460.4 L117.2,461.1 L117.6,466.9 L118.0,465.6 L118.3,464.6 L118.7,468.4 L119.0,464.7 L119.3,463.0 L119.7,468.7 L120.0,469.3 L120.4,467.4 L120.8,466.3 L121.1,470.3 L121.5,462.3 L121.8,473.4 L122.2,473.7 L122.5,468.1 L122.8,474.5 L123.2,472.5 L123.5,478.9 L123.9,471.4 L124.2,476.0 L124.6,482.1 L125.0,484.7 L125.3,476.2 L125.7,482.1 L126.0,485.2 L126.3,482.7 L126.7,488.5 L127.0,479.1 L127.4,482.0 L127.8,476.0 L128.1,481.7 L128.4,476.0 L128.8,473.9 L129.2,468.6 L129.5,478.3 L129.8,474.4 L130.2,473.6 L130.6,474.0 L130.9,470.9 L131.2,467.4 L131.6,466.7 L131.9,466.8 L132.3,474.0 L132.7,465.2 L133.0,468.4 L133.3,469.8 L133.7,472.1 L134.1,473.9 L134.4,468.9 L134.8,468.2 L135.1,474.4 L135.4,478.9 L135.8,478.6 L136.2,478.4 L136.5,478.7 L136.8,482.6 L137.2,483.1 L137.6,488.0 L137.9,484.8 L138.2,488.4 L138.6,487.8 L138.9,489.4 L139.2,488.2 L139.3,494.5 L139.6,491.1 L139.7,490.9 L139.9,480.3 L140.0,484.9 L140.2,483.5 L140.3,486.5 L140.6,477.8 L140.7,487.5 L140.9,486.6 L141.1,479.6 L141.3,479.9 L141.4,480.2 L141.7,482.1 L141.8,483.6 L142.0,487.1 L142.1,480.2 L142.3,482.4 L142.4,480.3 L142.7,484.4 L142.8,481.0 L143.1,482.1 L143.2,474.4 L143.4,476.2 L143.5,473.9 L143.8,480.0 L143.8,477.0 L144.1,472.8 L144.2,471.9 L144.4,473.3 L144.6,469.0 L144.8,466.6 L144.9,470.4 L145.2,474.8 L145.2,465.5 L145.5,462.6 L145.6,459.8 L145.8,457.3 L145.9,462.5 L146.2,461.5 L146.3,458.0 L146.6,456.9 L146.7,455.4 L146.9,453.3 L147.0,447.1 L147.2,448.5 L147.3,449.7 L147.6,444.9 L147.7,445.3 L147.9,442.8 L148.1,444.0 L148.3,447.1 L148.4,442.6 L148.7,443.2 L148.8,446.4 L149.0,446.1 L149.1,449.9 L149.3,437.8 L149.4,448.2 L149.7,444.7 L149.8,447.3 L150.1,451.0 L150.2,452.3 L150.4,453.6 L150.5,451.2 L150.8,457.6 L150.8,451.8 L151.1,453.8 L151.2,457.6 L151.4,454.5 L151.6,464.2 L151.8,461.8 L151.9,466.2 L152.2,460.1 L152.2,459.4 L152.5,462.4 L152.6,464.7 L152.8,461.4 L152.9,464.9 L153.2,464.6 L153.3,470.3 L153.6,463.8 L153.7,469.9 L153.9,465.4 L154.0,464.8 L154.2,466.8 L154.3,465.7 L154.6,471.1 L154.7,474.4 L154.9,472.8 L155.1,474.7 L155.3,478.9 L155.4,475.1 L155.7,476.0 L155.8,474.9 L156.0,471.9 L156.1,479.5 L156.3,472.8 L156.4,480.4 L156.7,479.2 L156.8,482.9 L157.1,480.1 L157.2,478.1 L157.4,482.4 L157.5,480.0 L157.8,482.1 L158.2,483.7 L158.6,483.8 L158.9,484.1 L159.2,482.3 L159.6,484.1 L159.9,478.4 L160.3,483.8 L160.7,480.6 L161.0,487.0 L161.3,487.1 L161.7,477.4 L162.1,483.1 L162.4,482.0 L162.8,479.0 L163.1,483.3 L163.4,480.1 L163.8,475.9 L164.2,480.1 L164.5,480.1 L164.8,480.6 L165.2,476.3 L165.6,481.5 L165.9,481.5 L166.2,475.5 L166.6,476.6 L166.9,478.0 L167.3,476.1 L167.7,482.7 L168.0,477.5 L168.3,473.3 L168.7,473.4 L169.1,475.1 L169.4,481.9 L169.8,473.6 L170.1,474.0 L170.4,474.6 L170.8,472.3 L171.2,479.1 L171.5,469.6 L171.8,473.2 L172.2,470.8 L172.6,471.8 L172.9,465.6 L173.2,474.7 L173.6,468.2 L173.9,468.4 L174.3,464.9 L174.7,465.4 L175.0,469.4 L175.3,470.7 L175.7,469.7 L176.1,471.1 L176.4,469.4 L176.8,467.0 L177.1,469.6 L177.4,468.7 L177.8,466.3 L178.2,468.9 L178.5,470.6 L178.8,467.0 L179.2,464.8 L179.6,468.2 L179.9,471.8 L180.2,464.4 L180.6,464.1 L180.9,463.0 L181.3,466.5 L181.7,455.0 L182.0,461.3 L182.3,463.2 L182.7,455.5 L183.1,463.1 L183.4,459.5 L183.8,455.4 L184.1,457.8 L184.4,451.5 L184.8,454.6 L185.2,462.8 L185.5,453.1 L185.8,462.6 L186.2,455.8 L186.6,459.5 L186.9,456.1 L187.2,448.1 L187.6,453.9 L187.9,456.6 L188.3,452.0 L188.7,451.3 L189.0,457.4 L189.3,453.8 L189.7,450.2 L190.1,453.8 L190.4,459.3 L190.8,454.6 L191.1,459.6 L191.4,461.7 L191.8,456.5 L192.2,452.5 L192.5,451.9 L192.8,456.4 L193.2,459.7 L193.6,457.5 L193.9,458.6 L194.2,455.1 L194.6,457.8 L194.9,455.1 L195.3,455.6 L195.7,452.3 L196.0,451.3 L196.3,455.2 L196.7,453.0 L197.1,453.6 L197.4,459.3 L197.8,456.6 L198.1,467.2 L198.4,460.3 L198.8,454.9 L199.2,459.9 L199.5,458.4 L199.8,454.8 L200.2,461.1 L200.6,454.6 L200.9,446.7 L201.2,460.1 L201.6,455.2 L201.9,462.6 L202.3,455.2 L202.7,453.4 L203.0,462.9 L203.3,453.8 L203.7,458.3 L204.1,462.7 L204.4,458.1 L204.8,457.4 L205.1,458.1 L205.4,460.7 L205.8,455.0 L206.2,459.9 L206.5,459.9 L206.8,466.0 L207.2,456.8 L207.6,454.8 L207.9,460.5 L208.2,456.6 L208.6,459.1 L208.9,458.6 L209.3,462.2 L209.7,455.9 L210.0,457.9 L210.3,449.4 L210.7,455.2 L211.1,463.7 L211.4,456.1 L211.8,456.1 L212.1,454.4 L212.4,460.7 L212.8,459.3 L213.2,454.7 L213.5,461.2 L213.8,459.8 L214.2,461.6 L214.6,456.8 L214.9,465.1 L215.2,460.5 L215.6,458.7 L215.9,457.4 L216.3,458.3 L216.7,462.1 L217.0,458.3 L217.3,462.9 L217.7,461.2 L218.1,463.8 L218.4,461.9 L218.8,458.9 L219.1,452.5 L219.4,460.1 L219.8,461.7 L220.2,459.5 L220.5,460.9 L220.8,457.3 L221.2,457.6 L221.6,455.6 L221.9,463.5 L222.2,459.4 L222.6,457.1 L222.9,454.1 L223.3,458.2 L223.7,463.6 L224.0,460.2 L224.3,456.0 L224.7,463.5 L225.1,463.4 L225.4,461.8 L225.8,461.1 L226.1,462.4 L226.4,460.2 L226.8,461.0 L227.2,455.6 L227.5,463.5 L227.8,459.1 L228.2,465.4 L228.6,451.3 L228.9,460.9 L229.2,461.9 L229.6,457.4 L229.9,460.2 L230.3,461.3 L230.7,460.7 L231.0,456.9 L231.2,458.3 L231.3,462.2 L231.4,463.1 L231.6,459.0 L231.7,458.9 L231.8,459.3 L232.0,462.0 L232.1,454.8 L232.2,453.7 L232.4,458.5 L232.6,453.8 L232.8,455.0 L232.8,457.1 L233.0,456.7 L233.1,449.9 L233.2,454.2 L233.4,439.0 L233.4,444.7 L233.6,429.6 L233.8,417.9 L234.0,412.5 L234.2,404.1 L234.2,402.5 L234.4,409.0 L234.5,417.7 L234.6,422.4 L234.8,435.4 L234.8,441.9 L235.0,443.2 L235.2,450.7 L235.4,454.2 L235.6,461.4 L235.6,461.2 L235.8,463.2 L235.9,459.0 L236.0,458.8 L236.2,462.6 L236.2,458.4 L236.2,462.6 L236.4,462.5 L236.5,457.8 L236.6,460.0 L236.8,460.1 L236.8,466.4 L236.9,469.3 L237.0,460.3 L237.2,460.8 L237.3,453.0 L237.6,461.6 L237.7,460.9 L237.9,457.3 L238.0,463.6 L238.2,455.6 L238.3,460.1 L238.6,461.2 L238.7,456.4 L238.9,463.2 L239.1,463.7 L239.3,455.0 L239.4,454.7 L239.7,460.7 L239.8,458.2 L240.0,453.2 L240.1,455.8 L240.3,454.9 L240.4,454.1 L240.7,455.5 L240.8,453.1 L241.1,455.5 L241.2,453.2 L241.4,448.2 L241.5,448.5 L241.8,446.6 L241.8,443.4 L242.1,434.3 L242.2,440.4 L242.4,435.7 L242.6,440.3 L242.8,434.0 L242.9,435.2 L243.2,434.6 L243.2,439.5 L243.5,435.6 L243.6,434.8 L243.8,438.8 L243.9,437.2 L244.2,441.8 L244.3,442.3 L244.6,445.9 L244.7,452.5 L244.9,447.2 L245.0,449.6 L245.2,451.0 L245.3,454.7 L245.6,450.2 L245.7,452.5 L245.9,456.0 L246.1,458.4 L246.3,457.3 L246.4,456.1 L246.7,455.4 L246.8,460.2 L247.0,463.6 L247.1,459.8 L247.2,459.4 L247.3,460.2 L247.4,455.5 L247.4,457.6 L247.6,457.7 L247.7,459.4 L247.8,458.2 L248.0,453.7 L248.1,461.5 L248.2,463.1 L248.2,456.4 L248.4,457.8 L248.5,456.8 L248.6,457.9 L248.8,449.0 L248.8,458.8 L248.8,451.2 L249.0,454.3 L249.1,447.4 L249.2,441.8 L249.4,428.8 L249.4,427.3 L249.6,408.9 L249.6,403.0 L249.8,363.9 L249.9,335.9 L250.0,320.8 L250.2,282.4 L250.2,270.3 L250.2,265.9 L250.4,247.1 L250.6,270.2 L250.8,322.3 L250.9,357.3 L251.0,358.2 L251.2,393.3 L251.3,415.2 L251.4,433.1 L251.5,436.0 L251.6,442.7 L251.7,447.7 L251.7,444.5 L251.8,451.1 L251.9,455.0 L252.0,455.4 L252.1,456.2 L252.2,453.7 L252.3,458.1 L252.3,455.2 L252.4,461.3 L252.5,466.0 L252.6,455.2 L252.7,450.7 L252.8,456.9 L252.9,459.8 L253.0,462.2 L253.1,462.4 L253.1,456.2 L253.2,456.2 L253.3,463.0 L253.4,454.9 L253.5,461.9 L253.7,455.9 L253.8,458.7 L253.9,456.0 L254.1,451.4 L254.3,445.2 L254.4,434.5 L254.5,437.6 L254.7,434.1 L254.8,435.9 L254.9,441.0 L255.1,442.1 L255.2,442.4 L255.3,447.2 L255.5,453.8 L255.7,460.8 L255.8,457.0 L255.9,464.0 L256.1,462.1 L256.2,460.6 L256.3,457.1 L256.4,462.6 L256.5,464.2 L256.6,456.0 L256.6,466.0 L256.7,467.6 L256.8,463.2 L256.9,463.8 L257.0,470.2 L257.1,466.3 L257.2,459.2 L257.2,462.1 L257.3,461.7 L257.4,461.6 L257.5,454.2 L257.6,464.6 L257.7,459.8 L257.8,462.4 L257.9,461.1 L258.0,464.3 L258.2,459.6 L258.3,457.2 L258.4,460.5 L258.6,459.7 L258.6,452.6 L258.8,452.7 L259.0,438.4 L259.2,422.3 L259.4,419.3 L259.4,408.7 L259.6,409.4 L259.7,405.9 L259.8,413.1 L260.0,420.3 L260.1,425.1 L260.2,441.6 L260.4,449.4 L260.6,455.9 L260.8,457.4 L260.8,461.1 L261.0,457.0 L261.1,458.5 L261.2,462.1 L261.4,460.5 L261.4,461.0 L261.6,463.4 L261.8,463.5 L262.0,463.5 L262.1,469.9 L262.2,467.8 L262.4,468.6 L262.5,464.6 L262.6,463.1 L262.9,460.1 L263.2,463.9 L263.6,458.4 L263.9,463.5 L264.2,468.0 L264.6,471.0 L264.9,468.9 L265.3,463.0 L265.6,467.5 L266.0,463.3 L266.4,468.7 L266.7,465.7 L267.1,468.9 L267.4,474.6 L267.8,469.2 L268.1,473.8 L268.4,466.8 L268.8,465.1 L269.1,470.6 L269.5,471.8 L269.9,464.3 L270.2,466.3 L270.6,461.3 L270.9,465.2 L271.2,468.5 L271.5,465.1 L271.6,463.5 L271.7,460.6 L271.9,466.1 L271.9,467.4 L272.1,466.5 L272.3,464.9 L272.5,459.3 L272.6,468.6 L272.7,462.5 L272.9,461.0 L273.0,463.0 L273.1,452.6 L273.3,455.9 L273.4,454.3 L273.5,450.3 L273.7,439.3 L273.9,410.7 L274.1,374.6 L274.1,368.2 L274.3,319.4 L274.4,293.8 L274.5,267.3 L274.7,245.5 L274.8,254.0 L274.9,272.7 L275.1,319.1 L275.3,364.3 L275.4,407.0 L275.5,400.7 L275.7,434.8 L275.8,451.0 L275.9,449.8 L276.1,458.3 L276.1,454.9 L276.3,465.6 L276.5,459.1 L276.7,465.5 L276.9,465.9 L276.9,462.3 L277.1,469.3 L277.2,462.3 L277.3,464.9 L277.5,467.6 L277.6,466.5 L277.7,469.6 L277.9,471.4 L278.2,468.1 L278.6,467.8 L278.9,468.2 L279.3,469.0 L279.6,472.9 L280.0,469.8 L280.4,472.0 L280.7,470.5 L281.1,468.2 L281.4,473.7 L281.8,467.8 L282.1,471.1 L282.2,475.8 L282.4,467.6 L282.4,470.9 L282.6,466.0 L282.8,469.4 L282.9,466.2 L283.1,469.7 L283.1,469.1 L283.3,471.1 L283.5,475.6 L283.6,471.4 L283.8,472.3 L283.9,469.9 L284.0,468.9 L284.2,466.3 L284.2,463.1 L284.4,467.1 L284.6,470.7 L284.7,464.7 L284.9,454.6 L285.1,450.9 L285.2,437.0 L285.4,430.2 L285.6,415.7 L285.6,415.4 L285.8,413.3 L285.9,422.9 L286.0,418.9 L286.2,429.0 L286.3,433.4 L286.5,445.0 L286.6,449.0 L286.7,456.8 L286.9,465.5 L287.0,465.8 L287.1,468.9 L287.4,464.7 L287.4,463.6 L287.6,473.9 L287.7,473.5 L287.8,465.5 L288.1,471.3 L288.3,470.9 L288.4,472.6 L288.5,471.6 L288.7,469.4 L288.8,471.6 L288.9,471.5 L289.1,470.9 L289.2,465.2 L289.4,461.6 L289.4,468.4 L289.8,465.6 L290.1,471.3 L290.5,472.3 L290.9,470.4 L291.2,467.7 L291.4,468.5 L291.6,471.5 L291.6,465.2 L291.9,469.5 L291.9,468.7 L292.1,466.3 L292.2,469.0 L292.3,461.7 L292.6,465.0 L292.6,458.6 L292.8,457.1 L292.9,453.4 L293.0,457.2 L293.2,447.1 L293.3,447.5 L293.4,436.7 L293.6,428.7 L293.7,428.7 L293.9,394.4 L294.0,380.8 L294.1,350.3 L294.4,295.7 L294.6,229.1 L294.7,202.0 L294.8,205.6 L295.0,228.4 L295.1,231.4 L295.2,286.9 L295.4,325.0 L295.5,348.1 L295.7,390.5 L295.8,406.3 L295.9,425.3 L296.1,432.3 L296.1,435.8 L296.4,448.6 L296.4,446.6 L296.6,455.8 L296.8,459.4 L296.8,457.5 L297.1,460.8 L297.1,465.0 L297.3,468.9 L297.5,470.7 L297.7,467.3 L297.9,470.5 L297.9,465.9 L298.2,470.3 L298.2,466.1 L298.4,471.9 L298.6,466.2 L298.6,467.1 L298.8,470.4 L298.9,472.5 L298.9,466.3 L299.1,469.4 L299.2,471.7 L299.3,472.0 L299.4,468.9 L299.6,471.9 L299.6,470.8 L299.8,476.1 L299.9,473.5 L300.0,467.6 L300.1,464.6 L300.3,471.2 L300.3,474.4 L300.5,469.9 L300.6,470.1 L300.7,465.5 L300.9,459.8 L301.0,463.9 L301.0,461.6 L301.2,462.2 L301.4,456.9 L301.4,462.1 L301.6,462.6 L301.7,469.8 L301.7,465.9 L301.9,468.4 L302.1,469.9 L302.1,475.8 L302.2,473.0 L302.4,471.0 L302.4,470.2 L302.6,470.5 L302.8,478.4 L302.8,468.3 L302.9,471.4 L303.1,476.1 L303.1,477.8 L303.3,473.8 L303.4,476.8 L303.5,476.8 L303.6,477.5 L303.8,474.7 L303.8,479.7 L304.0,475.3 L304.1,479.5 L304.5,471.5 L304.9,478.0 L305.2,471.3 L305.6,470.7 L305.9,477.0 L306.2,473.0 L306.6,477.1 L306.9,472.5 L307.3,480.9 L307.6,476.1 L308.0,472.7 L308.4,476.8 L308.7,479.1 L309.1,474.1 L309.4,478.2 L309.8,483.0 L310.1,479.5 L310.4,476.9 L310.8,475.3 L311.1,478.9 L311.5,472.6 L311.9,468.1 L312.2,475.4 L312.6,474.3 L312.9,483.0 L313.2,478.3 L313.6,475.0 L313.9,474.6 L314.3,479.8 L314.6,475.9 L315.0,476.8 L315.4,478.4 L315.7,479.0 L316.1,479.2 L316.4,479.4 L316.8,483.0 L317.1,484.4 L317.4,474.4 L317.8,487.2 L318.1,479.9 L318.5,483.3 L318.9,477.5 L319.2,480.7 L319.6,480.5 L319.9,480.2 L320.2,482.4 L320.6,481.8 L320.9,476.9 L321.3,479.5 L321.5,482.0 L321.6,481.9 L321.7,478.8 L321.9,478.9 L322.0,479.3 L322.1,476.4 L322.3,475.8 L322.4,484.3 L322.5,478.3 L322.7,479.6 L322.9,476.8 L323.1,482.5 L323.1,483.6 L323.3,476.6 L323.4,477.7 L323.5,472.6 L323.7,475.7 L323.8,471.7 L323.9,461.2 L324.1,458.8 L324.3,448.1 L324.4,445.0 L324.5,444.6 L324.7,445.1 L324.8,449.2 L324.9,457.0 L325.1,463.7 L325.1,462.9 L325.3,476.7 L325.5,474.4 L325.7,475.8 L325.9,476.4 L325.9,480.7 L326.1,482.2 L326.2,480.2 L326.3,482.3 L326.5,475.4 L326.6,478.8 L326.7,478.7 L326.9,480.2 L327.1,481.8 L327.2,474.3 L327.3,489.7 L327.5,477.9 L327.6,481.5 L327.9,483.1 L328.3,483.2 L328.6,481.5 L329.0,472.1 L329.4,477.6 L329.6,483.1 L329.7,478.1 L329.8,477.7 L329.9,473.8 L330.1,484.4 L330.1,482.3 L330.3,478.1 L330.4,480.4 L330.5,480.5 L330.6,477.4 L330.8,479.9 L330.8,481.4 L331.0,482.2 L331.1,484.2 L331.2,480.4 L331.4,478.6 L331.4,480.7 L331.5,477.3 L331.7,473.9 L331.8,479.8 L331.9,474.2 L332.1,472.8 L332.1,472.7 L332.2,466.4 L332.4,470.4 L332.5,470.2 L332.6,469.4 L332.8,473.6 L332.9,472.0 L332.9,468.9 L333.1,476.9 L333.2,476.0 L333.3,481.8 L333.4,480.9 L333.6,478.8 L333.6,480.7 L333.8,484.8 L333.9,484.2 L334.0,482.0 L334.1,482.3 L334.2,480.2 L334.3,480.7 L334.5,482.9 L334.6,480.8 L334.7,482.0 L334.9,477.9 L334.9,476.3 L335.0,476.2 L335.2,480.0 L335.3,485.2 L335.6,484.8 L336.0,478.4 L336.4,476.8 L336.7,483.8 L337.1,482.9 L337.4,477.5 L337.8,484.7 L338.1,482.1 L338.4,485.6 L338.8,482.7 L339.1,484.3 L339.5,482.7 L339.9,478.9 L340.2,481.1 L340.3,479.8 L340.5,484.2 L340.6,478.8 L340.6,477.2 L340.8,483.7 L340.9,485.1 L341.0,486.0 L341.2,484.9 L341.2,477.2 L341.4,479.6 L341.5,479.9 L341.6,481.4 L341.7,475.1 L341.9,481.1 L341.9,481.8 L342.1,477.8 L342.2,479.9 L342.3,482.3 L342.4,477.7 L342.6,477.6 L342.6,475.8 L342.8,471.7 L342.9,468.0 L343.0,464.7 L343.1,468.9 L343.3,465.5 L343.4,466.3 L343.4,472.7 L343.6,472.4 L343.7,477.3 L343.8,480.8 L344.0,480.0 L344.1,480.6 L344.1,483.5 L344.3,483.6 L344.4,477.0 L344.5,477.9 L344.7,485.8 L344.8,483.1 L344.9,475.9 L345.0,478.2 L345.1,482.2 L345.2,479.3 L345.4,483.6 L345.4,482.5 L345.6,483.7 L345.7,478.9 L345.8,484.2 L345.9,488.2 L346.1,480.1 L346.5,486.4 L346.9,485.5 L347.2,484.6 L347.6,482.6 L347.9,479.4 L348.2,480.3 L348.6,485.2 L348.9,485.9 L349.3,486.7 L349.6,486.0 L350.0,485.9 L350.4,482.1 L350.7,480.1 L351.1,484.4 L351.4,485.5 L351.8,484.6 L352.1,480.3 L352.4,483.5 L352.8,481.1 L353.1,486.1 L353.5,483.0 L353.9,485.8 L354.2,487.4 L354.6,487.1 L354.9,490.7 L355.2,483.8 L355.6,480.6 L355.9,489.0 L356.3,489.5 L356.6,488.3 L357.0,483.1 L357.4,481.1 L357.7,476.4 L358.1,468.5 L358.4,466.7 L358.8,466.7 L359.1,462.2 L359.4,470.0 L359.8,462.4 L359.9,466.5 L360.1,473.1 L360.1,468.3 L360.4,468.7 L360.5,469.5 L360.6,472.0 L360.8,480.3 L360.9,477.5 L361.0,479.0 L361.2,477.0 L361.2,481.2 L361.5,480.0 L361.6,477.3 L361.7,479.0 L361.9,481.2 L361.9,484.0 L362.1,480.2 L362.2,481.4 L362.4,485.0 L362.6,474.4 L362.8,469.1 L362.9,472.6 L363.1,468.7 L363.3,462.2 L363.3,462.8 L363.5,459.4 L363.6,463.0 L363.7,461.7 L363.9,470.2 L364.0,465.8 L364.2,471.0 L364.4,477.2 L364.4,476.4 L364.6,482.6 L364.7,481.1 L364.9,480.6 L365.1,483.5 L365.1,481.5 L365.3,478.9 L365.4,480.3 L365.5,481.4 L365.8,482.5 L366.0,484.3 L366.1,486.7 L366.2,485.8 L366.4,489.4 L366.4,488.0 L366.6,483.8 L366.8,489.2 L366.9,487.8 L367.1,483.2 L367.1,485.4 L367.5,487.7 L367.9,485.3 L368.0,487.5 L368.2,485.7 L368.4,486.5 L368.6,483.5 L368.6,485.5 L368.8,483.3 L368.9,486.2 L369.0,479.4 L369.2,485.0 L369.2,487.5 L369.4,485.4 L369.6,483.2 L369.8,484.0 L369.9,478.9 L370.0,478.4 L370.2,476.4 L370.3,474.4 L370.4,474.1 L370.6,459.4 L370.6,462.0 L370.8,445.5 L371.0,436.6 L371.2,433.8 L371.4,440.1 L371.4,437.0 L371.6,443.7 L371.7,457.2 L371.8,461.6 L372.0,468.0 L372.1,469.9 L372.2,475.1 L372.4,480.6 L372.6,483.9 L372.8,478.3 L372.8,489.3 L373.0,483.0 L373.1,482.1 L373.2,485.2 L373.4,483.7 L373.4,490.2 L373.6,486.7 L373.8,482.5 L374.0,482.4 L374.1,482.1 L374.2,482.5 L374.5,485.4 L374.9,481.5 L375.2,487.9 L375.6,482.9 L375.9,482.5 L376.2,485.6 L376.6,476.8 L376.9,479.7 L377.3,484.1 L377.6,482.2 L378.0,482.0 L378.4,483.0 L378.7,480.0 L379.1,481.1 L379.4,477.5 L379.8,475.9 L380.1,485.2 L380.4,478.6 L380.8,479.2 L381.1,485.4 L381.5,484.4 L381.9,479.6 L382.2,479.6 L382.6,480.9 L382.9,478.2 L383.2,482.7 L383.6,481.4 L383.9,481.4 L384.3,483.2 L384.6,483.1 L385.0,486.4 L385.4,485.5 L385.7,476.1 L386.1,484.1 L386.4,478.6 L386.8,478.1 L387.1,484.9 L387.4,481.4 L387.8,483.1 L388.1,487.8 L388.5,483.4 L388.9,483.4 L389.2,487.5 L389.6,490.6 L389.9,489.2 L390.2,483.9 L390.6,486.8 L390.7,488.3 L390.9,494.2 L390.9,491.3 L391.1,491.3 L391.3,492.3 L391.5,488.1 L391.6,490.3 L391.7,490.3 L391.9,486.1 L392.0,488.6 L392.1,490.0 L392.3,485.0 L392.4,490.1 L392.5,489.3 L392.7,488.4 L392.9,480.2 L393.1,478.6 L393.1,480.5 L393.3,469.6 L393.4,459.7 L393.5,456.6 L393.7,449.2 L393.8,443.1 L393.9,441.6 L394.1,452.3 L394.3,455.9 L394.4,464.4 L394.5,464.7 L394.7,474.7 L394.8,483.9 L394.9,481.9 L395.1,482.3 L395.1,483.5 L395.3,487.2 L395.5,490.0 L395.7,486.3 L395.9,490.5 L395.9,487.3 L396.1,489.8 L396.2,490.3 L396.3,490.6 L396.5,487.9 L396.6,488.6 L396.7,490.5 L396.9,485.7 L397.1,489.7 L397.2,490.7 L397.3,492.1 L397.5,489.2 L397.6,488.8 L397.7,489.6 L397.9,487.2 L397.9,488.6 L398.1,490.3 L398.3,489.8 L398.5,486.0 L398.6,487.8 L398.7,482.8 L398.9,490.2 L399.0,486.0 L399.1,487.3 L399.3,481.3 L399.4,483.3 L399.5,481.9 L399.7,478.8 L399.9,468.0 L400.1,472.3 L400.1,469.4 L400.3,469.6 L400.4,475.1 L400.5,475.3 L400.7,479.9 L400.8,479.8 L400.9,485.0 L401.1,486.9 L401.3,487.7 L401.4,486.1 L401.5,487.4 L401.7,490.3 L401.8,492.9 L401.9,489.4 L402.1,493.5 L402.1,489.6 L402.3,486.8 L402.5,491.6 L402.7,487.4 L402.9,491.2 L402.9,493.1 L403.1,489.4 L403.2,490.1 L403.6,497.2 L403.9,491.3 L404.2,491.6 L404.6,493.2 L404.8,490.9 L404.9,491.0 L405.1,492.3 L405.3,484.9 L405.5,495.3 L405.6,488.6 L405.8,488.7 L406.0,493.1 L406.2,491.7 L406.4,488.2 L406.5,491.9 L406.7,487.7 L406.9,488.1 L407.1,484.8 L407.2,485.6 L407.4,488.5 L407.6,488.3 L407.8,490.0 L407.9,492.9 L408.1,491.3 L408.3,490.3 L408.4,491.7 L408.6,497.1 L408.8,492.9 L409.0,493.8 L409.1,492.7 L409.3,493.7 L409.5,494.3 L409.7,493.1 L409.9,492.8 L410.0,491.2 L410.2,491.0 L410.6,494.4 L410.9,495.4 L411.2,495.9 L411.6,493.6 L411.9,491.3 L412.3,495.2 L412.6,495.1 L413.0,489.5 L413.4,495.6 L413.7,495.0 L413.9,497.8 L414.1,490.4 L414.1,490.0 L414.3,495.4 L414.4,488.6 L414.5,491.4 L414.7,490.3 L414.8,490.5 L414.9,488.1 L415.1,492.3 L415.3,495.2 L415.4,493.4 L415.5,493.3 L415.7,490.1 L415.8,494.0 L415.9,490.4 L416.1,487.9 L416.1,479.8 L416.3,480.2 L416.5,468.8 L416.7,465.7 L416.9,462.4 L416.9,458.8 L417.1,465.3 L417.2,471.1 L417.3,473.2 L417.5,480.9 L417.6,478.8 L417.7,483.5 L417.9,486.3 L418.1,491.7 L418.2,495.3 L418.3,493.5 L418.5,492.9 L418.6,490.2 L418.7,494.4 L418.9,492.9 L418.9,488.5 L419.1,489.1 L419.3,492.9 L419.5,491.5 L419.6,498.3 L419.7,494.1 L419.9,491.3 L420.0,492.8 L420.4,498.4 L420.7,491.9 L421.1,496.4 L421.4,495.7 L421.8,498.5 L422.1,496.1 L422.4,493.8 L422.8,496.3 L423.1,495.2 L423.5,497.7 L423.9,495.1 L424.2,500.5 L424.6,495.2 L424.9,496.7 L425.2,494.0 L425.6,496.1 L425.9,496.0 L426.3,496.5 L426.6,498.4 L427.0,494.8 L427.4,494.1 L427.7,499.3 L428.1,495.8 L428.4,494.9 L428.8,499.6 L429.1,498.7 L429.4,490.1 L429.8,495.9 L430.1,499.0 L430.5,499.1 L430.9,495.8 L431.2,501.1 L431.6,495.2 L431.9,496.7 L432.2,497.6 L432.6,497.3 L432.9,499.4 L433.3,500.0 L433.6,497.4 L433.7,501.0 L433.9,495.8 L434.0,497.0 L434.1,501.8 L434.3,497.7 L434.4,500.2 L434.5,496.4 L434.7,496.8 L434.9,497.2 L435.1,497.8 L435.1,496.5 L435.3,497.3 L435.4,498.8 L435.5,500.0 L435.7,496.8 L435.8,497.9 L435.9,497.7 L436.1,490.7 L436.3,486.3 L436.4,491.4 L436.5,489.7 L436.7,482.8 L436.8,482.4 L436.9,478.7 L437.1,479.2 L437.1,484.3 L437.3,482.7 L437.5,492.8 L437.7,491.9 L437.9,496.0 L437.9,500.5 L438.1,501.6 L438.2,496.5 L438.3,500.1 L438.5,495.1 L438.6,496.3 L438.7,498.8 L438.9,501.5 L439.1,496.7 L439.2,499.5 L439.3,498.4 L439.5,495.0 L439.6,497.9 L439.7,502.0 L439.9,498.0 L439.9,499.5 L440.1,500.3 L440.3,496.4 L440.5,501.3 L440.6,502.0 L440.7,502.2 L440.9,501.4 L441.0,496.9 L441.1,496.5 L441.3,495.8 L441.4,495.5 L441.5,495.4 L441.7,499.1 L441.9,498.6 L442.1,491.2 L442.1,493.9 L442.3,483.9 L442.4,483.4 L442.5,478.6 L442.7,471.4 L442.8,474.5 L442.9,473.2 L443.1,474.4 L443.3,479.9 L443.4,483.3 L443.5,486.9 L443.7,490.6 L443.8,494.4 L443.9,492.2 L444.1,497.5 L444.1,498.4 L444.3,500.9 L444.5,500.8 L444.7,499.0 L444.9,496.9 L444.9,494.1 L445.1,498.8 L445.2,502.4 L445.3,503.0 L445.5,492.6 L445.6,497.1 L445.7,498.2 L445.9,496.5 L446.2,499.6 L446.6,499.3 L446.9,498.0 L447.3,499.3 L447.6,495.4 L448.0,497.0 L448.4,497.2 L448.7,501.7 L449.1,495.4 L449.4,499.0 L449.8,501.4 L450.1,499.4 L450.4,501.5 L450.8,497.9 L451.1,500.6 L451.5,501.8 L451.9,505.1 L452.2,501.3 L452.6,503.1 L452.9,499.6 L453.2,499.8 L453.6,503.5 L453.9,501.0 L454.3,503.1 L454.6,501.3 L455.0,504.8 L455.4,505.5 L455.7,497.5 L456.1,504.2 L456.4,500.7 L456.8,500.8 L457.1,499.3 L457.4,501.4 L457.8,496.8 L458.1,497.8 L458.5,497.7 L458.9,500.3 L459.2,501.9 L459.6,501.4 L459.9,500.5 L460.2,498.1 L460.6,495.2 L460.9,500.6 L461.3,500.0 L461.6,500.5 L462.0,503.2 L462.4,499.2 L462.7,499.1 L463.1,493.9 L463.4,501.1 L463.8,499.6 L464.1,497.9 L464.4,500.7 L464.8,497.1 L465.1,498.4 L465.5,504.6 L465.9,501.6 L465.9,502.1 L466.1,501.6 L466.2,501.4 L466.2,500.2 L466.4,505.4 L466.6,499.6 L466.6,501.6 L466.8,499.2 L466.9,498.8 L466.9,493.7 L467.1,494.9 L467.2,503.5 L467.3,503.3 L467.5,498.4 L467.6,499.2 L467.6,500.7 L467.8,496.1 L467.9,502.3 L468.0,494.9 L468.2,494.1 L468.3,487.5 L468.4,497.5 L468.5,491.9 L468.6,495.0 L468.7,488.4 L468.9,492.6 L469.0,493.3 L469.1,494.3 L469.2,501.0 L469.4,502.8 L469.4,501.0 L469.6,497.7 L469.7,501.4 L469.8,502.6 L469.9,501.0 L470.1,501.2 L470.1,501.0 L470.3,497.7 L470.4,500.5 L470.4,503.9 L470.6,497.6 L470.8,500.2 L470.8,502.1 L471.0,496.7 L471.1,499.8 L471.1,495.9 L471.3,498.6 L471.4,496.7 L471.5,497.9 L471.8,498.9 L472.1,499.5 L472.5,499.6 L472.7,494.2 L472.9,503.9 L472.9,499.4 L473.1,497.3 L473.2,498.4 L473.4,500.6 L473.6,497.3 L473.6,498.8 L473.8,498.5 L473.9,500.9 L474.1,497.6 L474.2,500.3 L474.3,500.0 L474.5,498.3 L474.6,501.3 L474.7,497.8 L474.9,493.0 L475.2,492.9 L475.3,489.1 L475.4,485.3 L475.6,475.5 L475.6,479.3 L475.9,462.2 L476.0,454.0 L476.1,448.6 L476.3,447.0 L476.4,443.9 L476.5,447.3 L476.7,455.7 L476.8,463.0 L477.0,476.9 L477.1,475.2 L477.2,483.9 L477.4,493.5 L477.4,495.0 L477.6,493.1 L477.8,496.3 L477.9,500.2 L478.1,497.9 L478.3,498.6 L478.4,498.6 L478.6,496.9 L478.8,500.5 L478.8,501.1 L479.0,497.2 L479.1,501.0 L479.2,503.5 L479.4,501.4 L479.5,503.2 L479.7,499.7 L479.9,504.5 L479.9,499.2 L480.2,505.9 L480.6,500.3 L480.9,499.8 L481.2,499.5 L481.6,500.8 L481.9,500.7 L482.3,500.3 L482.6,501.3 L483.0,503.8 L483.4,504.4 L483.7,501.5 L484.1,505.4 L484.4,500.1 L484.8,500.2 L485.1,500.0 L485.4,504.2 L485.8,499.2 L486.1,499.6 L486.5,506.1 L486.9,507.2 L487.2,506.3 L487.6,499.7 L487.9,503.3 L488.2,505.3 L488.6,503.6 L488.9,499.5 L489.3,502.6 L489.6,499.4 L490.0,500.5 L490.4,508.5 L490.7,505.0 L491.1,499.9 L491.4,499.8 L491.8,504.4 L492.1,501.8 L492.4,504.6 L492.8,501.6 L493.1,502.7 L493.5,503.6 L493.9,500.5 L494.2,498.4 L494.6,500.0 L494.9,501.1 L495.2,502.3 L495.6,502.5 L495.9,502.4 L496.3,503.8 L496.6,500.3 L497.0,505.7 L497.4,507.1 L497.7,503.1 L498.1,502.6 L498.4,505.1 L498.8,503.6 L499.1,502.4 L499.4,501.4 L499.8,500.0 L500.1,498.9 L500.4,503.2 L500.5,504.5 L500.6,499.0 L500.8,501.3 L500.9,502.0 L501.0,500.4 L501.2,499.5 L501.4,500.3 L501.6,496.4 L501.6,501.0 L501.8,500.3 L501.9,506.0 L502.0,503.0 L502.2,499.5 L502.2,500.2 L502.4,503.7 L502.6,501.9 L502.8,495.6 L502.9,491.8 L503.0,487.3 L503.2,484.6 L503.3,482.2 L503.4,478.5 L503.6,482.2 L503.6,473.6 L503.8,479.9 L504.0,486.3 L504.2,491.8 L504.4,498.2 L504.4,491.6 L504.6,495.9 L504.7,498.9 L504.8,499.6 L505.0,499.1 L505.1,498.3 L505.2,503.0 L505.4,498.0 L505.6,499.3 L505.8,504.3 L505.8,505.0 L506.0,503.0 L506.1,498.8 L506.2,498.8 L506.4,498.7 L506.4,498.1 L506.6,499.9 L506.8,504.0 L507.1,501.5 L507.5,499.1 L507.9,499.0 L508.2,498.0 L508.6,503.8 L508.9,495.8 L509.2,501.4 L509.3,497.2 L509.5,498.1 L509.6,497.0 L509.8,503.0 L509.9,500.4 L510.0,507.3 L510.2,498.0 L510.3,497.8 L510.4,501.9 L510.6,501.7 L510.9,499.5 L511.0,495.1 L511.1,503.5 L511.3,501.1 L511.4,500.6 L511.6,497.6 L511.7,500.0 L511.8,496.5 L512.0,495.9 L512.0,494.7 L512.2,495.7 L512.4,488.3 L512.5,487.6 L512.7,487.4 L512.8,484.3 L512.9,482.9 L513.1,483.7 L513.1,486.9 L513.4,486.7 L513.5,491.3 L513.6,497.3 L513.8,496.5 L514.0,495.6 L514.1,495.0 L514.1,498.6 L514.2,495.6 L514.3,494.9 L514.5,497.3 L514.5,496.5 L514.5,501.4 L514.7,495.8 L514.8,503.3 L514.9,497.6 L514.9,499.8 L515.0,501.2 L515.1,500.1 L515.2,501.3 L515.2,497.1 L515.4,493.9 L515.5,499.0 L515.5,495.4 L515.6,498.1 L515.7,501.8 L515.8,499.0 L515.9,497.9 L516.0,496.5 L516.1,498.5 L516.2,498.7 L516.3,495.2 L516.4,499.7 L516.5,496.0 L516.6,498.9 L516.6,497.2 L516.8,499.7 L517.0,498.4 L517.0,495.6 L517.2,493.2 L517.3,494.1 L517.5,495.0 L517.6,493.4 L517.7,491.1 L517.9,492.3 L518.0,496.0 L518.1,489.5 L518.4,496.8 L518.4,493.4 L518.6,500.7 L518.7,496.6 L518.8,498.1 L519.0,496.3 L519.3,499.3 L519.4,501.4 L519.5,503.6 L519.7,496.4 L519.8,498.5 L520.0,509.3 L520.1,502.0 L520.2,499.7 L520.4,501.0 L520.5,493.1 L520.6,503.8 L520.8,500.2 L520.9,496.3 L521.1,502.8 L521.1,498.4 L521.3,497.4 L521.5,501.3 L521.9,501.2 L522.2,499.2 L522.5,500.3 L522.9,497.3 L523.2,497.3 L523.6,503.2 L524.0,504.4 L524.3,502.4 L524.6,502.5 L525.0,500.9 L525.4,501.7 L525.7,500.0 L526.0,506.7 L526.4,501.3 L526.8,503.9 L527.1,503.1 L527.5,499.9 L527.8,508.0 L528.1,502.7 L528.1,501.8 L528.3,504.0 L528.5,501.7 L528.7,503.9 L528.9,501.6 L528.9,505.3 L529.1,504.1 L529.2,500.8 L529.3,506.5 L529.5,504.5 L529.5,501.5 L529.7,504.9 L529.9,505.0 L530.1,508.2 L530.2,501.5 L530.3,505.4 L530.5,502.4 L530.6,503.5 L530.7,500.8 L530.9,499.7 L531.0,500.6 L531.1,495.6 L531.3,492.8 L531.5,498.5 L531.6,498.6 L531.7,500.3 L531.9,503.3 L532.0,502.0 L532.1,505.9 L532.3,503.9 L532.4,504.5 L532.5,506.5 L532.7,506.2 L532.9,504.8 L533.0,505.4 L533.1,503.4 L533.3,503.8 L533.4,505.5 L533.5,507.2 L533.7,504.4 L533.8,507.4 L533.9,510.0 L534.1,510.5 L534.3,505.7 L534.5,508.1 L534.5,507.1 L534.8,507.6 L535.1,507.8 L535.5,507.2 L535.9,507.9 L536.2,506.6 L536.5,505.6 L536.9,506.8 L537.2,507.4 L537.6,509.2 L538.0,507.3 L538.3,508.1 L538.6,509.7 L539.0,504.4 L539.4,505.9 L539.7,507.7 L540.0,506.6 L540.4,504.2 L540.8,508.8 L541.1,506.3 L541.5,504.2 L541.8,510.8 L542.1,503.5 L542.5,506.4 L542.9,504.9 L543.2,506.6 L543.5,507.6 L543.9,504.5 L544.2,506.1 L544.6,506.0 L545.0,503.9 L545.3,508.8 L545.6,506.5 L546.0,505.4 L546.4,504.5 L546.7,505.2 L547.0,506.2 L547.4,504.7 L547.8,508.5 L548.1,499.7 L548.4,500.5 L548.5,504.8 L548.6,501.0 L548.8,505.0 L548.9,503.6 L549.1,506.3 L549.1,505.8 L549.3,507.7 L549.5,506.6 L549.5,507.4 L549.8,505.4 L549.9,506.4 L550.0,504.9 L550.2,501.7 L550.4,499.2 L550.4,499.1 L550.5,501.9 L550.6,494.8 L550.6,500.0 L550.8,495.3 L550.9,496.9 L550.9,495.0 L551.0,489.6 L551.1,487.3 L551.2,477.1 L551.2,480.2 L551.3,476.2 L551.4,465.9 L551.5,461.6 L551.6,455.8 L551.8,445.4 L551.8,440.4 L552.0,440.0 L552.0,439.4 L552.2,441.8 L552.2,440.6 L552.3,448.1 L552.4,454.5 L552.5,455.2 L552.6,463.7 L552.6,461.9 L552.7,464.5 L552.8,468.0 L552.9,468.5 L553.0,474.6 L553.1,467.9 L553.2,464.9 L553.4,467.6 L553.4,463.5 L553.6,470.8 L553.6,472.6 L553.7,473.5 L553.8,478.2 L554.0,485.0 L554.0,488.4 L554.0,487.4 L554.2,497.7 L554.2,496.3 L554.4,497.2 L554.5,495.4 L554.6,504.8 L554.7,503.7 L554.8,502.1 L554.8,501.6 L554.9,502.0 L555.0,500.6 L555.1,506.3 L555.1,502.4 L555.2,498.6 L555.4,500.6 L555.4,496.1 L555.5,503.8 L555.6,504.1 L555.8,506.5 L556.0,507.3 L556.0,500.5 L556.1,503.4 L556.2,504.7 L556.3,504.2 L556.4,501.1 L556.5,504.2 L556.6,503.4 L556.7,505.5 L556.9,502.1 L557.0,501.5 L557.2,500.7 L557.4,500.8 L557.5,499.5 L557.7,499.8 L557.9,500.6 L558.1,498.6 L558.2,498.3 L558.4,495.5 L558.6,493.4 L558.8,490.0 L559.0,496.3 L559.1,500.1 L559.3,496.0 L559.5,497.6 L559.6,498.7 L559.8,498.8 L560.0,500.8 L560.2,499.3 L560.4,502.6 L560.5,498.8 L560.7,501.4 L560.9,500.6 L561.0,499.5 L561.2,504.3 L561.4,501.9 L561.8,503.2 L562.1,501.1 L562.4,503.6 L562.5,503.4 L562.6,501.5 L562.8,497.6 L562.9,503.9 L563.1,503.6 L563.1,502.3 L563.3,502.5 L563.5,502.2 L563.5,502.4 L563.8,499.5 L563.9,501.7 L564.0,502.6 L564.2,500.4 L564.4,499.4 L564.5,506.2 L564.6,503.1 L564.9,500.6 L564.9,500.1 L565.1,494.5 L565.2,497.0 L565.3,499.5 L565.5,502.3 L565.6,493.9 L565.8,496.5 L566.0,502.5 L566.0,499.5 L566.2,499.2 L566.3,501.4 L566.5,498.9 L566.6,499.6 L566.7,501.9 L566.9,503.0 L567.0,498.6 L567.1,505.1 L567.4,497.5 L567.6,500.1 L567.7,509.3 L567.8,500.7 L568.0,503.5 L568.0,499.5 L568.2,501.2 L568.4,500.2 L568.5,501.0 L568.7,503.6 L568.8,506.2 L568.9,504.1 L569.1,505.8 L569.1,500.8 L569.4,505.6 L569.5,503.4 L569.6,505.4 L569.8,501.0 L570.1,501.5 L570.5,505.4 L570.9,503.6 L571.2,502.5 L571.5,500.7 L571.9,502.2 L572.2,503.7 L572.6,504.5 L573.0,501.6 L573.3,502.3 L573.6,504.3 L574.0,500.8 L574.4,505.9 L574.7,503.8 L575.0,503.7 L575.4,498.6 L575.8,500.7 L576.1,502.2 L576.5,503.5 L576.8,502.4 L577.1,506.0 L577.5,505.6 L577.9,504.9 L578.2,500.9 L578.5,508.9 L578.9,505.2 L579.2,507.2 L579.6,504.4 L580.0,505.9 L580.3,507.5 L580.6,506.4 L580.6,508.1 L580.8,505.5 L581.0,510.5 L581.0,501.5 L581.1,504.6 L581.3,508.1 L581.4,505.3 L581.5,504.8 L581.6,501.7 L581.7,508.5 L581.8,501.4 L582.0,506.9 L582.0,506.1 L582.2,507.6 L582.4,508.8 L582.4,503.7 L582.5,503.1 L582.7,503.6 L582.8,500.1 L582.9,505.1 L583.0,500.9 L583.1,501.8 L583.2,497.9 L583.4,499.9 L583.5,498.5 L583.6,500.3 L583.8,499.3 L583.8,504.5 L583.9,501.7 L584.1,498.4 L584.1,506.0 L584.3,504.3 L584.5,503.3 L584.5,511.2 L584.6,505.4 L584.8,502.6 L584.9,504.2 L585.0,506.6 L585.1,505.2 L585.2,508.6 L585.3,508.2 L585.5,503.9 L585.5,505.9 L585.7,507.3 L585.9,504.8 L585.9,504.7 L586.0,507.8 L586.2,506.8 L586.6,502.6 L587.0,504.6 L587.3,504.9 L587.6,505.6 L588.0,504.2 L588.4,508.9 L588.7,503.6 L589.0,503.4 L589.4,506.3 L589.8,500.7 L590.1,503.5 L590.5,507.3 L590.8,502.9 L591.1,504.0 L591.5,508.5 L591.9,507.1 L592.2,506.2 L592.5,506.7 L592.9,504.7 L593.2,507.1 L593.6,506.0 L594.0,512.2 L594.3,507.9 L594.6,506.0 L595.0,506.7 L595.4,507.1 L595.7,504.0 L596.0,505.4 L596.4,510.8 L596.8,504.3 L597.1,506.3 L597.5,510.0 L597.8,511.2 L598.1,505.6 L598.5,511.3 L598.9,507.3 L599.2,511.9 L599.5,509.4 L599.9,507.8 L600.2,510.1 L600.6,509.8 L601.0,506.9 L601.3,513.5 L601.6,508.1 L602.0,511.4 L602.4,507.9 L602.7,505.1 L603.0,506.7 L603.4,509.0 L603.8,510.8 L604.1,513.2 L604.5,509.5 L604.8,508.7 L605.1,506.7 L605.5,509.2 L605.9,510.0 L606.2,504.4 L606.5,512.1 L606.9,511.6 L607.2,514.1 L607.6,507.0 L608.0,509.0 L608.3,508.8 L608.6,505.7 L609.0,506.6 L609.2,506.2 L609.4,509.5 L609.4,509.3 L609.5,511.2 L609.7,507.2 L609.7,505.0 L609.9,508.9 L610.0,508.6 L610.1,509.3 L610.2,510.4 L610.4,506.1 L610.4,509.1 L610.6,504.8 L610.8,506.9 L610.8,508.0 L611.0,505.2 L611.1,504.2 L611.1,500.3 L611.3,498.3 L611.5,495.4 L611.5,491.5 L611.6,485.2 L611.8,486.7 L611.8,481.0 L612.0,475.7 L612.1,477.2 L612.2,483.3 L612.4,480.4 L612.5,491.7 L612.5,494.8 L612.7,497.4 L612.9,502.9 L612.9,499.7 L613.0,503.8 L613.2,504.5 L613.2,504.5 L613.4,504.9 L613.5,504.4 L613.6,506.8 L613.6,503.6 L613.8,502.0 L613.8,502.2 L613.9,501.0 L613.9,497.8 L614.0,495.6 L614.1,494.5 L614.2,495.1 L614.2,491.2 L614.3,490.8 L614.4,493.0 L614.5,486.9 L614.6,477.8 L614.6,476.0 L614.8,477.3 L615.0,474.4 L615.0,479.7 L615.0,479.0 L615.1,486.4 L615.2,483.5 L615.3,490.9 L615.3,485.5 L615.4,491.4 L615.5,496.3 L615.6,496.3 L615.6,490.7 L615.7,496.3 L615.8,494.4 L615.9,492.2 L616.0,486.4 L616.0,486.5 L616.2,478.8 L616.4,476.3 L616.4,474.4 L616.4,474.9 L616.5,471.0 L616.6,466.3 L616.7,470.5 L616.7,475.6 L616.8,470.2 L616.9,477.1 L617.0,479.0 L617.0,480.9 L617.1,484.5 L617.2,491.4 L617.2,492.9 L617.4,497.0 L617.4,498.8 L617.6,496.6 L617.8,504.1 L617.8,503.6 L618.0,503.5 L618.1,504.2 L618.2,502.6 L618.4,507.5 L618.5,503.2 L618.6,501.7 L618.8,505.2 L619.0,504.0 L619.1,505.3 L619.2,508.9 L619.4,505.2 L619.5,505.8 L619.6,510.8 L619.8,502.4 L619.9,506.5 L620.2,508.4 L620.5,509.3 L620.9,511.1 L621.2,504.5 L621.6,507.5 L622.0,506.0 L622.3,505.3 L622.6,504.9 L623.0,503.3 L623.4,507.5 L623.7,508.6 L624.0,504.7 L624.4,509.0 L624.8,506.1 L625.1,505.3 L625.5,501.8 L625.8,510.3 L626.1,509.6 L626.5,507.4 L626.9,507.4 L627.2,505.5 L627.5,509.7 L627.9,508.5 L628.2,509.9 L628.6,509.2 L629.0,505.8 L629.3,505.5 L629.6,509.9 L630.0,505.3 L630.4,509.6 L630.7,511.0 L631.0,506.2 L631.4,510.5 L631.8,509.1 L632.1,510.2 L632.5,507.6 L632.8,509.0 L633.1,509.9 L633.5,513.0 L633.9,510.6 L634.2,510.1 L634.5,506.1 L634.9,509.7 L635.2,507.4 L635.6,508.8 L636.0,509.5 L636.3,511.1 L636.6,510.2 L637.0,509.3 L637.4,508.7 L637.7,511.8 L638.0,506.8 L638.4,508.9 L638.8,511.8 L639.1,508.3 L639.5,510.6 L639.8,510.7 L640.1,513.1 L640.5,511.2 L640.9,504.9 L641.2,508.6 L641.5,509.2 L641.9,510.3 L642.2,509.3 L642.6,512.6 L643.0,510.8 L643.3,505.7 L643.6,506.8 L644.0,503.6 L644.4,512.0 L644.7,507.8 L645.0,507.7 L645.4,504.4 L645.8,506.9 L646.1,508.7 L646.5,506.8 L646.8,506.7 L647.1,506.2 L647.5,512.0 L647.9,506.2 L648.2,504.0 L648.5,506.1 L648.9,506.4 L649.2,506.9 L649.6,506.5 L650.0,504.4 L650.3,506.4 L650.6,507.7 L651.0,503.5 L651.4,511.2 L651.7,510.5 L652.0,502.3 L652.4,505.5 L652.8,508.6 L652.8,509.4 L653.0,510.3 L653.1,501.9 L653.2,503.6 L653.5,504.9 L653.5,507.3 L653.7,503.5 L653.8,506.9 L653.9,506.9 L654.1,507.5 L654.4,502.7 L654.5,506.1 L654.6,505.7 L654.8,504.4 L654.9,508.4 L655.0,504.4 L655.2,508.0 L655.3,503.0 L655.5,507.3 L655.5,506.8 L655.7,499.7 L655.9,500.7 L656.0,500.2 L656.2,495.1 L656.2,498.8 L656.4,497.9 L656.6,495.1 L656.6,497.6 L656.9,501.4 L657.0,499.9 L657.1,499.7 L657.3,506.9 L657.5,501.8 L657.6,505.2 L657.8,507.3 L658.0,506.8 L658.0,500.6 L658.2,504.3 L658.4,504.8 L658.4,504.6 L658.6,506.7 L658.7,506.5 L658.9,505.5 L659.0,505.9 L659.1,507.6 L659.3,508.2 L659.4,500.8 L659.5,510.4 L659.8,504.0 L659.8,507.1 L660.0,501.5 L660.1,504.1 L660.5,502.4 L660.8,508.0 L661.1,507.6 L661.5,505.6 L661.9,505.3 L662.2,506.7 L662.5,503.7 L662.9,504.6 L663.2,504.4 L663.6,508.2 L664.0,506.5 L664.3,503.7 L664.6,507.6 L665.0,508.3 L665.4,510.4 L665.7,506.2 L666.0,508.6 L666.4,512.7 L666.8,507.5 L667.1,507.6 L667.5,509.8 L667.8,507.8 L668.1,509.2" fill="none" stroke="#000000" stroke-width="1.6" stroke-linejoin="round" clip-path="url(#cBot)"/>
<path d="M294.8,294.1 L294.8,259.8" stroke="#000" stroke-width="1.6" stroke-linecap="round" fill="none"/>
<path d="M101.2,313.0 L101.7,326.6 L102.2,340.6 L102.7,355.0 L103.2,370.6 L103.7,386.0 L104.2,400.0 L104.7,410.8 L105.2,420.0 L105.7,428.4 L106.2,436.0 L106.7,442.5 L107.2,448.2 L107.7,453.4 L108.2,458.0 L108.7,462.3 L109.2,466.2 L109.7,469.8 L110.2,473.0 L110.7,475.9 L111.2,478.5 L111.7,480.8 L112.2,483.0 L112.7,485.0 L113.2,486.8 L113.7,488.6 L114.2,490.2 L114.7,491.8 L115.2,493.3 L115.7,494.9 L116.2,496.3 L116.7,497.6 L117.2,498.8 L117.7,499.8 L118.2,500.7 L118.7,501.5 L119.2,502.2 L119.7,502.9 L120.2,503.6 L120.7,504.2 L121.2,504.7 L121.7,505.2 L122.2,505.7 L122.7,506.2 L123.2,506.7 L123.7,507.1 L124.2,507.5 L124.7,507.9 L125.2,508.2 L125.7,508.5 L126.2,508.8 L126.7,509.1 L127.2,509.4 L127.7,509.7 L128.2,510.0 L128.7,510.2 L129.2,510.4 L129.7,510.7 L130.2,510.9 L130.7,511.1 L131.2,511.3 L131.7,511.5 L132.2,511.7 L132.7,511.8 L133.2,512.0 L133.7,512.1 L134.2,512.2 L134.7,512.4 L135.2,512.5 L135.7,512.6 L136.2,512.7 L136.7,512.8 L137.2,512.9 L137.7,513.0 L138.2,513.1 L138.7,513.2 L139.2,513.3 L139.7,513.4 L140.2,513.4 L140.7,513.5 L141.2,513.6 L141.7,513.6 L142.2,513.6 L142.7,513.7 L143.2,513.7 L143.7,513.8 L144.2,513.8 L144.7,513.9 L145.2,513.9 L145.7,513.9 L146.2,514.0 L146.7,514.0 L147.2,514.0 L147.7,514.0 L148.2,514.0 L148.7,514.0 L149.2,514.0 L149.7,514.0 L150.2,514.0 L150.7,514.0 L151.2,514.0 L151.7,514.0 L152.2,514.0 L152.7,514.0 L153.2,514.1 L153.7,514.2 L154.2,514.3 L154.7,514.4 L155.2,514.5 L155.7,514.6 L156.2,514.7 L156.7,514.9 L157.2,515.0 L157.7,515.2 L158.2,515.4 L158.7,515.6 L159.2,515.7 L159.7,515.9 L160.2,516.1 L160.7,516.2 L161.2,516.3 L161.7,516.5 L162.2,516.6 L162.7,516.7 L163.2,516.9 L163.7,517.0 L164.2,517.1 L164.7,517.2 L165.2,517.3 L165.7,517.5 L166.2,517.6 L166.7,517.7 L167.2,517.8 L167.7,517.9 L168.2,518.0 L168.7,518.1 L169.2,518.3 L169.7,518.4 L170.2,518.5 L170.7,518.6 L171.2,518.7 L171.7,518.8 L172.2,518.9 L172.7,518.9 L173.2,519.0 L173.7,519.1 L174.2,519.2 L174.7,519.3 L175.2,519.3 L175.7,519.4 L176.2,519.5 L176.7,519.5 L177.2,519.6 L177.7,519.6 L178.2,519.7 L178.7,519.8 L179.2,519.8 L179.7,519.9 L180.2,519.9 L180.7,520.0 L181.2,520.0 L181.7,520.1 L182.2,520.1 L182.7,520.2 L183.2,520.2 L183.7,520.3 L184.2,520.3 L184.7,520.4 L185.2,520.4 L185.7,520.4 L186.2,520.5 L186.7,520.5 L187.2,520.5 L187.7,520.6 L188.2,520.6 L188.7,520.6 L189.2,520.6 L189.7,520.7 L190.2,520.7 L190.7,520.7 L191.2,520.7 L191.7,520.8 L192.2,520.8 L192.7,520.8 L193.2,520.8 L193.7,520.9 L194.2,520.9 L194.7,520.9 L195.2,520.9 L195.7,520.9 L196.2,520.9 L196.7,521.0 L197.2,521.0 L197.7,521.0 L198.2,521.0 L198.7,521.0 L199.2,521.0 L199.7,521.0 L200.2,521.0 L200.7,521.0 L201.2,521.0 L201.7,521.0 L202.2,521.0 L202.7,521.0 L203.2,521.0 L203.7,520.9 L204.2,520.9 L204.7,520.9 L205.2,520.9 L205.7,520.9 L206.2,520.8 L206.7,520.8 L207.2,520.8 L207.7,520.8 L208.2,520.7 L208.7,520.7 L209.2,520.6 L209.7,520.6 L210.2,520.5 L210.7,520.4 L211.2,520.3 L211.7,520.2 L212.2,520.1 L212.7,520.0 L213.2,519.9 L213.7,519.8 L214.2,519.7 L214.7,519.6 L215.2,519.5 L215.7,519.3 L216.2,519.2 L216.7,519.0 L217.2,518.8 L217.7,518.6 L218.2,518.4 L218.7,518.2 L219.2,517.9 L219.7,517.7 L220.2,517.4 L220.7,517.2 L221.2,517.0 L221.7,516.7 L222.2,516.4 L222.7,516.1 L223.2,515.9 L223.7,515.5 L224.2,515.2 L224.7,514.9 L225.2,514.6 L225.7,514.2 L226.2,513.9 L226.7,513.5 L227.2,513.1 L227.7,512.6 L228.2,512.2 L228.7,511.7 L229.2,511.2 L229.7,510.8 L230.2,510.3 L230.7,509.8 L231.2,509.3 L231.7,508.8 L232.2,508.3 L232.7,507.8 L233.2,507.3 L233.7,506.8 L234.2,506.3 L234.7,505.8 L235.2,505.3 L235.7,504.8 L236.2,504.3 L236.7,503.9 L237.2,503.5 L237.7,503.1 L238.2,502.9 L238.7,502.7 L239.2,502.5 L239.7,502.4 L240.2,502.2 L240.7,502.1 L241.2,502.0 L241.7,502.0 L242.2,502.1 L242.7,502.2 L243.2,502.4 L243.7,502.7 L244.2,503.0 L244.7,503.3 L245.2,503.6 L245.7,504.0 L246.2,504.3 L246.7,504.8 L247.2,505.2 L247.7,505.7 L248.2,506.1 L248.7,506.6 L249.2,507.0 L249.7,507.5 L250.2,507.9 L250.7,508.2 L251.2,508.6 L251.7,509.0 L252.2,509.3 L252.7,509.7 L253.2,510.0 L253.7,510.4 L254.2,510.7 L254.7,511.0 L255.2,511.2 L255.7,511.4 L256.2,511.6 L256.7,511.7 L257.2,511.9 L257.7,512.0 L258.2,512.1 L258.7,512.3 L259.2,512.4 L259.7,512.5 L260.2,512.6 L260.7,512.7 L261.2,512.8 L261.7,512.9 L262.2,512.9 L262.7,513.0 L263.2,513.0 L263.7,513.0 L264.2,513.0 L264.7,512.9 L265.2,512.8 L265.7,512.6 L266.2,512.4 L266.7,512.2 L267.2,511.9 L267.7,511.7 L268.2,511.4 L268.7,511.2 L269.2,510.9 L269.7,510.6 L270.2,510.4 L270.7,510.1 L271.2,509.8 L271.7,509.4 L272.2,509.0 L272.7,508.6 L273.2,508.1 L273.7,507.7 L274.2,507.3 L274.7,506.9 L275.2,506.6 L275.7,506.3 L276.2,506.1 L276.7,505.9 L277.2,505.8 L277.7,505.8 L278.2,505.9 L278.7,506.0 L279.2,506.2 L279.7,506.5 L280.2,506.8 L280.7,507.1 L281.2,507.4 L281.7,507.8 L282.2,508.2 L282.7,508.5 L283.2,508.9 L283.7,509.3 L284.2,509.6 L284.7,510.0 L285.2,510.5 L285.7,510.9 L286.2,511.4 L286.7,511.9 L287.2,512.5 L287.7,513.0 L288.2,513.5 L288.7,514.0 L289.2,514.5 L289.7,515.0 L290.2,515.5 L290.7,515.9 L291.2,516.2 L291.7,516.6 L292.2,516.9 L292.7,517.2 L293.2,517.5 L293.7,517.8 L294.2,518.1 L294.7,518.3 L295.2,518.6 L295.7,518.9 L296.2,519.1 L296.7,519.4 L297.2,519.6 L297.7,519.8 L298.2,520.0 L298.7,520.2 L299.2,520.4 L299.7,520.6 L300.2,520.8 L300.7,520.9 L301.2,521.1 L301.7,521.3 L302.2,521.5 L302.7,521.6 L303.2,521.8 L303.7,522.0 L304.2,522.1 L304.7,522.3 L305.2,522.5 L305.7,522.6 L306.2,522.7 L306.7,522.8 L307.2,523.0 L307.7,523.1 L308.2,523.1 L308.7,523.2 L309.2,523.3 L309.7,523.3 L310.2,523.3 L310.7,523.3 L311.2,523.3 L311.7,523.3 L312.2,523.3 L312.7,523.2 L313.2,523.2 L313.7,523.2 L314.2,523.1 L314.7,523.1 L315.2,523.1 L315.7,523.0 L316.2,523.0 L316.7,522.9 L317.2,522.9 L317.7,522.8 L318.2,522.7 L318.7,522.6 L319.2,522.4 L319.7,522.3 L320.2,522.2 L320.7,522.1 L321.2,522.0 L321.7,521.9 L322.2,521.9 L322.7,521.8 L323.2,521.8 L323.7,521.8 L324.2,521.8 L324.7,521.8 L325.2,521.9 L325.7,521.9 L326.2,522.0 L326.7,522.0 L327.2,522.1 L327.7,522.2 L328.2,522.2 L328.7,522.3 L329.2,522.4 L329.7,522.5 L330.2,522.5 L330.7,522.6 L331.2,522.8 L331.7,522.9 L332.2,523.1 L332.7,523.2 L333.2,523.4 L333.7,523.6 L334.2,523.8 L334.7,524.0 L335.2,524.2 L335.7,524.4 L336.2,524.6 L336.7,524.8 L337.2,524.9 L337.7,525.0 L338.2,525.1 L338.7,525.2 L339.2,525.3 L339.7,525.3 L340.2,525.3 L340.7,525.2 L341.2,525.1 L341.7,525.0 L342.2,524.9 L342.7,524.7 L343.2,524.5 L343.7,524.3 L344.2,524.1 L344.7,523.8 L345.2,523.6 L345.7,523.4 L346.2,523.2 L346.7,523.0 L347.2,522.8 L347.7,522.6 L348.2,522.4 L348.7,522.3 L349.2,522.1 L349.7,521.9 L350.2,521.7 L350.7,521.6 L351.2,521.4 L351.7,521.2 L352.2,521.0 L352.7,520.8 L353.2,520.7 L353.7,520.5 L354.2,520.3 L354.7,520.2 L355.2,520.1 L355.7,520.0 L356.2,519.9 L356.7,519.8 L357.2,519.7 L357.7,519.7 L358.2,519.7 L358.7,519.7 L359.2,519.8 L359.7,519.9 L360.2,520.0 L360.7,520.2 L361.2,520.4 L361.7,520.6 L362.2,520.8 L362.7,521.0 L363.2,521.3 L363.7,521.5 L364.2,521.8 L364.7,522.0 L365.2,522.3 L365.7,522.6 L366.2,522.8 L366.7,523.1 L367.2,523.3 L367.7,523.5 L368.2,523.7 L368.7,523.9 L369.2,524.0 L369.7,524.2 L370.2,524.3 L370.7,524.3 L371.2,524.4 L371.7,524.5 L372.2,524.6 L372.7,524.6 L373.2,524.7 L373.7,524.7 L374.2,524.8 L374.7,524.8 L375.2,524.9 L375.7,524.9 L376.2,525.0 L376.7,525.0 L377.2,525.1 L377.7,525.1 L378.2,525.2 L378.7,525.3 L379.2,525.3 L379.7,525.4 L380.2,525.5 L380.7,525.6 L381.2,525.6 L381.7,525.8 L382.2,525.9 L382.7,526.0 L383.2,526.2 L383.7,526.3 L384.2,526.5 L384.7,526.6 L385.2,526.8 L385.7,526.9 L386.2,527.1 L386.7,527.3 L387.2,527.4 L387.7,527.6 L388.2,527.7 L388.7,527.9 L389.2,528.0 L389.7,528.2 L390.2,528.3 L390.7,528.4 L391.2,528.5 L391.7,528.6 L392.2,528.6 L392.7,528.7 L393.2,528.7 L393.7,528.7 L394.2,528.7 L394.7,528.7 L395.2,528.7 L395.7,528.6 L396.2,528.6 L396.7,528.5 L397.2,528.5 L397.7,528.4 L398.2,528.4 L398.7,528.3 L399.2,528.3 L399.7,528.2 L400.2,528.2 L400.7,528.1 L401.2,528.1 L401.7,528.0 L402.2,528.0 L402.7,527.9 L403.2,527.9 L403.7,527.8 L404.2,527.8 L404.7,527.7 L405.2,527.7 L405.7,527.6 L406.2,527.6 L406.7,527.5 L407.2,527.5 L407.7,527.4 L408.2,527.4 L408.7,527.4 L409.2,527.3 L409.7,527.3 L410.2,527.3 L410.7,527.3 L411.2,527.3 L411.7,527.4 L412.2,527.4 L412.7,527.5 L413.2,527.6 L413.7,527.7 L414.2,527.9 L414.7,528.0 L415.2,528.2 L415.7,528.4 L416.2,528.5 L416.7,528.7 L417.2,528.9 L417.7,529.1 L418.2,529.3 L418.7,529.5 L419.2,529.7 L419.7,529.9 L420.2,530.1 L420.7,530.3 L421.2,530.5 L421.7,530.8 L422.2,531.0 L422.7,531.3 L423.2,531.6 L423.7,531.9 L424.2,532.2 L424.7,532.6 L425.2,532.9 L425.7,533.2 L426.2,533.5 L426.7,533.8 L427.2,534.1 L427.7,534.3 L428.2,534.6 L428.7,534.8 L429.2,535.0 L429.7,535.1 L430.2,535.3 L430.7,535.4 L431.2,535.4 L431.7,535.5 L432.2,535.6 L432.7,535.7 L433.2,535.7 L433.7,535.8 L434.2,535.9 L434.7,535.9 L435.2,536.0 L435.7,536.0 L436.2,536.1 L436.7,536.1 L437.2,536.2 L437.7,536.2 L438.2,536.3 L438.7,536.3 L439.2,536.3 L439.7,536.4 L440.2,536.4 L440.7,536.5 L441.2,536.5 L441.7,536.6 L442.2,536.6 L442.7,536.7 L443.2,536.8 L443.7,536.8 L444.2,536.9 L444.7,537.0 L445.2,537.1 L445.7,537.1 L446.2,537.2 L446.7,537.3 L447.2,537.4 L447.7,537.5 L448.2,537.6 L448.7,537.7 L449.2,537.8 L449.7,537.9 L450.2,538.0 L450.7,538.1 L451.2,538.2 L451.7,538.3 L452.2,538.4 L452.7,538.5 L453.2,538.6 L453.7,538.7 L454.2,538.8 L454.7,538.9 L455.2,539.0 L455.7,539.1 L456.2,539.2 L456.7,539.3 L457.2,539.4 L457.7,539.4 L458.2,539.5 L458.7,539.6 L459.2,539.7 L459.7,539.8 L460.2,539.9 L460.7,540.0 L461.2,540.1 L461.7,540.1 L462.2,540.2 L462.7,540.3 L463.2,540.3 L463.7,540.4 L464.2,540.5 L464.7,540.5 L465.2,540.6 L465.7,540.6 L466.2,540.7 L466.7,540.7 L467.2,540.8 L467.7,540.8 L468.2,540.9 L468.7,540.9 L469.2,541.0 L469.7,541.0 L470.2,541.1 L470.7,541.1 L471.2,541.2 L471.7,541.2 L472.2,541.3 L472.7,541.3 L473.2,541.4 L473.7,541.4 L474.2,541.5 L474.7,541.5 L475.2,541.5 L475.7,541.6 L476.2,541.6 L476.7,541.7 L477.2,541.7 L477.7,541.7 L478.2,541.8 L478.7,541.8 L479.2,541.8 L479.7,541.8 L480.2,541.9 L480.7,541.9 L481.2,541.9 L481.7,541.9 L482.2,542.0 L482.7,542.0 L483.2,542.0 L483.7,542.0 L484.2,542.1 L484.7,542.1 L485.2,542.1 L485.7,542.1 L486.2,542.1 L486.7,542.1 L487.2,542.2 L487.7,542.2 L488.2,542.2 L488.7,542.2 L489.2,542.2 L489.7,542.2 L490.2,542.2 L490.7,542.2 L491.2,542.2 L491.7,542.2 L492.2,542.2 L492.7,542.1 L493.2,542.1 L493.7,542.1 L494.2,542.1 L494.7,542.0 L495.2,542.0 L495.7,542.0 L496.2,541.9 L496.7,541.9 L497.2,541.8 L497.7,541.8 L498.2,541.8 L498.7,541.7 L499.2,541.7 L499.7,541.6 L500.2,541.5 L500.7,541.5 L501.2,541.4 L501.7,541.4 L502.2,541.3 L502.7,541.2 L503.2,541.2 L503.7,541.1 L504.2,541.1 L504.7,541.0 L505.2,540.9 L505.7,540.7 L506.2,540.6 L506.7,540.4 L507.2,540.2 L507.7,540.0 L508.2,539.9 L508.7,539.7 L509.2,539.4 L509.7,539.2 L510.2,539.0 L510.7,538.8 L511.2,538.6 L511.7,538.4 L512.2,538.3 L512.7,538.1 L513.2,537.9 L513.7,537.8 L514.2,537.7 L514.7,537.6 L515.2,537.5 L515.7,537.4 L516.2,537.4 L516.7,537.4 L517.2,537.4 L517.7,537.5 L518.2,537.5 L518.7,537.6 L519.2,537.7 L519.7,537.8 L520.2,537.9 L520.7,538.0 L521.2,538.2 L521.7,538.3 L522.2,538.5 L522.7,538.7 L523.2,538.8 L523.7,539.0 L524.2,539.2 L524.7,539.4 L525.2,539.6 L525.7,539.8 L526.2,539.9 L526.7,540.1 L527.2,540.3 L527.7,540.5 L528.2,540.7 L528.7,540.8 L529.2,541.0 L529.7,541.1 L530.2,541.3 L530.7,541.4 L531.2,541.5 L531.7,541.6 L532.2,541.7 L532.7,541.8 L533.2,541.9 L533.7,542.0 L534.2,542.1 L534.7,542.3 L535.2,542.4 L535.7,542.5 L536.2,542.6 L536.7,542.7 L537.2,542.8 L537.7,542.9 L538.2,543.0 L538.7,543.1 L539.2,543.2 L539.7,543.3 L540.2,543.3 L540.7,543.4 L541.2,543.5 L541.7,543.5 L542.2,543.6 L542.7,543.7 L543.2,543.7 L543.7,543.7 L544.2,543.8 L544.7,543.8 L545.2,543.8 L545.7,543.8 L546.2,543.8 L546.7,543.8 L547.2,543.8 L547.7,543.8 L548.2,543.8 L548.7,543.8 L549.2,543.8 L549.7,543.8 L550.2,543.8 L550.7,543.8 L551.2,543.7 L551.7,543.7 L552.2,543.7 L552.7,543.7 L553.2,543.7 L553.7,543.7 L554.2,543.7 L554.7,543.7 L555.2,543.7 L555.7,543.7 L556.2,543.7 L556.7,543.6 L557.2,543.6 L557.7,543.6 L558.2,543.6 L558.7,543.6 L559.2,543.6 L559.7,543.6 L560.2,543.6 L560.7,543.6 L561.2,543.6 L561.7,543.6 L562.2,543.6 L562.7,543.6 L563.2,543.6 L563.7,543.7 L564.2,543.8 L564.7,543.8 L565.2,543.9 L565.7,544.0 L566.2,544.1 L566.7,544.3 L567.2,544.4 L567.7,544.5 L568.2,544.7 L568.7,544.9 L569.2,545.0 L569.7,545.2 L570.2,545.4 L570.7,545.5 L571.2,545.7 L571.7,545.9 L572.2,546.1 L572.7,546.2 L573.2,546.4 L573.7,546.6 L574.2,546.7 L574.7,546.9 L575.2,547.1 L575.7,547.2 L576.2,547.4 L576.7,547.6 L577.2,547.8 L577.7,548.0 L578.2,548.2 L578.7,548.4 L579.2,548.7 L579.7,548.9 L580.2,549.1 L580.7,549.4 L581.2,549.6 L581.7,549.8 L582.2,550.0 L582.7,550.2 L583.2,550.4 L583.7,550.6 L584.2,550.7 L584.7,550.9 L585.2,551.0 L585.7,551.1 L586.2,551.2 L586.7,551.3 L587.2,551.3 L587.7,551.3 L588.2,551.4 L588.7,551.4 L589.2,551.4 L589.7,551.5 L590.2,551.5 L590.7,551.5 L591.2,551.5 L591.7,551.6 L592.2,551.6 L592.7,551.6 L593.2,551.6 L593.7,551.6 L594.2,551.6 L594.7,551.7 L595.2,551.7 L595.7,551.7 L596.2,551.7 L596.7,551.7 L597.2,551.7 L597.7,551.8 L598.2,551.8 L598.7,551.8 L599.2,551.8 L599.7,551.8 L600.2,551.8 L600.7,551.8 L601.2,551.8 L601.7,551.8 L602.2,551.9 L602.7,551.9 L603.2,551.9 L603.7,551.9 L604.2,551.9 L604.7,551.9 L605.2,551.9 L605.7,551.9 L606.2,551.9 L606.7,551.9 L607.2,552.0 L607.7,552.0 L608.2,552.0 L608.7,552.0 L609.2,552.0 L609.7,552.0 L610.2,552.0 L610.7,552.0 L611.2,552.1 L611.7,552.1 L612.2,552.1 L612.7,552.1 L613.2,552.1 L613.7,552.2 L614.2,552.2 L614.7,552.2 L615.2,552.2 L615.7,552.2 L616.2,552.3 L616.7,552.3 L617.2,552.3 L617.7,552.4 L618.2,552.4 L618.7,552.4 L619.2,552.5 L619.7,552.5 L620.2,552.6 L620.7,552.6 L621.2,552.7 L621.7,552.7 L622.2,552.7 L622.7,552.8 L623.2,552.8 L623.7,552.9 L624.2,552.9 L624.7,553.0 L625.2,553.0 L625.7,553.1 L626.2,553.1 L626.7,553.1 L627.2,553.2 L627.7,553.2 L628.2,553.3 L628.7,553.3 L629.2,553.3 L629.7,553.4 L630.2,553.4 L630.7,553.4 L631.2,553.4 L631.7,553.5 L632.2,553.5 L632.7,553.5 L633.2,553.5 L633.7,553.5 L634.2,553.5 L634.7,553.5 L635.2,553.5 L635.7,553.5 L636.2,553.5 L636.7,553.4 L637.2,553.4 L637.7,553.4 L638.2,553.3 L638.7,553.3 L639.2,553.3 L639.7,553.2 L640.2,553.2 L640.7,553.1 L641.2,553.1 L641.7,553.1 L642.2,553.0 L642.7,553.0 L643.2,552.9 L643.7,552.9 L644.2,552.9 L644.7,552.8 L645.2,552.8 L645.7,552.8 L646.2,552.7 L646.7,552.7 L647.2,552.7 L647.7,552.7 L648.2,552.7 L648.7,552.7 L649.2,552.7 L649.7,552.8 L650.2,552.8 L650.7,552.9 L651.2,553.0 L651.7,553.0 L652.2,553.1 L652.7,553.2 L653.2,553.3 L653.7,553.4 L654.2,553.5 L654.7,553.7 L655.2,553.8 L655.7,553.9 L656.2,554.0 L656.7,554.2 L657.2,554.3 L657.7,554.4 L658.2,554.6 L658.7,554.7 L659.2,554.8 L659.7,554.9 L660.2,555.0 L660.7,555.1 L661.2,555.2 L661.7,555.3 L662.2,555.4 L662.7,555.4 L663.2,555.5 L663.7,555.6 L664.2,555.7 L664.7,555.8 L665.2,555.9 L665.7,556.1 L666.2,556.3 L666.7,556.5 L667.2,556.8 L667.7,557.7 L668.2,561.6" fill="none" stroke="#2a952a" stroke-width="1.8" stroke-linejoin="round" clip-path="url(#cBot)"/>
<path d="M100.6,337.6 L101.1,355.8 L101.6,370.3 L102.1,382.0 L102.6,391.1 L103.1,400.0 L103.6,410.8 L104.1,422.3 L104.6,433.9 L105.1,445.0 L105.6,454.8 L106.1,463.7 L106.6,472.0 L107.1,479.4 L107.6,486.8 L108.1,493.5 L108.6,498.6 L109.1,502.0 L109.6,504.6 L110.1,506.8 L110.6,508.8 L111.1,510.8 L111.6,512.6 L112.1,514.3 L112.6,515.9 L113.1,517.4 L113.6,518.8 L114.1,520.1 L114.6,521.4 L115.1,522.7 L115.6,523.8 L116.1,524.9 L116.6,525.9 L117.1,526.8 L117.6,527.8 L118.1,528.6 L118.6,529.4 L119.1,530.1 L119.6,530.7 L120.1,531.3 L120.6,531.8 L121.1,532.2 L121.6,532.7 L122.1,533.1 L122.6,533.5 L123.1,533.8 L123.6,534.2 L124.1,534.5 L124.6,534.9 L125.1,535.2 L125.6,535.5 L126.1,535.8 L126.6,536.1 L127.1,536.3 L127.6,536.6 L128.1,536.8 L128.6,537.0 L129.1,537.2 L129.6,537.4 L130.1,537.6 L130.6,537.8 L131.1,538.0 L131.6,538.1 L132.1,538.3 L132.6,538.4 L133.1,538.5 L133.6,538.6 L134.1,538.7 L134.6,538.8 L135.1,538.9 L135.6,538.9 L136.1,539.0 L136.6,539.0 L137.1,539.1 L137.6,539.1 L138.1,539.1 L138.6,539.2 L139.1,539.2 L139.6,539.3 L140.1,539.3 L140.6,539.3 L141.1,539.4 L141.6,539.4 L142.1,539.4 L142.6,539.4 L143.1,539.4 L143.6,539.4 L143.8,539.4 L144.1,539.3 L144.1,539.3 L144.4,539.3 L144.6,539.2 L144.8,539.2 L145.1,539.0 L145.4,538.8 L145.6,538.6 L145.8,538.4 L146.1,537.7 L146.1,537.7 L146.4,536.6 L146.6,535.5 L146.7,534.7 L147.1,531.9 L147.1,531.4 L147.4,528.0 L147.6,524.6 L147.7,523.0 L148.0,517.2 L148.1,515.9 L148.3,511.5 L148.6,508.0 L148.7,507.2 L149.0,505.5 L149.1,505.7 L149.3,507.2 L149.6,510.9 L149.7,511.7 L150.0,517.5 L150.1,519.7 L150.3,523.3 L150.6,528.0 L150.6,528.4 L150.9,532.4 L151.1,533.9 L151.3,535.3 L151.6,537.2 L151.9,538.4 L152.1,538.9 L152.2,539.2 L152.6,539.7 L152.6,539.7 L152.9,540.0 L153.1,540.2 L153.2,540.3 L153.6,540.5 L153.6,540.5 L153.9,540.7 L154.1,540.8 L154.6,541.1 L155.1,541.4 L155.6,541.7 L156.1,542.0 L156.6,542.3 L157.1,542.7 L157.6,543.0 L158.1,543.3 L158.6,543.6 L159.1,544.0 L159.6,544.3 L160.1,544.5 L160.6,544.8 L161.1,545.0 L161.6,545.2 L162.1,545.3 L162.6,545.5 L163.1,545.6 L163.6,545.7 L164.1,545.8 L164.6,546.0 L165.1,546.1 L165.6,546.2 L166.1,546.3 L166.6,546.4 L167.1,546.5 L167.6,546.5 L168.1,546.6 L168.6,546.7 L169.1,546.8 L169.6,546.9 L170.1,547.0 L170.6,547.0 L171.1,547.1 L171.6,547.2 L172.1,547.3 L172.6,547.4 L173.1,547.4 L173.6,547.5 L174.1,547.6 L174.6,547.6 L175.1,547.7 L175.6,547.8 L176.1,547.8 L176.6,547.9 L177.1,548.0 L177.6,548.0 L178.1,548.1 L178.6,548.2 L179.1,548.2 L179.6,548.3 L180.1,548.3 L180.6,548.4 L181.1,548.5 L181.6,548.5 L182.1,548.6 L182.6,548.6 L183.1,548.7 L183.6,548.8 L184.1,548.8 L184.6,548.9 L185.1,548.9 L185.6,549.0 L186.1,549.0 L186.6,549.1 L187.1,549.1 L187.6,549.2 L188.1,549.3 L188.6,549.3 L189.1,549.4 L189.6,549.4 L190.1,549.5 L190.6,549.5 L191.1,549.6 L191.6,549.6 L192.1,549.7 L192.6,549.7 L193.1,549.7 L193.6,549.8 L194.1,549.8 L194.6,549.9 L195.1,549.9 L195.6,550.0 L196.1,550.0 L196.6,550.1 L197.1,550.1 L197.6,550.2 L198.1,550.2 L198.6,550.3 L199.1,550.3 L199.6,550.4 L200.1,550.4 L200.6,550.5 L201.1,550.5 L201.6,550.6 L202.1,550.6 L202.6,550.7 L203.1,550.7 L203.6,550.8 L204.1,550.8 L204.6,550.9 L205.1,550.9 L205.6,551.0 L206.1,551.0 L206.6,551.1 L207.1,551.1 L207.6,551.2 L208.1,551.2 L208.6,551.3 L209.1,551.3 L209.6,551.4 L210.1,551.4 L210.6,551.5 L211.1,551.5 L211.6,551.6 L212.1,551.6 L212.6,551.7 L213.1,551.7 L213.6,551.8 L214.1,551.9 L214.6,551.9 L215.1,552.0 L215.6,552.0 L216.1,552.1 L216.6,552.1 L217.1,552.2 L217.6,552.2 L218.1,552.3 L218.6,552.3 L219.1,552.4 L219.6,552.4 L220.1,552.5 L220.6,552.6 L221.1,552.6 L221.6,552.7 L222.1,552.7 L222.6,552.8 L223.1,552.8 L223.6,552.9 L224.1,552.9 L224.6,553.0 L225.1,553.1 L225.6,553.1 L226.1,553.2 L226.6,553.2 L227.1,553.3 L227.6,553.4 L228.1,553.4 L228.6,553.5 L229.1,553.5 L229.6,553.6 L230.1,553.6 L230.6,553.7 L231.1,553.7 L231.6,553.8 L232.1,553.8 L232.6,553.9 L233.1,553.9 L233.6,554.0 L234.1,554.0 L234.6,554.1 L235.1,554.1 L235.6,554.1 L236.1,554.2 L236.6,554.2 L237.1,554.2 L237.6,554.3 L238.1,554.3 L238.6,554.3 L239.1,554.3 L239.5,554.3 L239.6,554.3 L239.7,554.3 L239.9,554.3 L240.1,554.3 L240.2,554.3 L240.4,554.2 L240.6,554.2 L240.6,554.2 L240.8,554.1 L241.1,554.0 L241.1,554.0 L241.3,553.8 L241.5,553.4 L241.6,553.2 L241.8,552.9 L242.0,552.1 L242.1,551.6 L242.2,551.1 L242.4,550.0 L242.6,549.1 L242.7,548.8 L242.9,548.0 L243.1,547.7 L243.3,548.0 L243.6,548.9 L243.6,549.1 L243.8,550.0 L244.0,551.2 L244.1,551.6 L244.2,552.2 L244.4,553.0 L244.6,553.4 L244.7,553.5 L244.9,553.9 L245.1,554.1 L245.1,554.2 L245.3,554.3 L245.6,554.4 L245.6,554.4 L245.8,554.5 L246.0,554.5 L246.1,554.5 L246.2,554.5 L246.5,554.6 L246.6,554.6 L247.1,554.6 L247.6,554.7 L248.1,554.7 L248.6,554.7 L249.1,554.7 L249.2,554.7 L249.5,554.7 L249.6,554.7 L249.8,554.7 L250.0,554.7 L250.1,554.6 L250.3,554.6 L250.6,554.6 L250.6,554.5 L250.8,554.5 L251.1,554.3 L251.1,554.3 L251.4,554.0 L251.6,553.6 L251.7,553.5 L251.9,552.7 L252.1,552.2 L252.2,551.6 L252.5,550.3 L252.6,549.7 L252.8,548.7 L253.1,547.1 L253.1,546.9 L253.3,545.9 L253.6,545.5 L253.9,545.9 L254.1,546.9 L254.2,547.2 L254.4,548.8 L254.6,549.8 L254.7,550.4 L255.0,551.8 L255.1,552.3 L255.2,552.9 L255.5,553.6 L255.6,553.8 L255.8,554.2 L256.1,554.5 L256.1,554.5 L256.4,554.7 L256.6,554.8 L256.6,554.9 L256.9,554.9 L257.1,555.0 L257.2,555.0 L257.4,555.1 L257.6,555.1 L257.7,555.1 L258.0,555.1 L258.1,555.2 L258.6,555.2 L259.1,555.3 L259.6,555.3 L260.1,555.3 L260.6,555.4 L261.1,555.4 L261.6,555.4 L262.1,555.5 L262.6,555.5 L262.9,555.5 L263.1,555.5 L263.4,555.5 L263.6,555.5 L263.9,555.5 L264.1,555.6 L264.4,555.6 L264.6,555.6 L264.9,555.6 L265.1,555.6 L265.4,555.6 L265.6,555.6 L265.9,555.6 L266.1,555.6 L266.4,555.6 L266.6,555.6 L266.9,555.6 L267.1,555.6 L267.4,555.5 L267.6,555.5 L267.9,555.4 L268.1,555.4 L268.4,555.3 L268.6,555.2 L268.9,555.1 L269.1,555.0 L269.4,554.9 L269.6,554.8 L269.9,554.7 L270.1,554.6 L270.4,554.5 L270.6,554.5 L270.9,554.5 L271.1,554.5 L271.4,554.6 L271.6,554.7 L271.9,554.8 L272.1,554.9 L272.4,555.1 L272.6,555.2 L272.9,555.4 L273.1,555.5 L273.4,555.7 L273.6,555.8 L273.9,555.9 L274.1,556.0 L274.4,556.1 L274.6,556.2 L274.9,556.2 L275.1,556.3 L275.4,556.3 L275.6,556.4 L275.9,556.4 L276.1,556.5 L276.4,556.5 L276.6,556.5 L276.9,556.6 L277.1,556.6 L277.4,556.6 L277.6,556.7 L277.9,556.7 L278.1,556.7 L278.4,556.8 L278.6,556.8 L279.1,556.9 L279.6,556.9 L280.1,557.0 L280.3,557.0 L280.6,557.0 L280.6,557.0 L280.9,557.0 L281.1,557.0 L281.1,557.0 L281.4,557.0 L281.6,557.0 L281.7,557.0 L281.9,557.0 L282.1,557.0 L282.2,557.0 L282.5,556.8 L282.6,556.8 L282.8,556.6 L283.1,556.3 L283.1,556.2 L283.3,555.7 L283.6,555.1 L283.9,554.3 L284.1,553.7 L284.1,553.6 L284.4,553.0 L284.6,552.8 L284.7,552.8 L285.0,553.1 L285.1,553.3 L285.2,553.7 L285.5,554.5 L285.6,554.8 L285.8,555.4 L286.1,556.1 L286.1,556.2 L286.4,556.7 L286.6,557.1 L286.6,557.1 L286.9,557.4 L287.1,557.6 L287.2,557.6 L287.4,557.7 L287.6,557.8 L287.7,557.8 L288.0,557.9 L288.1,557.9 L288.3,558.0 L288.6,558.0 L288.6,558.0 L288.8,558.0 L289.1,558.1 L289.6,558.2 L290.1,558.2 L290.6,558.3 L291.1,558.3 L291.6,558.4 L292.1,558.5 L292.6,558.5 L293.1,558.6 L293.6,558.6 L294.1,558.7 L294.6,558.7 L295.1,558.8 L295.6,558.8 L296.1,558.9 L296.6,558.9 L297.1,558.9 L297.6,559.0 L298.1,559.0 L298.6,559.1 L299.1,559.1 L299.6,559.2 L300.1,559.2 L300.6,559.3 L301.1,559.3 L301.6,559.3 L302.1,559.4 L302.6,559.4 L303.1,559.5 L303.6,559.5 L304.1,559.6 L304.6,559.6 L305.1,559.7 L305.6,559.7 L306.1,559.7 L306.6,559.8 L307.1,559.8 L307.6,559.9 L308.1,559.9 L308.6,560.0 L309.1,560.0 L309.6,560.1 L310.1,560.1 L310.6,560.1 L311.1,560.2 L311.6,560.2 L312.1,560.3 L312.6,560.3 L313.1,560.4 L313.6,560.4 L314.1,560.5 L314.6,560.5 L315.1,560.6 L315.6,560.6 L316.1,560.6 L316.6,560.7 L317.1,560.7 L317.6,560.8 L318.1,560.8 L318.6,560.9 L319.1,560.9 L319.6,561.0 L320.1,561.0 L320.6,561.1 L321.1,561.1 L321.6,561.1 L322.1,561.2 L322.3,561.2 L322.6,561.2 L322.6,561.2 L323.0,561.3 L323.1,561.3 L323.4,561.3 L323.6,561.3 L323.7,561.3 L324.1,561.3 L324.1,561.3 L324.4,561.3 L324.6,561.3 L324.8,561.3 L325.1,561.3 L325.4,561.2 L325.6,561.2 L325.8,561.1 L326.1,561.0 L326.1,560.9 L326.5,560.7 L326.6,560.6 L326.9,560.4 L327.1,560.2 L327.2,560.1 L327.6,559.9 L327.6,559.9 L327.9,559.9 L328.1,559.9 L328.2,560.0 L328.6,560.3 L328.9,560.6 L329.1,560.8 L329.3,561.0 L329.6,561.2 L329.6,561.3 L330.0,561.5 L330.1,561.6 L330.4,561.7 L330.6,561.8 L330.7,561.9 L331.1,562.0 L331.1,562.0 L331.4,562.0 L331.6,562.1 L331.8,562.1 L332.1,562.1 L332.4,562.2 L332.6,562.2 L332.8,562.2 L333.1,562.3 L333.1,562.3 L333.5,562.3 L333.6,562.3 L334.1,562.4 L334.6,562.4 L335.1,562.5 L335.6,562.6 L336.1,562.6 L336.6,562.7 L337.1,562.7 L337.6,562.8 L338.1,562.8 L338.6,562.9 L339.1,562.9 L339.6,563.0 L340.1,563.0 L340.6,563.1 L341.1,563.1 L341.6,563.2 L342.1,563.2 L342.6,563.3 L343.1,563.3 L343.6,563.4 L344.1,563.4 L344.6,563.4 L345.1,563.5 L345.6,563.5 L346.1,563.6 L346.6,563.6 L347.1,563.6 L347.6,563.7 L348.1,563.7 L348.6,563.8 L349.1,563.8 L349.6,563.8 L350.1,563.9 L350.6,563.9 L351.1,563.9 L351.6,564.0 L352.1,564.0 L352.6,564.1 L353.1,564.1 L353.6,564.1 L354.1,564.2 L354.6,564.2 L355.1,564.2 L355.6,564.3 L356.1,564.3 L356.6,564.3 L357.1,564.3 L357.6,564.4 L358.1,564.4 L358.6,564.4 L359.1,564.4 L359.4,564.4 L359.6,564.4 L359.8,564.5 L360.1,564.5 L360.1,564.5 L360.5,564.5 L360.6,564.4 L360.9,564.4 L361.1,564.4 L361.2,564.4 L361.6,564.3 L361.6,564.3 L361.9,564.2 L362.1,564.1 L362.2,564.0 L362.6,563.7 L362.9,563.2 L363.1,562.9 L363.3,562.5 L363.6,561.9 L363.6,561.8 L364.0,561.1 L364.1,560.9 L364.4,560.6 L364.6,560.4 L364.7,560.4 L365.1,560.6 L365.1,560.7 L365.4,561.2 L365.6,561.6 L365.8,562.0 L366.1,562.7 L366.4,563.4 L366.6,563.6 L366.8,563.9 L367.1,564.2 L367.1,564.3 L367.5,564.5 L367.6,564.6 L367.9,564.7 L368.1,564.8 L368.2,564.8 L368.6,564.9 L368.6,564.9 L368.9,565.0 L369.1,565.0 L369.2,565.0 L369.6,565.0 L369.9,565.1 L370.1,565.1 L370.3,565.1 L370.6,565.1 L371.1,565.2 L371.6,565.2 L372.1,565.2 L372.6,565.3 L373.1,565.3 L373.6,565.3 L374.1,565.4 L374.6,565.4 L375.1,565.4 L375.6,565.4 L376.1,565.5 L376.6,565.5 L377.1,565.5 L377.6,565.5 L378.1,565.5 L378.6,565.5 L379.1,565.6 L379.6,565.6 L379.9,565.6 L380.1,565.6 L380.3,565.6 L380.6,565.6 L380.6,565.6 L381.0,565.6 L381.1,565.6 L381.4,565.6 L381.6,565.5 L381.7,565.5 L382.1,565.4 L382.1,565.4 L382.4,565.3 L382.6,565.2 L382.8,565.1 L383.1,564.8 L383.4,564.3 L383.6,564.1 L383.8,563.7 L384.1,563.2 L384.1,563.1 L384.5,562.4 L384.6,562.2 L384.9,561.9 L385.1,561.7 L385.2,561.7 L385.6,561.9 L385.6,562.0 L385.9,562.5 L386.1,562.9 L386.2,563.2 L386.6,563.9 L386.9,564.5 L387.1,564.7 L387.3,565.0 L387.6,565.3 L387.6,565.4 L388.0,565.6 L388.1,565.7 L388.4,565.8 L388.6,565.9 L388.7,565.9 L389.1,565.9 L389.1,566.0 L389.4,566.0 L389.6,566.0 L389.8,566.0 L390.1,566.1 L390.4,566.1 L390.6,566.1 L390.8,566.2 L391.1,566.2 L391.6,566.2 L392.1,566.3 L392.6,566.3 L393.1,566.3 L393.6,566.4 L394.1,566.4 L394.6,566.5 L395.1,566.5 L395.6,566.5 L396.1,566.6 L396.6,566.6 L397.1,566.6 L397.6,566.7 L398.1,566.7 L398.6,566.7 L399.1,566.8 L399.6,566.8 L400.1,566.9 L400.6,566.9 L401.1,566.9 L401.6,567.0 L402.1,567.0 L402.6,567.0 L403.1,567.1 L403.6,567.1 L404.1,567.2 L404.6,567.2 L405.1,567.2 L405.6,567.3 L406.1,567.3 L406.6,567.4 L407.1,567.4 L407.6,567.4 L408.1,567.5 L408.6,567.5 L409.1,567.6 L409.6,567.6 L410.1,567.6 L410.6,567.7 L411.1,567.7 L411.6,567.8 L412.1,567.8 L412.6,567.8 L413.1,567.9 L413.6,567.9 L414.1,568.0 L414.6,568.0 L415.1,568.1 L415.6,568.1 L416.1,568.1 L416.6,568.2 L417.1,568.2 L417.6,568.3 L418.1,568.3 L418.6,568.4 L419.1,568.4 L419.6,568.5 L420.1,568.5 L420.6,568.6 L421.1,568.6 L421.6,568.7 L422.1,568.7 L422.6,568.8 L423.1,568.8 L423.6,568.9 L424.1,568.9 L424.6,569.0 L425.1,569.0 L425.6,569.1 L426.1,569.1 L426.6,569.1 L427.1,569.2 L427.6,569.2 L428.1,569.3 L428.6,569.3 L429.1,569.4 L429.6,569.4 L430.1,569.5 L430.6,569.5 L431.1,569.6 L431.6,569.6 L432.1,569.7 L432.6,569.7 L433.1,569.8 L433.6,569.8 L434.1,569.9 L434.6,569.9 L435.1,569.9 L435.6,570.0 L436.1,570.0 L436.6,570.1 L437.1,570.1 L437.6,570.2 L438.1,570.2 L438.6,570.2 L439.1,570.3 L439.6,570.3 L440.1,570.3 L440.6,570.4 L441.1,570.4 L441.6,570.5 L442.1,570.5 L442.6,570.5 L443.1,570.6 L443.6,570.6 L444.1,570.6 L444.6,570.7 L445.1,570.7 L445.6,570.7 L446.1,570.8 L446.6,570.8 L447.1,570.8 L447.6,570.9 L448.1,570.9 L448.6,570.9 L449.1,570.9 L449.6,571.0 L450.1,571.0 L450.6,571.0 L451.1,571.0 L451.6,571.0 L452.1,570.9 L452.6,570.8 L453.1,570.7 L453.6,570.6 L454.1,570.4 L454.6,570.2 L455.1,569.9 L455.6,569.8 L456.1,569.6 L456.6,569.6 L457.1,569.7 L457.6,569.9 L458.1,570.1 L458.6,570.4 L459.1,570.7 L459.6,571.0 L460.1,571.2 L460.6,571.4 L461.1,571.5 L461.6,571.6 L462.1,571.7 L462.6,571.8 L463.1,571.8 L463.6,571.9 L464.1,571.9 L464.6,571.9 L465.1,572.0 L465.6,572.0 L466.1,572.1 L466.6,572.1 L467.1,572.1 L467.6,572.2 L468.1,572.2 L468.6,572.3 L469.1,572.3 L469.6,572.3 L470.1,572.4 L470.6,572.4 L471.1,572.5 L471.6,572.5 L472.1,572.5 L472.6,572.6 L473.1,572.6 L473.6,572.7 L474.1,572.7 L474.6,572.7 L475.1,572.8 L475.6,572.8 L476.1,572.9 L476.6,572.9 L477.1,572.9 L477.6,573.0 L478.1,573.0 L478.6,573.1 L479.1,573.1 L479.6,573.2 L480.1,573.2 L480.6,573.3 L481.1,573.3 L481.6,573.4 L482.1,573.5 L482.6,573.5 L483.1,573.6 L483.6,573.6 L484.1,573.7 L484.6,573.8 L485.1,573.8 L485.6,573.9 L486.1,573.9 L486.6,574.0 L487.1,574.0 L487.6,574.1 L488.1,574.1 L488.6,574.2 L489.1,574.2 L489.6,574.3 L490.1,574.3 L490.6,574.3 L491.1,574.4 L491.6,574.4 L492.1,574.4 L492.6,574.5 L493.1,574.5 L493.6,574.5 L494.1,574.6 L494.6,574.6 L495.1,574.6 L495.6,574.6 L496.1,574.7 L496.6,574.7 L497.1,574.7 L497.6,574.7 L498.1,574.8 L498.6,574.8 L499.1,574.8 L499.6,574.8 L500.1,574.9 L500.6,574.9 L501.1,574.9 L501.6,574.9 L502.1,574.9 L502.6,575.0 L503.0,575.0 L503.1,575.0 L503.5,575.0 L503.6,575.0 L504.0,575.0 L504.1,575.0 L504.5,575.0 L504.6,575.1 L505.0,575.1 L505.1,575.1 L505.5,575.1 L505.6,575.1 L506.0,575.1 L506.1,575.1 L506.5,575.1 L506.6,575.1 L507.0,575.1 L507.1,575.1 L507.5,575.2 L507.6,575.2 L508.0,575.2 L508.1,575.2 L508.5,575.2 L508.6,575.2 L509.0,575.1 L509.1,575.1 L509.5,575.1 L509.6,575.1 L510.0,575.1 L510.1,575.1 L510.5,575.0 L510.6,575.0 L511.0,574.9 L511.1,574.9 L511.5,574.9 L511.6,574.9 L512.0,574.8 L512.1,574.8 L512.5,574.8 L512.6,574.8 L513.0,574.8 L513.1,574.8 L513.5,574.9 L513.6,574.9 L514.0,575.0 L514.1,575.0 L514.5,575.1 L514.6,575.1 L515.0,575.2 L515.1,575.3 L515.5,575.4 L515.6,575.4 L516.0,575.5 L516.1,575.5 L516.5,575.6 L516.6,575.7 L517.0,575.7 L517.1,575.8 L517.5,575.8 L517.6,575.9 L518.0,575.9 L518.1,575.9 L518.5,576.0 L518.6,576.0 L519.0,576.0 L519.1,576.1 L519.5,576.1 L519.6,576.1 L520.0,576.2 L520.1,576.2 L520.5,576.2 L520.6,576.2 L521.0,576.3 L521.1,576.3 L521.5,576.3 L521.6,576.3 L522.0,576.4 L522.1,576.4 L522.5,576.4 L522.6,576.5 L523.1,576.5 L523.6,576.6 L524.1,576.6 L524.6,576.7 L525.1,576.7 L525.6,576.8 L526.1,576.9 L526.6,576.9 L527.1,577.0 L527.6,577.0 L528.1,577.1 L528.6,577.2 L529.1,577.2 L529.6,577.3 L530.1,577.3 L530.6,577.4 L531.1,577.5 L531.6,577.5 L532.1,577.6 L532.6,577.6 L533.1,577.7 L533.6,577.7 L534.1,577.8 L534.6,577.9 L535.1,577.9 L535.6,578.0 L536.1,578.0 L536.6,578.1 L537.1,578.1 L537.6,578.2 L538.1,578.3 L538.6,578.3 L539.1,578.4 L539.6,578.4 L540.1,578.5 L540.6,578.5 L541.1,578.6 L541.6,578.6 L542.1,578.7 L542.6,578.7 L543.0,578.7 L543.1,578.8 L543.5,578.8 L543.6,578.8 L544.0,578.8 L544.1,578.8 L544.5,578.9 L544.6,578.9 L545.0,578.9 L545.1,578.9 L545.5,579.0 L545.6,579.0 L546.0,579.0 L546.1,579.0 L546.5,579.0 L546.6,579.0 L547.0,579.1 L547.1,579.1 L547.5,579.1 L547.6,579.1 L548.0,579.1 L548.1,579.1 L548.5,579.1 L548.6,579.1 L549.0,579.1 L549.1,579.0 L549.5,579.0 L549.6,579.0 L550.0,578.9 L550.1,578.9 L550.5,578.9 L550.6,578.8 L551.0,578.8 L551.1,578.7 L551.5,578.6 L551.6,578.6 L552.0,578.6 L552.1,578.5 L552.5,578.5 L552.6,578.5 L553.0,578.5 L553.1,578.5 L553.5,578.6 L553.6,578.6 L554.0,578.7 L554.1,578.7 L554.5,578.9 L554.6,578.9 L555.0,579.0 L555.1,579.1 L555.5,579.2 L555.6,579.3 L556.0,579.4 L556.1,579.4 L556.5,579.5 L556.6,579.6 L557.0,579.6 L557.1,579.7 L557.5,579.7 L557.6,579.8 L558.0,579.8 L558.1,579.8 L558.5,579.9 L558.6,579.9 L559.0,579.9 L559.1,580.0 L559.5,580.0 L559.6,580.0 L560.0,580.0 L560.1,580.0 L560.5,580.1 L560.6,580.1 L561.0,580.1 L561.1,580.1 L561.5,580.2 L561.6,580.2 L562.0,580.2 L562.1,580.2 L562.5,580.2 L562.6,580.2 L563.1,580.3 L563.6,580.3 L564.1,580.3 L564.6,580.4 L565.1,580.4 L565.6,580.5 L566.1,580.5 L566.6,580.5 L567.1,580.6 L567.6,580.6 L568.1,580.6 L568.6,580.7 L569.1,580.7 L569.6,580.7 L570.1,580.8 L570.6,580.8 L571.1,580.8 L571.6,580.9 L572.1,580.9 L572.6,581.0 L573.1,581.0 L573.6,581.0 L574.1,581.1 L574.6,581.1 L575.1,581.1 L575.6,581.2 L576.1,581.2 L576.6,581.3 L577.1,581.3 L577.6,581.3 L578.1,581.4 L578.6,581.4 L579.1,581.4 L579.6,581.5 L580.1,581.5 L580.6,581.6 L581.1,581.6 L581.6,581.6 L582.0,581.7 L582.1,581.7 L582.5,581.7 L582.6,581.7 L583.0,581.7 L583.1,581.7 L583.5,581.8 L583.6,581.8 L584.0,581.8 L584.1,581.8 L584.5,581.8 L584.6,581.8 L585.0,581.9 L585.1,581.9 L585.5,581.9 L585.6,581.9 L586.0,581.9 L586.1,581.9 L586.5,582.0 L586.6,582.0 L587.0,582.0 L587.1,582.0 L587.5,582.0 L587.6,582.0 L588.0,582.0 L588.1,582.0 L588.5,582.0 L588.6,582.0 L589.0,582.0 L589.1,582.0 L589.5,581.9 L589.6,581.9 L590.0,581.9 L590.1,581.9 L590.5,581.8 L590.6,581.8 L591.0,581.8 L591.1,581.8 L591.5,581.8 L591.6,581.8 L592.0,581.8 L592.1,581.8 L592.5,581.9 L592.6,581.9 L593.0,582.0 L593.1,582.0 L593.5,582.1 L593.6,582.1 L594.0,582.2 L594.1,582.2 L594.5,582.3 L594.6,582.3 L595.0,582.4 L595.1,582.5 L595.5,582.5 L595.6,582.6 L596.0,582.6 L596.1,582.7 L596.5,582.7 L596.6,582.7 L597.0,582.8 L597.1,582.8 L597.5,582.8 L597.6,582.9 L598.0,582.9 L598.1,582.9 L598.5,582.9 L598.6,583.0 L599.0,583.0 L599.1,583.0 L599.5,583.0 L599.6,583.1 L600.0,583.1 L600.1,583.1 L600.5,583.1 L600.6,583.1 L601.0,583.2 L601.1,583.2 L601.5,583.2 L601.6,583.2 L602.1,583.3 L602.6,583.3 L603.1,583.4 L603.6,583.4 L604.1,583.5 L604.6,583.5 L605.1,583.6 L605.6,583.6 L606.1,583.7 L606.6,583.7 L607.1,583.8 L607.6,583.8 L608.1,583.9 L608.6,583.9 L609.1,584.0 L609.6,584.0 L610.1,584.1 L610.6,584.1 L611.1,584.2 L611.6,584.3 L612.1,584.3 L612.6,584.4 L613.1,584.4 L613.6,584.5 L614.1,584.5 L614.6,584.6 L615.1,584.6 L615.6,584.7 L616.1,584.7 L616.6,584.8 L617.1,584.9 L617.6,584.9 L618.1,585.0 L618.6,585.0 L619.1,585.1 L619.6,585.1 L620.1,585.2 L620.6,585.2 L621.1,585.3 L621.6,585.3 L622.1,585.4 L622.6,585.4 L623.1,585.5 L623.6,585.5 L624.1,585.6 L624.6,585.6 L625.1,585.7 L625.6,585.7 L626.1,585.8 L626.6,585.8 L627.1,585.9 L627.6,585.9 L628.1,585.9 L628.6,586.0 L629.1,586.0 L629.6,586.1 L630.1,586.1 L630.6,586.2 L631.1,586.2 L631.6,586.2 L632.1,586.3 L632.6,586.3 L633.1,586.4 L633.6,586.4 L634.1,586.5 L634.6,586.5 L635.1,586.5 L635.6,586.6 L636.1,586.6 L636.6,586.7 L637.1,586.7 L637.6,586.7 L638.1,586.8 L638.6,586.8 L639.1,586.9 L639.6,586.9 L640.1,586.9 L640.6,587.0 L641.1,587.0 L641.6,587.1 L642.1,587.1 L642.6,587.1 L643.1,587.2 L643.6,587.2 L644.1,587.2 L644.6,587.3 L645.1,587.3 L645.6,587.4 L646.1,587.4 L646.6,587.4 L647.1,587.5 L647.6,587.5 L648.1,587.5 L648.6,587.6 L649.1,587.6 L649.6,587.7 L650.1,587.7 L650.6,587.7 L651.1,587.8 L651.6,587.8 L652.1,587.8 L652.6,587.9 L653.1,587.9 L653.6,587.9 L654.1,588.0 L654.6,588.0 L655.1,588.0 L655.6,588.1 L656.1,588.1 L656.6,588.1 L657.1,588.2 L657.6,588.2 L658.1,588.2 L658.6,588.3 L659.1,588.3 L659.6,588.3 L660.1,588.4 L660.6,588.4 L661.1,588.4 L661.6,588.5 L662.1,588.5 L662.6,588.5 L663.1,588.5 L663.6,588.6 L664.1,588.6 L664.6,588.6 L665.1,588.7 L665.6,588.7 L666.1,588.7 L666.6,588.7 L667.1,588.8" fill="none" stroke="#ff0000" stroke-width="1.8" stroke-linejoin="round" clip-path="url(#cBot)"/>
<path d="M100.6,364.7 L101.1,379.5 L101.6,390.2 L102.1,400.0 L102.6,412.3 L103.1,425.4 L103.6,438.3 L104.1,451.0 L104.6,463.3 L105.1,475.2 L105.6,486.5 L106.1,497.6 L106.6,506.5 L107.1,513.4 L107.6,519.0 L108.1,523.8 L108.6,527.8 L109.1,530.9 L109.6,533.5 L110.1,535.8 L110.6,537.8 L111.1,539.5 L111.6,541.0 L112.1,542.3 L112.6,543.6 L113.1,544.8 L113.6,546.0 L114.1,547.3 L114.6,548.5 L115.1,549.8 L115.6,551.0 L116.1,552.1 L116.6,553.1 L117.1,554.0 L117.6,554.9 L118.1,555.8 L118.6,556.6 L119.1,557.3 L119.6,557.9 L120.1,558.6 L120.6,559.2 L121.1,559.7 L121.6,560.2 L122.1,560.7 L122.6,561.2 L123.1,561.6 L123.6,562.0 L124.1,562.4 L124.6,562.8 L125.1,563.1 L125.6,563.5 L126.1,563.8 L126.6,564.1 L127.1,564.4 L127.6,564.6 L128.1,564.9 L128.6,565.2 L129.1,565.4 L129.6,565.6 L130.1,565.8 L130.6,566.0 L131.1,566.2 L131.6,566.4 L132.1,566.6 L132.6,566.8 L133.1,567.0 L133.6,567.1 L134.1,567.3 L134.6,567.5 L135.1,567.7 L135.6,567.8 L136.1,568.0 L136.6,568.2 L137.1,568.4 L137.6,568.5 L138.1,568.7 L138.6,568.9 L139.1,569.0 L139.6,569.2 L140.1,569.3 L140.6,569.5 L141.1,569.6 L141.6,569.8 L142.1,569.9 L142.6,570.1 L143.1,570.2 L143.6,570.4 L144.1,570.5 L144.6,570.6 L145.1,570.8 L145.6,570.9 L146.1,571.1 L146.6,571.2 L147.1,571.3 L147.6,571.4 L148.1,571.6 L148.6,571.7 L149.1,571.8 L149.6,571.9 L150.1,572.0 L150.6,572.1 L151.1,572.2 L151.6,572.3 L152.1,572.4 L152.6,572.5 L153.1,572.6 L153.6,572.7 L154.1,572.8 L154.6,572.8 L155.1,572.9 L155.6,573.0 L156.1,573.1 L156.6,573.2 L157.1,573.2 L157.6,573.3 L158.1,573.4 L158.6,573.5 L159.1,573.6 L159.6,573.6 L160.1,573.7 L160.6,573.8 L161.1,573.8 L161.6,573.9 L162.1,574.0 L162.6,574.1 L163.1,574.1 L163.6,574.2 L164.1,574.3 L164.6,574.3 L165.1,574.4 L165.6,574.5 L166.1,574.5 L166.6,574.6 L167.1,574.7 L167.6,574.7 L168.1,574.8 L168.6,574.8 L169.1,574.9 L169.6,575.0 L170.1,575.0 L170.6,575.1 L171.1,575.2 L171.6,575.2 L172.1,575.3 L172.6,575.4 L173.1,575.4 L173.6,575.5 L174.1,575.6 L174.6,575.6 L175.1,575.7 L175.6,575.8 L176.1,575.8 L176.6,575.9 L177.1,576.0 L177.6,576.0 L178.1,576.1 L178.6,576.2 L179.1,576.2 L179.6,576.3 L180.1,576.4 L180.6,576.4 L181.1,576.5 L181.6,576.5 L182.1,576.6 L182.6,576.7 L183.1,576.7 L183.6,576.8 L184.1,576.9 L184.6,576.9 L185.1,577.0 L185.6,577.0 L186.1,577.1 L186.6,577.2 L187.1,577.2 L187.6,577.3 L188.1,577.3 L188.6,577.4 L189.1,577.5 L189.6,577.5 L190.1,577.6 L190.6,577.6 L191.1,577.7 L191.6,577.7 L192.1,577.8 L192.6,577.8 L193.1,577.9 L193.6,578.0 L194.1,578.0 L194.6,578.1 L195.1,578.1 L195.6,578.2 L196.1,578.2 L196.6,578.3 L197.1,578.3 L197.6,578.4 L198.1,578.4 L198.6,578.5 L199.1,578.5 L199.6,578.6 L200.1,578.6 L200.6,578.7 L201.1,578.7 L201.6,578.8 L202.1,578.8 L202.6,578.9 L203.1,578.9 L203.6,579.0 L204.1,579.0 L204.6,579.1 L205.1,579.1 L205.6,579.1 L206.1,579.2 L206.6,579.2 L207.1,579.3 L207.6,579.3 L208.1,579.4 L208.6,579.4 L209.1,579.5 L209.6,579.5 L210.1,579.5 L210.6,579.6 L211.1,579.6 L211.6,579.7 L212.1,579.7 L212.6,579.7 L213.1,579.8 L213.6,579.8 L214.1,579.9 L214.6,579.9 L215.1,579.9 L215.6,580.0 L216.1,580.0 L216.6,580.0 L217.1,580.1 L217.6,580.1 L218.1,580.1 L218.6,580.2 L219.1,580.2 L219.6,580.2 L220.1,580.2 L220.6,580.3 L221.1,580.3 L221.6,580.3 L222.1,580.3 L222.6,580.4 L223.1,580.4 L223.6,580.4 L224.1,580.4 L224.6,580.5 L225.1,580.5 L225.6,580.5 L226.1,580.5 L226.6,580.5 L227.1,580.6 L227.6,580.6 L228.1,580.6 L228.6,580.6 L229.1,580.7 L229.6,580.7 L230.1,580.7 L230.6,580.7 L231.1,580.8 L231.6,580.8 L232.1,580.8 L232.6,580.9 L233.1,580.9 L233.6,580.9 L234.1,581.0 L234.6,581.0 L235.1,581.0 L235.6,581.0 L236.1,581.1 L236.6,581.1 L237.1,581.1 L237.6,581.2 L238.1,581.2 L238.6,581.2 L239.1,581.2 L239.6,581.2 L240.1,581.3 L240.6,581.3 L241.1,581.3 L241.6,581.3 L242.1,581.3 L242.6,581.3 L243.1,581.3 L243.6,581.3 L244.1,581.3 L244.6,581.2 L245.1,581.1 L245.6,581.0 L246.1,580.9 L246.6,580.6 L247.1,580.3 L247.6,579.7 L248.1,578.6 L248.4,577.6 L248.5,577.1 L248.6,576.7 L248.7,576.4 L248.8,575.5 L248.9,574.4 L249.0,573.0 L249.1,571.8 L249.2,570.8 L249.3,567.5 L249.4,562.5 L249.5,554.7 L249.6,548.4 L249.7,543.4 L249.8,527.6 L249.9,507.3 L250.0,483.6 L250.1,468.8 L250.2,459.4 L250.3,440.1 L250.4,432.5 L250.5,440.1 L250.6,450.7 L250.7,459.4 L250.8,483.6 L250.9,507.4 L251.0,527.7 L251.1,537.7 L251.2,543.5 L251.3,554.9 L251.4,562.6 L251.5,567.7 L251.6,569.8 L251.7,571.0 L251.8,573.1 L251.9,574.7 L252.0,575.8 L252.1,576.3 L252.2,576.6 L252.3,577.3 L252.6,578.7 L253.1,579.9 L253.6,580.6 L254.1,581.1 L254.6,581.4 L255.1,581.7 L255.6,581.9 L256.1,582.0 L256.6,582.1 L257.1,582.2 L257.6,582.3 L258.1,582.4 L258.6,582.5 L259.1,582.6 L259.6,582.6 L260.1,582.7 L260.6,582.7 L261.1,582.8 L261.6,582.8 L262.1,582.9 L262.6,582.9 L263.1,583.0 L263.6,583.0 L264.1,583.1 L264.6,583.1 L265.1,583.1 L265.6,583.2 L266.1,583.2 L266.6,583.3 L267.1,583.3 L267.6,583.3 L268.1,583.4 L268.6,583.4 L269.1,583.4 L269.6,583.5 L270.1,583.5 L270.6,583.6 L271.1,583.6 L271.6,583.6 L272.1,583.7 L272.6,583.7 L273.1,583.7 L273.6,583.8 L274.1,583.8 L274.6,583.8 L275.1,583.9 L275.6,583.9 L276.1,584.0 L276.6,584.0 L277.1,584.0 L277.6,584.1 L278.1,584.1 L278.6,584.2 L279.1,584.2 L279.6,584.3 L280.1,584.3 L280.6,584.3 L281.1,584.3 L281.6,584.3 L282.1,584.3 L282.6,584.3 L283.1,584.3 L283.6,584.2 L284.1,584.2 L284.6,584.1 L285.1,583.9 L285.6,583.8 L286.1,583.6 L286.6,583.4 L287.1,583.1 L287.6,582.8 L288.1,582.4 L288.6,581.9 L289.1,581.2 L289.6,580.3 L290.1,579.1 L290.6,577.5 L291.1,575.2 L291.6,571.8 L292.1,566.5 L292.6,557.4 L293.1,540.2 L293.2,533.9 L293.3,527.2 L293.4,519.1 L293.5,509.4 L293.6,502.3 L293.6,497.4 L293.7,482.5 L293.9,463.8 L294.0,439.9 L294.1,408.8 L294.1,394.6 L294.2,367.9 L294.3,313.4 L294.4,240.3 L294.5,143.0 L294.6,19.0 L294.6,-0.7 L294.7,-122.8 L294.8,-247.9 L294.9,-300.0 L295.0,-247.9 L295.1,-136.2 L295.1,-122.8 L295.2,19.0 L295.3,143.0 L295.4,240.3 L295.5,313.5 L295.6,351.5 L295.6,368.0 L295.7,408.9 L295.8,440.0 L295.9,463.9 L296.1,482.6 L296.1,489.4 L296.2,497.5 L296.3,509.5 L296.4,519.3 L296.5,527.3 L296.6,534.0 L296.6,535.2 L297.1,555.0 L297.6,565.2 L298.1,571.2 L298.6,575.0 L299.1,577.5 L299.6,579.3 L300.1,580.6 L300.6,581.5 L301.1,582.3 L301.6,582.9 L302.1,583.4 L302.6,583.8 L303.1,584.1 L303.6,584.4 L304.1,584.7 L304.6,584.9 L305.1,585.1 L305.6,585.3 L306.1,585.4 L306.6,585.6 L307.1,585.7 L307.6,585.9 L308.1,586.0 L308.6,586.1 L309.1,586.2 L309.6,586.3 L310.1,586.4 L310.6,586.5 L311.1,586.6 L311.6,586.7 L312.1,586.8 L312.6,586.9 L313.1,587.0 L313.6,587.1 L314.1,587.2 L314.6,587.3 L315.1,587.3 L315.6,587.4 L316.1,587.5 L316.6,587.6 L317.1,587.7 L317.6,587.7 L318.1,587.8 L318.6,587.9 L319.1,587.9 L319.6,588.0 L320.1,588.1 L320.6,588.1 L321.1,588.2 L321.6,588.2 L322.1,588.3 L322.6,588.3 L323.1,588.4 L323.6,588.4 L324.1,588.5 L324.6,588.5 L325.1,588.6 L325.6,588.6 L326.1,588.7 L326.6,588.7 L327.1,588.8 L327.6,588.8 L328.1,588.9 L328.6,588.9 L329.1,589.0 L329.6,589.0 L330.1,589.1 L330.6,589.1 L331.1,589.2 L331.6,589.2 L332.1,589.2 L332.6,589.3 L333.1,589.3 L333.6,589.4 L334.1,589.4 L334.6,589.5 L335.1,589.5 L335.6,589.5 L336.1,589.6 L336.6,589.6 L337.1,589.7 L337.6,589.7 L338.1,589.8 L338.6,589.8 L339.1,589.8 L339.6,589.9 L340.1,589.9 L340.6,590.0 L341.1,590.0 L341.6,590.0 L342.1,590.1 L342.6,590.1 L343.1,590.2 L343.6,590.2 L344.1,590.2 L344.6,590.3 L345.1,590.3 L345.6,590.3 L346.1,590.4 L346.6,590.4 L347.1,590.5 L347.6,590.5 L348.1,590.5 L348.6,590.6 L349.1,590.6 L349.6,590.6 L350.1,590.7 L350.6,590.7 L351.1,590.7 L351.6,590.8 L352.1,590.8 L352.6,590.9 L353.1,590.9 L353.6,590.9 L354.1,591.0 L354.6,591.0 L355.1,591.0 L355.6,591.1 L356.1,591.1 L356.6,591.1 L357.1,591.2 L357.6,591.2 L358.1,591.2 L358.6,591.3 L359.1,591.3 L359.6,591.3 L360.1,591.3 L360.6,591.4 L361.1,591.4 L361.6,591.4 L362.1,591.4 L362.6,591.5 L363.1,591.5 L363.6,591.5 L364.1,591.5 L364.6,591.5 L365.1,591.5 L365.6,591.5 L366.1,591.5 L366.6,591.5 L367.1,591.4 L367.6,591.3 L368.1,591.2 L368.6,591.0 L369.1,590.6 L369.5,590.0 L369.6,589.9 L369.6,589.8 L369.8,589.5 L369.9,589.1 L370.0,588.7 L370.1,588.2 L370.1,588.0 L370.2,587.1 L370.4,585.7 L370.5,583.6 L370.6,581.1 L370.6,580.4 L370.8,575.6 L370.9,569.0 L371.0,560.5 L371.1,552.6 L371.1,550.5 L371.2,540.3 L371.4,532.0 L371.5,528.4 L371.6,529.8 L371.6,530.8 L371.8,537.7 L371.9,546.1 L372.0,554.0 L372.1,559.0 L372.1,560.1 L372.2,564.3 L372.4,567.3 L372.5,569.8 L372.6,572.0 L372.6,572.6 L372.8,575.7 L372.9,579.0 L373.0,581.9 L373.1,584.0 L373.1,584.4 L373.2,586.4 L373.4,587.8 L373.5,588.8 L373.6,589.4 L373.6,589.5 L373.8,590.0 L373.9,590.3 L374.0,590.5 L374.1,590.7 L374.1,590.7 L374.2,590.9 L374.4,591.0 L374.6,591.2 L375.1,591.6 L375.6,591.8 L376.1,591.9 L376.6,592.0 L377.1,592.1 L377.6,592.2 L378.1,592.3 L378.6,592.3 L379.1,592.4 L379.6,592.4 L380.1,592.4 L380.6,592.5 L381.1,592.5 L381.6,592.5 L382.1,592.6 L382.6,592.6 L383.1,592.6 L383.6,592.7 L384.1,592.7 L384.6,592.7 L385.1,592.7 L385.6,592.8 L386.1,592.8 L386.6,592.8 L387.1,592.8 L387.6,592.8 L388.1,592.8 L388.6,592.8 L389.1,592.8 L389.6,592.7 L390.1,592.7 L390.6,592.6 L391.1,592.4 L391.6,592.0 L391.8,591.8 L391.9,591.7 L392.1,591.5 L392.1,591.4 L392.2,591.2 L392.3,590.9 L392.4,590.4 L392.6,589.8 L392.6,589.4 L392.7,588.8 L392.8,587.3 L392.9,584.9 L393.1,581.5 L393.1,579.8 L393.2,576.7 L393.3,570.6 L393.4,563.4 L393.6,556.1 L393.6,553.5 L393.7,550.3 L393.8,548.0 L393.9,550.3 L394.1,556.1 L394.1,559.0 L394.2,563.4 L394.3,570.6 L394.4,576.8 L394.6,581.5 L394.6,583.1 L394.7,585.0 L394.8,587.3 L394.9,588.9 L395.1,589.9 L395.1,590.2 L395.2,590.5 L395.3,591.0 L395.4,591.3 L395.6,591.6 L395.6,591.7 L395.7,591.8 L396.1,592.2 L396.6,592.5 L397.1,592.7 L397.6,592.7 L398.1,592.5 L398.2,592.4 L398.4,592.3 L398.5,592.2 L398.6,592.0 L398.7,591.7 L398.9,591.4 L399.0,590.8 L399.1,589.9 L399.2,588.5 L399.4,586.4 L399.5,583.6 L399.6,579.9 L399.7,575.6 L399.9,571.2 L400.0,567.7 L400.1,566.3 L400.2,567.7 L400.4,571.2 L400.5,575.7 L400.6,580.0 L400.7,583.7 L400.9,586.6 L401.0,588.7 L401.1,590.1 L401.2,591.0 L401.4,591.6 L401.5,592.0 L401.6,592.3 L401.7,592.5 L401.9,592.7 L402.0,592.8 L402.1,592.9 L402.6,593.3 L403.1,593.4 L403.6,593.6 L404.1,593.7 L404.6,593.8 L405.1,593.8 L405.6,593.9 L406.1,593.9 L406.6,594.0 L407.1,594.0 L407.6,594.0 L408.1,594.1 L408.6,594.1 L409.1,594.1 L409.6,594.2 L410.1,594.2 L410.6,594.2 L411.1,594.2 L411.6,594.2 L412.1,594.2 L412.6,594.2 L413.1,594.2 L413.6,594.1 L414.1,594.0 L414.6,593.8 L415.0,593.5 L415.1,593.4 L415.1,593.4 L415.2,593.2 L415.4,593.0 L415.5,592.7 L415.6,592.4 L415.6,592.4 L415.8,591.8 L415.9,591.0 L416.0,589.8 L416.1,588.4 L416.1,587.9 L416.2,585.2 L416.4,581.3 L416.5,576.4 L416.6,571.8 L416.6,570.6 L416.8,564.7 L416.9,559.8 L417.0,557.6 L417.1,558.3 L417.1,558.8 L417.2,562.5 L417.4,567.0 L417.5,571.0 L417.6,573.4 L417.6,573.9 L417.8,575.7 L417.9,577.0 L418.0,578.2 L418.1,579.6 L418.1,580.0 L418.2,582.3 L418.4,584.8 L418.5,587.2 L418.6,588.8 L418.6,589.1 L418.8,590.7 L418.9,591.8 L419.0,592.6 L419.1,593.1 L419.1,593.2 L419.2,593.5 L419.4,593.7 L419.5,593.9 L419.6,594.0 L419.6,594.1 L419.8,594.2 L419.9,594.3 L420.1,594.4 L420.6,594.7 L421.1,594.8 L421.6,595.0 L422.1,595.1 L422.6,595.2 L423.1,595.2 L423.6,595.3 L424.1,595.4 L424.6,595.4 L425.1,595.5 L425.6,595.6 L426.1,595.6 L426.6,595.7 L427.1,595.7 L427.6,595.8 L428.1,595.8 L428.6,595.9 L429.1,596.0 L429.6,596.0 L430.1,596.1 L430.6,596.1 L431.1,596.2 L431.6,596.2 L432.1,596.3 L432.6,596.3 L433.1,596.4 L433.6,596.4 L434.1,596.5 L434.6,596.5 L435.1,596.6 L435.6,596.6 L436.1,596.6 L436.6,596.7 L437.1,596.7 L437.6,596.7 L438.1,596.7 L438.6,596.7 L439.1,596.7 L439.6,596.7 L440.1,596.6 L440.6,596.4 L440.7,596.3 L440.8,596.2 L440.9,596.1 L441.1,596.0 L441.1,596.0 L441.2,595.8 L441.3,595.6 L441.4,595.2 L441.6,594.7 L441.6,594.5 L441.7,593.8 L441.8,592.6 L441.9,590.7 L442.1,588.1 L442.1,587.5 L442.2,584.8 L442.3,580.8 L442.4,576.8 L442.6,573.5 L442.6,573.0 L442.7,571.9 L442.8,572.7 L442.9,575.1 L443.1,577.9 L443.1,578.5 L443.2,580.5 L443.3,582.2 L443.4,583.3 L443.6,584.0 L443.6,584.1 L443.7,584.8 L443.8,586.1 L443.9,587.8 L444.1,589.7 L444.1,590.0 L444.2,591.5 L444.3,593.0 L444.4,594.2 L444.6,595.1 L444.6,595.2 L444.7,595.7 L444.8,596.1 L444.9,596.4 L445.1,596.6 L445.1,596.6 L445.2,596.7 L445.3,596.8 L445.4,596.9 L445.6,597.0 L445.6,597.0 L446.1,597.2 L446.6,597.3 L447.1,597.4 L447.6,597.5 L448.1,597.6 L448.6,597.6 L449.1,597.7 L449.6,597.7 L450.1,597.8 L450.6,597.8 L451.1,597.9 L451.6,597.9 L452.1,597.9 L452.6,598.0 L453.1,598.0 L453.6,598.0 L454.1,598.1 L454.6,598.1 L455.1,598.1 L455.6,598.2 L456.1,598.2 L456.6,598.2 L457.1,598.3 L457.6,598.3 L458.1,598.3 L458.6,598.4 L459.1,598.4 L459.6,598.4 L460.1,598.5 L460.6,598.5 L461.1,598.5 L461.6,598.6 L462.1,598.6 L462.6,598.6 L463.1,598.7 L463.6,598.7 L464.1,598.7 L464.6,598.8 L465.1,598.8 L465.6,598.8 L466.1,598.8 L466.6,598.9 L467.1,598.9 L467.6,598.9 L468.1,598.9 L468.6,598.9 L469.1,599.0 L469.6,599.0 L470.1,599.0 L470.6,598.9 L471.1,598.9 L471.6,598.9 L472.1,598.8 L472.6,598.6 L473.1,598.4 L473.6,598.0 L474.1,597.3 L474.3,596.9 L474.4,596.5 L474.6,596.1 L474.6,595.9 L474.7,595.6 L474.8,595.0 L474.9,594.3 L474.9,594.1 L475.1,592.9 L475.1,592.2 L475.2,591.0 L475.2,590.5 L475.3,588.1 L475.4,586.6 L475.4,583.7 L475.5,580.2 L475.6,577.3 L475.6,574.1 L475.6,570.4 L475.7,568.4 L475.8,556.9 L475.9,543.4 L475.9,540.5 L476.1,529.3 L476.1,524.1 L476.2,517.6 L476.2,513.2 L476.3,511.8 L476.4,512.9 L476.4,513.8 L476.6,521.6 L476.6,525.5 L476.7,531.4 L476.7,533.3 L476.8,540.5 L476.9,543.5 L476.9,547.5 L477.0,550.6 L477.1,552.4 L477.1,553.9 L477.1,555.2 L477.2,555.9 L477.3,559.2 L477.4,563.0 L477.4,563.8 L477.6,567.6 L477.6,569.6 L477.7,572.6 L477.8,575.7 L477.8,577.7 L477.9,581.4 L477.9,582.3 L478.1,586.3 L478.1,587.8 L478.2,589.6 L478.2,590.2 L478.4,593.0 L478.5,594.9 L478.6,595.8 L478.6,596.2 L478.8,597.0 L478.9,597.6 L479.1,598.0 L479.2,598.3 L479.4,598.6 L479.6,598.8 L479.6,598.9 L480.1,599.4 L480.6,599.8 L481.1,600.1 L481.6,600.3 L482.1,600.5 L482.6,600.6 L483.1,600.8 L483.6,600.9 L484.1,601.1 L484.6,601.2 L485.1,601.3 L485.6,601.4 L486.1,601.5 L486.6,601.6 L487.1,601.7 L487.6,601.7 L488.1,601.8 L488.6,601.9 L489.1,601.9 L489.6,602.0 L490.1,602.0 L490.6,602.0 L491.1,602.1 L491.6,602.1 L492.1,602.1 L492.6,602.2 L493.1,602.2 L493.6,602.2 L494.1,602.2 L494.6,602.2 L495.1,602.3 L495.6,602.3 L496.1,602.3 L496.6,602.3 L497.1,602.3 L497.6,602.3 L498.1,602.4 L498.6,602.4 L499.1,602.4 L499.6,602.4 L500.1,602.4 L500.6,602.5 L501.1,602.5 L501.6,602.5 L502.1,602.5 L502.6,602.6 L503.1,602.6 L503.6,602.6 L504.1,602.6 L504.6,602.6 L505.1,602.7 L505.6,602.7 L506.1,602.7 L506.6,602.7 L507.1,602.7 L507.6,602.7 L508.1,602.7 L508.6,602.7 L509.1,602.7 L509.6,602.7 L510.1,602.6 L510.6,602.4 L510.7,602.4 L510.8,602.3 L510.9,602.2 L511.1,602.1 L511.1,602.1 L511.2,601.9 L511.3,601.7 L511.4,601.4 L511.6,600.8 L511.6,600.7 L511.7,599.9 L511.8,598.9 L511.8,598.5 L511.9,596.9 L511.9,596.4 L512.0,594.1 L512.1,593.4 L512.1,592.7 L512.2,590.4 L512.2,589.6 L512.3,586.2 L512.3,585.3 L512.4,581.7 L512.5,580.9 L512.5,578.1 L512.6,577.5 L512.6,577.0 L512.7,576.1 L512.7,576.0 L512.8,576.5 L512.8,576.8 L512.9,578.8 L513.0,579.5 L513.0,582.1 L513.1,582.7 L513.1,583.4 L513.2,585.2 L513.2,585.7 L513.3,587.4 L513.3,587.8 L513.4,588.7 L513.5,588.9 L513.5,589.2 L513.6,589.2 L513.6,589.2 L513.7,589.3 L513.7,589.3 L513.8,589.7 L513.8,589.9 L513.9,590.8 L514.0,591.1 L514.0,592.6 L514.1,593.0 L514.1,593.4 L514.2,594.6 L514.2,595.0 L514.3,596.6 L514.3,597.0 L514.4,598.0 L514.4,598.3 L514.5,598.6 L514.5,599.4 L514.5,599.7 L514.6,599.9 L514.6,600.1 L514.6,600.4 L514.7,600.6 L514.8,601.1 L514.8,601.2 L514.9,601.5 L514.9,601.6 L515.0,601.8 L515.0,601.8 L515.1,601.8 L515.1,601.9 L515.2,601.9 L515.3,601.8 L515.3,601.8 L515.4,601.6 L515.4,601.5 L515.5,601.2 L515.5,601.0 L515.6,600.8 L515.6,600.5 L515.7,600.3 L515.8,599.4 L515.9,598.1 L516.0,596.6 L516.1,595.6 L516.1,595.1 L516.3,593.9 L516.4,593.5 L516.5,594.0 L516.6,594.6 L516.6,595.2 L516.8,596.8 L516.9,598.4 L517.0,599.8 L517.1,600.5 L517.1,600.9 L517.3,601.7 L517.4,602.2 L517.5,602.5 L517.6,602.7 L517.6,602.7 L517.8,602.9 L517.9,603.0 L518.0,603.0 L518.1,603.1 L518.1,603.1 L518.3,603.1 L518.6,603.2 L519.1,603.3 L519.6,603.4 L520.1,603.5 L520.6,603.5 L521.1,603.6 L521.6,603.6 L522.1,603.6 L522.6,603.7 L523.1,603.7 L523.6,603.8 L524.1,603.8 L524.6,603.8 L525.1,603.9 L525.6,603.9 L526.1,603.9 L526.6,603.9 L526.8,603.9 L527.1,604.0 L527.4,604.0 L527.6,604.0 L527.7,604.0 L528.0,604.0 L528.1,604.0 L528.3,604.0 L528.6,604.0 L528.9,604.0 L529.1,603.9 L529.2,603.9 L529.5,603.8 L529.6,603.7 L529.8,603.6 L530.1,603.4 L530.4,603.1 L530.6,602.8 L530.7,602.7 L531.0,602.3 L531.1,602.2 L531.3,602.0 L531.6,601.9 L531.9,602.1 L532.1,602.3 L532.2,602.4 L532.5,602.8 L532.6,602.9 L532.8,603.2 L533.1,603.6 L533.4,603.8 L533.6,604.0 L533.7,604.0 L534.0,604.2 L534.1,604.2 L534.3,604.3 L534.6,604.4 L534.9,604.4 L535.1,604.4 L535.2,604.4 L535.5,604.5 L535.6,604.5 L535.8,604.5 L536.1,604.5 L536.6,604.6 L537.1,604.6 L537.6,604.6 L538.1,604.7 L538.6,604.7 L539.1,604.7 L539.6,604.7 L540.1,604.8 L540.6,604.8 L541.1,604.8 L541.6,604.8 L542.1,604.9 L542.6,604.9 L543.1,604.9 L543.6,604.9 L544.1,604.9 L544.6,604.9 L545.1,604.9 L545.6,604.9 L546.1,604.9 L546.6,604.9 L547.1,604.8 L547.6,604.7 L548.1,604.6 L548.6,604.5 L549.1,604.2 L549.6,603.7 L550.1,603.0 L550.2,602.7 L550.4,602.3 L550.5,601.9 L550.6,601.3 L550.7,600.5 L550.8,599.9 L550.9,599.4 L551.0,598.2 L551.0,597.8 L551.1,595.3 L551.2,591.4 L551.2,590.5 L551.4,585.8 L551.4,583.0 L551.5,578.0 L551.5,572.3 L551.6,568.0 L551.7,558.7 L551.7,556.2 L551.9,544.0 L552.0,534.0 L552.0,532.5 L552.1,529.3 L552.1,529.4 L552.2,531.5 L552.3,535.6 L552.4,538.9 L552.5,546.2 L552.5,548.1 L552.6,556.5 L552.7,562.8 L552.8,563.8 L552.9,567.0 L552.9,568.1 L553.0,569.4 L553.0,570.4 L553.1,571.0 L553.2,572.5 L553.2,573.0 L553.4,575.7 L553.5,579.4 L553.5,580.2 L553.6,583.5 L553.6,585.1 L553.7,587.6 L553.8,589.9 L553.9,591.4 L554.0,594.0 L554.0,594.6 L554.1,597.2 L554.2,599.5 L554.4,601.1 L554.5,602.2 L554.6,602.4 L554.7,602.9 L554.9,603.3 L555.0,603.7 L555.1,603.8 L555.1,603.9 L555.3,604.1 L555.5,604.3 L555.6,604.4 L556.1,604.7 L556.6,605.0 L557.1,605.1 L557.6,605.3 L558.1,605.4 L558.6,605.5 L559.1,605.5 L559.6,605.6 L560.1,605.6 L560.6,605.7 L561.1,605.7 L561.6,605.7 L562.1,605.8 L562.6,605.8 L563.1,605.8 L563.6,605.9 L564.1,605.9 L564.6,605.9 L565.1,605.9 L565.6,606.0 L566.1,606.0 L566.6,606.0 L567.1,606.0 L567.6,606.1 L568.1,606.1 L568.6,606.1 L569.1,606.1 L569.6,606.1 L570.1,606.2 L570.6,606.2 L571.1,606.2 L571.6,606.2 L572.1,606.3 L572.6,606.3 L573.1,606.3 L573.6,606.3 L574.1,606.4 L574.6,606.4 L575.1,606.4 L575.6,606.4 L576.1,606.4 L576.6,606.5 L577.1,606.5 L577.6,606.5 L578.1,606.5 L578.6,606.6 L579.1,606.6 L579.6,606.6 L580.1,606.6 L580.6,606.6 L581.1,606.6 L581.5,606.6 L581.6,606.6 L581.6,606.6 L581.8,606.5 L581.9,606.5 L582.0,606.5 L582.1,606.4 L582.1,606.4 L582.2,606.3 L582.4,606.2 L582.5,605.9 L582.6,605.6 L582.6,605.5 L582.8,604.9 L582.9,604.1 L583.0,603.0 L583.1,602.0 L583.1,601.8 L583.2,600.5 L583.4,599.5 L583.5,599.0 L583.6,599.1 L583.6,599.2 L583.8,599.8 L583.9,600.6 L584.0,601.2 L584.1,601.6 L584.1,601.6 L584.2,601.8 L584.4,601.9 L584.5,602.1 L584.6,602.5 L584.6,602.6 L584.8,603.3 L584.9,604.0 L585.0,604.7 L585.1,605.2 L585.1,605.4 L585.2,605.9 L585.4,606.2 L585.5,606.4 L585.6,606.6 L585.6,606.6 L585.8,606.7 L585.9,606.8 L586.0,606.8 L586.1,606.9 L586.1,606.9 L586.2,606.9 L586.4,606.9 L586.6,607.0 L587.1,607.1 L587.6,607.1 L588.1,607.2 L588.6,607.3 L589.1,607.3 L589.6,607.4 L590.1,607.4 L590.6,607.5 L591.1,607.5 L591.6,607.6 L592.1,607.6 L592.6,607.6 L593.1,607.7 L593.6,607.7 L594.1,607.8 L594.6,607.8 L594.8,607.8 L595.0,607.8 L595.1,607.8 L595.1,607.8 L595.3,607.8 L595.5,607.8 L595.6,607.8 L595.7,607.8 L595.9,607.8 L596.0,607.7 L596.1,607.7 L596.2,607.6 L596.4,607.5 L596.5,607.2 L596.6,607.1 L596.7,606.8 L596.9,606.2 L597.1,605.6 L597.1,605.6 L597.2,605.1 L597.4,604.6 L597.6,604.4 L597.8,604.6 L598.0,605.1 L598.1,605.7 L598.1,605.8 L598.3,606.4 L598.5,607.0 L598.6,607.3 L598.6,607.4 L598.8,607.7 L599.0,607.9 L599.1,608.0 L599.2,608.1 L599.4,608.2 L599.5,608.2 L599.6,608.3 L599.7,608.3 L599.9,608.3 L600.0,608.4 L600.1,608.4 L600.2,608.4 L600.6,608.4 L601.1,608.5 L601.6,608.6 L602.1,608.6 L602.6,608.7 L603.1,608.8 L603.6,608.8 L604.1,608.9 L604.6,608.9 L605.1,608.9 L605.6,609.0 L606.1,609.0 L606.6,609.1 L607.1,609.1 L607.6,609.1 L608.1,609.1 L608.6,609.1 L609.1,609.0 L609.6,608.9 L610.1,608.6 L610.2,608.5 L610.4,608.4 L610.5,608.2 L610.6,608.0 L610.7,607.7 L610.9,607.2 L611.0,606.4 L611.1,605.1 L611.2,603.0 L611.4,599.8 L611.5,595.4 L611.6,589.8 L611.7,583.3 L611.9,576.9 L612.0,572.0 L612.1,570.1 L612.2,572.0 L612.4,576.9 L612.5,583.2 L612.6,589.6 L612.7,595.2 L612.9,599.6 L613.0,602.7 L613.1,604.7 L613.2,605.9 L613.4,606.6 L613.4,606.8 L613.5,607.0 L613.5,607.1 L613.6,607.1 L613.6,607.2 L613.7,607.2 L613.8,607.2 L613.9,607.1 L613.9,607.0 L614.0,606.9 L614.0,606.8 L614.1,606.5 L614.1,606.3 L614.3,605.4 L614.4,604.0 L614.5,601.7 L614.6,599.7 L614.6,598.1 L614.8,593.2 L614.9,586.9 L615.0,581.1 L615.0,579.6 L615.1,575.2 L615.1,573.7 L615.1,572.4 L615.2,567.6 L615.3,566.7 L615.4,564.5 L615.4,564.4 L615.5,565.5 L615.5,566.2 L615.6,569.0 L615.6,570.1 L615.6,571.3 L615.8,576.4 L615.8,577.6 L615.9,582.6 L615.9,583.7 L616.0,587.3 L616.0,588.0 L616.1,589.4 L616.1,589.7 L616.1,589.8 L616.2,589.7 L616.2,589.2 L616.3,588.7 L616.3,587.5 L616.4,585.8 L616.4,584.8 L616.5,582.4 L616.5,579.8 L616.5,578.3 L616.6,575.2 L616.6,573.6 L616.6,572.0 L616.6,570.3 L616.7,567.1 L616.8,563.9 L616.8,562.4 L616.8,559.7 L616.9,557.5 L616.9,556.6 L617.0,555.4 L617.0,555.0 L617.0,555.0 L617.1,555.8 L617.1,556.4 L617.1,557.3 L617.1,558.2 L617.2,560.6 L617.2,563.3 L617.3,564.8 L617.3,567.8 L617.4,570.8 L617.5,575.2 L617.5,577.9 L617.6,581.4 L617.6,582.4 L617.6,583.3 L617.7,585.4 L617.8,586.4 L617.8,587.3 L617.9,587.6 L618.0,587.7 L618.0,587.7 L618.1,587.6 L618.1,587.6 L618.1,587.6 L618.2,588.1 L618.2,588.6 L618.3,589.8 L618.4,590.9 L618.5,592.7 L618.5,594.1 L618.6,596.2 L618.6,596.8 L618.6,597.5 L618.7,599.5 L618.8,600.8 L618.8,602.4 L618.9,603.4 L619.0,604.7 L619.1,606.4 L619.1,606.7 L619.2,607.5 L619.3,608.3 L619.5,608.8 L619.6,609.1 L619.6,609.2 L619.7,609.4 L619.8,609.5 L620.0,609.7 L620.1,609.8 L620.1,609.8 L620.6,610.2 L621.1,610.4 L621.6,610.6 L622.1,610.8 L622.6,610.9 L623.1,611.0 L623.6,611.1 L624.1,611.1 L624.6,611.2 L625.1,611.3 L625.6,611.3 L626.1,611.4 L626.6,611.4 L627.1,611.5 L627.6,611.5 L628.1,611.6 L628.6,611.6 L629.1,611.7 L629.6,611.7 L630.1,611.8 L630.6,611.8 L631.1,611.9 L631.6,611.9 L632.1,611.9 L632.6,612.0 L633.1,612.0 L633.6,612.0 L634.1,612.1 L634.6,612.1 L635.1,612.2 L635.6,612.2 L636.1,612.2 L636.6,612.3 L637.1,612.3 L637.6,612.3 L638.1,612.4 L638.6,612.4 L639.1,612.4 L639.6,612.5 L640.1,612.5 L640.6,612.6 L641.1,612.6 L641.6,612.6 L642.1,612.7 L642.6,612.7 L643.1,612.7 L643.6,612.8 L644.1,612.8 L644.6,612.9 L645.1,612.9 L645.6,612.9 L646.1,613.0 L646.6,613.0 L647.1,613.1 L647.6,613.1 L648.1,613.1 L648.6,613.2 L649.1,613.2 L649.6,613.3 L650.1,613.3 L650.6,613.3 L651.1,613.4 L651.6,613.4 L652.1,613.5 L652.6,613.5 L653.1,613.5 L653.6,613.5 L654.1,613.5 L654.4,613.5 L654.5,613.5 L654.6,613.5 L654.6,613.5 L654.8,613.4 L654.9,613.4 L655.0,613.3 L655.1,613.2 L655.1,613.2 L655.3,613.0 L655.4,612.6 L655.5,612.1 L655.6,611.7 L655.6,611.3 L655.8,610.2 L655.9,608.7 L656.0,607.0 L656.1,606.0 L656.1,605.3 L656.3,604.0 L656.4,603.3 L656.5,603.5 L656.6,603.9 L656.6,604.3 L656.8,605.2 L656.9,606.0 L657.0,606.4 L657.1,606.5 L657.1,606.6 L657.3,606.6 L657.4,606.9 L657.5,607.5 L657.6,608.1 L657.6,608.5 L657.8,609.7 L657.9,610.8 L658.0,611.7 L658.1,612.2 L658.1,612.4 L658.3,613.0 L658.4,613.4 L658.5,613.6 L658.6,613.7 L658.6,613.8 L658.8,613.9 L658.9,614.0 L659.0,614.0 L659.1,614.0 L659.1,614.1 L659.3,614.1 L659.6,614.2 L660.1,614.3 L660.6,614.4 L661.1,614.5 L661.6,614.6 L662.1,614.7 L662.6,614.8 L663.1,614.9 L663.6,614.9 L664.1,615.0 L664.6,615.1 L665.1,615.2 L665.6,615.2 L666.1,615.3 L666.6,615.4 L667.1,615.5 L667.6,615.6 L668.1,615.6" fill="none" stroke="#0000ff" stroke-width="1.8" stroke-linejoin="round" clip-path="url(#cBot)"/>
<path d="M100.6,391.8 L101.1,400.0 L101.6,415.3 L102.1,431.5 L102.6,447.0 L103.1,460.9 L103.6,473.2 L104.1,484.6 L104.6,495.8 L105.1,506.1 L105.6,515.4 L106.1,523.4 L106.6,530.5 L107.1,536.8 L107.6,542.8 L108.1,548.4 L108.6,553.1 L109.1,556.4 L109.6,559.3 L110.1,561.8 L110.6,563.9 L111.1,565.9 L111.6,567.6 L112.1,569.1 L112.6,570.5 L113.1,571.9 L113.6,573.2 L114.1,574.5 L114.6,575.8 L115.1,577.1 L115.6,578.3 L116.1,579.4 L116.6,580.4 L117.1,581.3 L117.6,582.2 L118.1,583.0 L118.6,583.8 L119.1,584.5 L119.6,585.1 L120.1,585.8 L120.6,586.3 L121.1,586.9 L121.6,587.4 L122.1,587.9 L122.6,588.3 L123.1,588.8 L123.6,589.2 L124.1,589.6 L124.6,589.9 L125.1,590.3 L125.6,590.6 L126.1,591.0 L126.6,591.3 L127.1,591.6 L127.6,591.8 L128.1,592.1 L128.6,592.4 L129.1,592.6 L129.6,592.8 L130.1,593.1 L130.6,593.3 L131.1,593.5 L131.6,593.7 L132.1,593.9 L132.6,594.0 L133.1,594.2 L133.6,594.4 L134.1,594.5 L134.6,594.7 L135.1,594.8 L135.6,595.0 L136.1,595.1 L136.6,595.2 L137.1,595.4 L137.6,595.5 L138.1,595.6 L138.6,595.8 L139.1,595.9 L139.6,596.0 L140.1,596.1 L140.6,596.2 L141.1,596.4 L141.6,596.5 L142.1,596.6 L142.6,596.7 L143.1,596.9 L143.6,597.0 L144.1,597.1 L144.6,597.3 L145.1,597.4 L145.6,597.5 L146.1,597.6 L146.6,597.8 L147.1,597.9 L147.6,598.0 L148.1,598.1 L148.6,598.3 L149.1,598.4 L149.6,598.5 L150.1,598.6 L150.6,598.7 L151.1,598.9 L151.6,599.0 L152.1,599.1 L152.6,599.2 L153.1,599.3 L153.6,599.4 L154.1,599.5 L154.6,599.7 L155.1,599.8 L155.6,599.9 L156.1,600.0 L156.6,600.1 L157.1,600.2 L157.6,600.3 L158.1,600.3 L158.6,600.4 L159.1,600.5 L159.6,600.6 L160.1,600.7 L160.6,600.8 L161.1,600.8 L161.6,600.9 L162.1,601.0 L162.6,601.0 L163.1,601.1 L163.6,601.2 L164.1,601.2 L164.6,601.3 L165.1,601.3 L165.6,601.4 L166.1,601.5 L166.6,601.5 L167.1,601.6 L167.6,601.6 L168.1,601.7 L168.6,601.7 L169.1,601.8 L169.6,601.8 L170.1,601.9 L170.6,601.9 L171.1,602.0 L171.6,602.0 L172.1,602.0 L172.6,602.1 L173.1,602.1 L173.6,602.2 L174.1,602.2 L174.6,602.3 L175.1,602.3 L175.6,602.4 L176.1,602.4 L176.6,602.4 L177.1,602.5 L177.6,602.5 L178.1,602.6 L178.6,602.6 L179.1,602.7 L179.6,602.7 L180.1,602.7 L180.6,602.8 L181.1,602.8 L181.6,602.9 L182.1,602.9 L182.6,603.0 L183.1,603.0 L183.6,603.1 L184.1,603.1 L184.6,603.2 L185.1,603.2 L185.6,603.3 L186.1,603.3 L186.6,603.4 L187.1,603.4 L187.6,603.5 L188.1,603.5 L188.6,603.6 L189.1,603.6 L189.6,603.7 L190.1,603.7 L190.6,603.8 L191.1,603.9 L191.6,603.9 L192.1,604.0 L192.6,604.0 L193.1,604.1 L193.6,604.1 L194.1,604.2 L194.6,604.2 L195.1,604.3 L195.6,604.3 L196.1,604.4 L196.6,604.4 L197.1,604.5 L197.6,604.5 L198.1,604.6 L198.6,604.6 L199.1,604.7 L199.6,604.7 L200.1,604.8 L200.6,604.9 L201.1,604.9 L201.6,605.0 L202.1,605.0 L202.6,605.1 L203.1,605.1 L203.6,605.2 L204.1,605.2 L204.6,605.3 L205.1,605.3 L205.6,605.4 L206.1,605.4 L206.6,605.5 L207.1,605.5 L207.6,605.6 L208.1,605.6 L208.6,605.7 L209.1,605.7 L209.6,605.8 L210.1,605.8 L210.6,605.9 L211.1,605.9 L211.6,606.0 L212.1,606.0 L212.6,606.1 L213.1,606.1 L213.6,606.2 L214.1,606.2 L214.6,606.3 L215.1,606.3 L215.6,606.4 L216.1,606.4 L216.6,606.5 L217.1,606.5 L217.6,606.6 L218.1,606.6 L218.6,606.7 L219.1,606.7 L219.6,606.8 L220.1,606.8 L220.6,606.9 L221.1,606.9 L221.6,607.0 L222.1,607.0 L222.6,607.1 L223.1,607.1 L223.6,607.2 L224.1,607.2 L224.6,607.3 L225.1,607.3 L225.6,607.4 L226.1,607.4 L226.6,607.5 L227.1,607.5 L227.6,607.5 L228.1,607.6 L228.6,607.6 L229.1,607.7 L229.6,607.7 L230.1,607.8 L230.6,607.8 L231.1,607.9 L231.6,607.9 L232.1,608.0 L232.6,608.0 L233.1,608.1 L233.6,608.1 L234.1,608.2 L234.6,608.2 L235.1,608.3 L235.6,608.3 L236.1,608.3 L236.6,608.4 L237.1,608.4 L237.6,608.5 L238.1,608.5 L238.6,608.6 L239.1,608.6 L239.6,608.7 L240.1,608.7 L240.6,608.7 L241.1,608.8 L241.6,608.8 L242.1,608.9 L242.6,608.9 L243.1,608.9 L243.6,609.0 L244.1,609.0 L244.6,609.1 L245.1,609.1 L245.6,609.1 L246.1,609.2 L246.6,609.2 L247.1,609.2 L247.6,609.3 L248.1,609.3 L248.6,609.3 L249.1,609.4 L249.6,609.4 L250.1,609.4 L250.6,609.4 L251.1,609.5 L251.6,609.5 L251.8,609.5 L252.0,609.5 L252.1,609.5 L252.2,609.5 L252.4,609.5 L252.6,609.5 L252.8,609.5 L253.0,609.4 L253.1,609.4 L253.2,609.4 L253.4,609.3 L253.6,609.1 L253.8,608.8 L254.0,608.4 L254.1,608.2 L254.2,608.0 L254.4,607.4 L254.6,606.9 L254.8,606.4 L255.0,606.3 L255.1,606.3 L255.2,606.5 L255.4,606.9 L255.6,607.5 L255.8,608.1 L256.0,608.6 L256.1,608.8 L256.2,609.0 L256.4,609.2 L256.6,609.4 L256.8,609.6 L257.0,609.7 L257.1,609.7 L257.2,609.7 L257.4,609.7 L257.6,609.8 L257.8,609.8 L258.0,609.8 L258.1,609.8 L258.6,609.9 L259.1,609.9 L259.6,610.0 L260.1,610.0 L260.6,610.0 L261.1,610.0 L261.6,610.1 L261.7,610.1 L261.9,610.1 L262.0,610.1 L262.1,610.1 L262.1,610.1 L262.3,610.1 L262.4,610.1 L262.6,610.1 L262.8,610.1 L262.9,610.0 L263.1,610.0 L263.1,609.9 L263.2,609.9 L263.4,609.7 L263.5,609.6 L263.6,609.4 L263.6,609.4 L263.8,609.2 L263.9,609.0 L264.1,609.0 L264.2,609.0 L264.4,609.2 L264.6,609.4 L264.6,609.5 L264.7,609.6 L264.9,609.8 L265.0,610.0 L265.1,610.1 L265.1,610.1 L265.3,610.2 L265.4,610.2 L265.6,610.2 L265.8,610.3 L265.9,610.3 L266.1,610.3 L266.1,610.3 L266.2,610.3 L266.4,610.3 L266.6,610.4 L267.1,610.4 L267.6,610.4 L268.1,610.4 L268.6,610.5 L269.1,610.5 L269.6,610.5 L270.1,610.5 L270.6,610.5 L271.1,610.5 L271.6,610.5 L271.8,610.5 L272.0,610.4 L272.1,610.4 L272.1,610.4 L272.3,610.3 L272.5,610.3 L272.6,610.2 L272.7,610.2 L272.9,610.0 L273.0,609.7 L273.1,609.5 L273.2,609.2 L273.4,608.4 L273.6,607.2 L273.6,606.8 L273.7,605.5 L273.9,603.3 L274.1,600.9 L274.1,600.5 L274.2,598.4 L274.4,596.5 L274.6,595.8 L274.8,596.5 L274.9,598.5 L275.1,600.6 L275.1,600.9 L275.3,603.5 L275.5,605.7 L275.6,606.9 L275.6,607.4 L275.8,608.6 L276.0,609.4 L276.1,609.8 L276.2,610.0 L276.4,610.3 L276.5,610.5 L276.6,610.6 L276.7,610.6 L276.9,610.7 L277.1,610.8 L277.1,610.8 L277.2,610.9 L277.4,610.9 L277.6,611.0 L278.1,611.1 L278.6,611.2 L279.1,611.3 L279.6,611.4 L280.1,611.4 L280.6,611.5 L281.1,611.5 L281.6,611.6 L282.1,611.7 L282.6,611.7 L283.1,611.8 L283.6,611.8 L284.1,611.9 L284.6,611.9 L285.1,612.0 L285.6,612.0 L286.1,612.1 L286.6,612.2 L287.1,612.2 L287.6,612.3 L288.1,612.3 L288.6,612.4 L289.1,612.4 L289.6,612.5 L290.1,612.5 L290.6,612.6 L291.1,612.6 L291.6,612.7 L292.1,612.7 L292.6,612.8 L293.1,612.8 L293.6,612.8 L294.1,612.9 L294.6,612.9 L295.1,613.0 L295.6,613.0 L296.1,613.1 L296.6,613.1 L297.1,613.1 L297.6,613.2 L298.1,613.2 L298.6,613.2 L299.1,613.2 L299.6,613.2 L300.1,613.2 L300.6,613.2 L300.7,613.2 L300.9,613.2 L301.1,613.2 L301.1,613.2 L301.2,613.1 L301.4,613.1 L301.6,613.0 L301.6,613.0 L301.8,612.8 L301.9,612.6 L302.1,612.2 L302.3,611.5 L302.4,610.5 L302.6,609.4 L302.6,609.2 L302.8,607.4 L303.0,605.3 L303.1,603.9 L303.1,603.3 L303.3,601.8 L303.5,601.2 L303.6,601.4 L303.7,601.8 L303.9,603.4 L304.0,605.4 L304.1,606.3 L304.2,607.5 L304.4,609.3 L304.6,610.7 L304.6,611.0 L304.7,611.7 L304.9,612.4 L305.1,612.8 L305.1,612.9 L305.2,613.1 L305.4,613.3 L305.6,613.4 L305.8,613.5 L305.9,613.5 L306.1,613.6 L306.1,613.6 L306.3,613.6 L306.6,613.7 L307.1,613.8 L307.6,613.8 L308.1,613.9 L308.6,613.9 L309.1,614.0 L309.6,614.0 L310.1,614.1 L310.6,614.1 L311.1,614.1 L311.6,614.2 L312.1,614.2 L312.6,614.2 L313.1,614.3 L313.2,614.3 L313.4,614.3 L313.5,614.3 L313.6,614.3 L313.6,614.3 L313.8,614.3 L313.9,614.2 L314.1,614.2 L314.2,614.2 L314.4,614.1 L314.6,614.0 L314.6,613.9 L314.7,613.8 L314.9,613.5 L315.0,613.2 L315.1,612.9 L315.1,612.8 L315.3,612.4 L315.4,612.1 L315.6,612.0 L315.8,612.1 L315.9,612.5 L316.1,612.9 L316.1,613.0 L316.2,613.3 L316.4,613.6 L316.4,613.7 L316.5,613.9 L316.6,614.0 L316.6,614.0 L316.6,614.1 L316.7,614.1 L316.8,614.2 L316.9,614.2 L316.9,614.3 L317.0,614.3 L317.1,614.3 L317.1,614.3 L317.2,614.3 L317.3,614.3 L317.4,614.3 L317.4,614.3 L317.6,614.3 L317.6,614.3 L317.7,614.2 L317.8,614.1 L317.9,614.0 L317.9,614.0 L318.1,613.7 L318.1,613.6 L318.2,613.4 L318.4,613.0 L318.5,612.7 L318.6,612.5 L318.6,612.4 L318.8,612.3 L318.9,612.4 L319.1,612.7 L319.2,613.1 L319.4,613.5 L319.6,613.8 L319.6,613.9 L319.7,614.1 L319.9,614.3 L320.0,614.4 L320.1,614.4 L320.1,614.5 L320.3,614.5 L320.4,614.5 L320.6,614.6 L320.8,614.6 L320.9,614.6 L321.1,614.6 L321.1,614.6 L321.2,614.6 L321.4,614.5 L321.6,614.5 L321.6,614.5 L321.7,614.5 L321.9,614.4 L322.1,614.3 L322.1,614.3 L322.2,614.2 L322.4,614.0 L322.6,613.6 L322.8,612.9 L322.9,611.9 L323.1,610.8 L323.1,610.5 L323.3,608.8 L323.5,606.7 L323.6,605.3 L323.6,604.7 L323.8,603.2 L324.0,602.6 L324.1,602.8 L324.2,603.2 L324.4,604.8 L324.5,606.8 L324.6,607.7 L324.7,608.8 L324.9,610.6 L325.1,612.1 L325.1,612.4 L325.2,613.1 L325.4,613.7 L325.6,614.2 L325.6,614.2 L325.8,614.4 L325.9,614.6 L326.1,614.7 L326.3,614.8 L326.4,614.9 L326.6,614.9 L326.6,614.9 L326.8,614.9 L327.1,615.0 L327.6,615.1 L328.1,615.2 L328.6,615.2 L329.1,615.3 L329.6,615.3 L330.1,615.3 L330.6,615.4 L331.1,615.4 L331.6,615.4 L332.1,615.5 L332.6,615.5 L333.1,615.5 L333.6,615.6 L334.1,615.6 L334.6,615.6 L335.1,615.7 L335.6,615.7 L336.1,615.7 L336.6,615.8 L337.1,615.8 L337.6,615.8 L338.1,615.8 L338.6,615.9 L339.1,615.9 L339.6,615.9 L340.1,616.0 L340.6,616.0 L341.1,616.0 L341.6,616.1 L342.1,616.1 L342.6,616.1 L343.1,616.2 L343.6,616.2 L344.1,616.2 L344.6,616.3 L345.1,616.3 L345.6,616.3 L346.1,616.4 L346.6,616.4 L347.1,616.4 L347.6,616.5 L348.1,616.5 L348.6,616.6 L349.1,616.6 L349.6,616.6 L350.1,616.7 L350.6,616.7 L351.1,616.8 L351.6,616.8 L352.1,616.8 L352.6,616.9 L353.1,616.9 L353.6,617.0 L354.1,617.0 L354.6,617.1 L355.1,617.1 L355.6,617.1 L356.1,617.2 L356.6,617.2 L357.1,617.3 L357.6,617.3 L358.1,617.4 L358.6,617.4 L359.1,617.5 L359.6,617.5 L360.1,617.6 L360.6,617.6 L361.1,617.6 L361.6,617.7 L362.1,617.7 L362.6,617.8 L363.1,617.8 L363.6,617.9 L364.1,617.9 L364.2,617.9 L364.4,617.9 L364.6,617.9 L364.6,617.9 L364.7,617.9 L364.9,617.9 L365.1,617.9 L365.1,617.9 L365.2,617.9 L365.4,617.9 L365.6,617.8 L365.8,617.7 L365.9,617.5 L366.1,617.3 L366.1,617.3 L366.3,617.0 L366.5,616.6 L366.6,616.4 L366.6,616.3 L366.8,616.0 L367.0,615.9 L367.1,615.9 L367.2,616.0 L367.4,616.3 L367.5,616.7 L367.6,616.9 L367.7,617.1 L367.9,617.5 L368.1,617.7 L368.1,617.8 L368.2,618.0 L368.4,618.1 L368.6,618.2 L368.6,618.2 L368.8,618.3 L368.9,618.3 L369.1,618.3 L369.3,618.4 L369.4,618.4 L369.6,618.4 L369.6,618.4 L369.8,618.4 L370.1,618.5 L370.6,618.5 L371.1,618.6 L371.6,618.6 L372.1,618.7 L372.6,618.7 L373.1,618.8 L373.6,618.8 L374.1,618.9 L374.6,618.9 L375.1,619.0 L375.6,619.0 L376.1,619.1 L376.6,619.1 L377.1,619.1 L377.6,619.2 L378.1,619.2 L378.6,619.3 L379.1,619.3 L379.6,619.3 L380.1,619.4 L380.6,619.4 L380.7,619.4 L380.9,619.4 L381.1,619.4 L381.1,619.4 L381.2,619.4 L381.4,619.4 L381.6,619.4 L381.6,619.4 L381.8,619.4 L381.9,619.3 L382.1,619.2 L382.3,619.0 L382.4,618.8 L382.6,618.5 L382.6,618.4 L382.8,617.9 L383.0,617.4 L383.1,617.0 L383.1,616.9 L383.3,616.4 L383.5,616.3 L383.6,616.4 L383.7,616.5 L383.9,616.9 L384.0,617.5 L384.1,617.7 L384.2,618.0 L384.4,618.6 L384.6,618.9 L384.6,619.0 L384.7,619.2 L384.9,619.4 L385.1,619.6 L385.1,619.6 L385.2,619.6 L385.4,619.7 L385.6,619.7 L385.8,619.8 L385.9,619.8 L386.1,619.8 L386.1,619.8 L386.3,619.8 L386.6,619.9 L387.1,619.9 L387.6,620.0 L388.1,620.0 L388.6,620.1 L389.1,620.1 L389.6,620.2 L390.1,620.2 L390.6,620.2 L391.1,620.3 L391.6,620.3 L392.1,620.4 L392.6,620.4 L393.1,620.4 L393.6,620.5 L394.1,620.5 L394.6,620.5 L395.1,620.6 L395.4,620.6 L395.6,620.6 L395.6,620.6 L395.7,620.6 L395.9,620.6 L396.0,620.6 L396.1,620.6 L396.1,620.6 L396.3,620.6 L396.4,620.6 L396.6,620.5 L396.8,620.4 L396.9,620.3 L397.1,620.1 L397.1,620.0 L397.2,619.9 L397.4,619.6 L397.5,619.3 L397.6,619.1 L397.6,619.1 L397.8,619.0 L397.9,619.1 L398.1,619.3 L398.2,619.6 L398.4,619.9 L398.6,620.2 L398.6,620.3 L398.7,620.4 L398.9,620.6 L399.0,620.7 L399.1,620.7 L399.1,620.8 L399.3,620.8 L399.4,620.9 L399.6,620.9 L399.8,620.9 L399.9,620.9 L400.1,620.9 L400.1,620.9 L400.6,621.0 L401.1,621.0 L401.6,621.1 L402.1,621.1 L402.6,621.1 L403.1,621.2 L403.6,621.2 L404.1,621.2 L404.6,621.3 L405.1,621.3 L405.6,621.3 L406.1,621.3 L406.3,621.3 L406.4,621.3 L406.6,621.3 L406.6,621.3 L406.8,621.3 L407.0,621.3 L407.1,621.3 L407.1,621.3 L407.3,621.2 L407.5,621.1 L407.6,620.9 L407.7,620.8 L407.9,620.5 L408.0,620.0 L408.1,619.8 L408.2,619.5 L408.4,618.8 L408.6,618.1 L408.6,617.9 L408.7,617.6 L408.9,617.4 L409.1,617.6 L409.1,617.7 L409.2,618.1 L409.4,618.8 L409.6,619.5 L409.8,620.2 L409.9,620.7 L410.1,621.0 L410.1,621.0 L410.3,621.2 L410.5,621.4 L410.6,621.5 L410.6,621.5 L410.8,621.6 L411.0,621.6 L411.1,621.6 L411.2,621.6 L411.4,621.7 L411.5,621.7 L411.6,621.7 L411.7,621.7 L412.1,621.8 L412.6,621.8 L413.1,621.9 L413.6,621.9 L414.1,621.9 L414.6,622.0 L415.1,622.0 L415.6,622.0 L416.1,622.1 L416.6,622.1 L417.1,622.1 L417.6,622.1 L417.9,622.1 L418.1,622.1 L418.1,622.1 L418.2,622.1 L418.4,622.1 L418.6,622.1 L418.8,622.1 L418.9,622.0 L419.1,621.9 L419.1,621.9 L419.3,621.8 L419.5,621.5 L419.6,621.2 L419.6,621.1 L419.8,620.6 L420.0,619.8 L420.1,619.4 L420.2,619.0 L420.4,618.2 L420.5,617.6 L420.6,617.4 L420.7,617.4 L420.9,617.6 L421.1,618.3 L421.1,618.5 L421.2,619.1 L421.4,619.9 L421.6,620.7 L421.6,620.8 L421.8,621.2 L421.9,621.7 L422.1,621.9 L422.3,622.1 L422.4,622.2 L422.6,622.3 L422.6,622.3 L422.8,622.4 L423.0,622.4 L423.1,622.4 L423.1,622.4 L423.3,622.4 L423.5,622.5 L423.6,622.5 L424.1,622.5 L424.6,622.5 L424.7,622.5 L424.9,622.5 L425.1,622.5 L425.1,622.5 L425.2,622.5 L425.4,622.4 L425.6,622.4 L425.6,622.4 L425.8,622.3 L425.9,622.2 L426.1,621.9 L426.3,621.5 L426.4,620.8 L426.6,620.1 L426.6,619.9 L426.8,618.7 L427.0,617.4 L427.1,616.4 L427.1,616.1 L427.3,615.1 L427.5,614.7 L427.6,614.8 L427.7,615.1 L427.9,616.1 L428.0,617.5 L428.1,618.1 L428.2,618.9 L428.4,620.1 L428.6,621.0 L428.6,621.2 L428.7,621.7 L428.9,622.1 L429.1,622.4 L429.1,622.4 L429.2,622.6 L429.4,622.7 L429.6,622.8 L429.8,622.9 L429.9,622.9 L430.1,622.9 L430.1,622.9 L430.3,623.0 L430.6,623.0 L431.1,623.1 L431.6,623.2 L432.1,623.2 L432.6,623.3 L433.1,623.3 L433.6,623.4 L434.1,623.4 L434.6,623.5 L435.1,623.5 L435.6,623.6 L436.1,623.6 L436.6,623.6 L437.1,623.7 L437.6,623.7 L438.1,623.8 L438.6,623.8 L438.8,623.8 L438.9,623.8 L439.1,623.8 L439.2,623.8 L439.4,623.8 L439.6,623.8 L439.6,623.8 L439.7,623.8 L439.9,623.8 L440.0,623.7 L440.1,623.7 L440.1,623.6 L440.3,623.4 L440.4,623.2 L440.6,622.9 L440.8,622.5 L440.9,622.2 L441.1,621.9 L441.1,621.8 L441.2,621.8 L441.4,621.9 L441.5,622.2 L441.6,622.5 L441.6,622.6 L441.8,623.0 L441.9,623.3 L442.1,623.6 L442.2,623.8 L442.4,623.9 L442.6,624.0 L442.6,624.1 L442.7,624.1 L442.9,624.1 L443.0,624.2 L443.1,624.2 L443.1,624.2 L443.3,624.2 L443.4,624.2 L443.6,624.3 L444.1,624.3 L444.6,624.4 L445.1,624.4 L445.6,624.5 L446.1,624.5 L446.6,624.6 L447.1,624.6 L447.6,624.7 L448.1,624.7 L448.6,624.8 L449.1,624.8 L449.6,624.8 L450.1,624.9 L450.6,624.9 L451.1,625.0 L451.6,625.0 L452.1,625.1 L452.6,625.1 L453.1,625.2 L453.6,625.2 L454.1,625.3 L454.6,625.3 L455.1,625.3 L455.6,625.4 L456.1,625.4 L456.6,625.5 L457.1,625.5 L457.6,625.6 L458.1,625.6 L458.6,625.7 L459.1,625.7 L459.6,625.7 L460.1,625.8 L460.6,625.8 L461.1,625.9 L461.6,625.9 L462.1,626.0 L462.6,626.0 L463.1,626.0 L463.6,626.1 L463.9,626.1 L464.1,626.1 L464.1,626.1 L464.2,626.1 L464.4,626.1 L464.6,626.1 L464.8,626.1 L464.9,626.1 L465.1,626.1 L465.1,626.1 L465.3,626.0 L465.5,625.9 L465.6,625.8 L465.6,625.7 L465.8,625.5 L466.0,625.2 L466.1,625.0 L466.2,624.8 L466.4,624.5 L466.5,624.2 L466.6,624.1 L466.7,624.1 L466.9,624.2 L467.1,624.5 L467.1,624.6 L467.2,624.9 L467.4,625.3 L467.6,625.6 L467.6,625.7 L467.8,625.9 L467.9,626.1 L468.1,626.2 L468.3,626.3 L468.4,626.4 L468.6,626.4 L468.6,626.4 L468.8,626.5 L469.0,626.5 L469.1,626.5 L469.1,626.5 L469.3,626.5 L469.5,626.6 L469.6,626.6 L470.1,626.6 L470.6,626.7 L471.1,626.7 L471.3,626.7 L471.4,626.7 L471.6,626.7 L471.6,626.7 L471.8,626.7 L472.0,626.7 L472.1,626.7 L472.1,626.7 L472.3,626.7 L472.5,626.6 L472.6,626.6 L472.7,626.6 L472.9,626.4 L473.0,626.2 L473.1,626.1 L473.2,625.9 L473.4,625.6 L473.6,625.2 L473.6,625.1 L473.7,625.0 L473.9,624.9 L474.1,625.0 L474.1,625.0 L474.2,625.3 L474.4,625.6 L474.6,626.0 L474.8,626.3 L474.9,626.6 L475.1,626.7 L475.1,626.8 L475.3,626.9 L475.5,627.0 L475.6,627.0 L475.6,627.0 L475.8,627.1 L476.0,627.1 L476.1,627.1 L476.2,627.1 L476.4,627.2 L476.5,627.2 L476.6,627.2 L476.7,627.2 L477.1,627.2 L477.6,627.3 L478.1,627.3 L478.6,627.4 L479.1,627.4 L479.6,627.5 L480.1,627.5 L480.6,627.5 L481.1,627.6 L481.6,627.6 L482.1,627.6 L482.6,627.7 L483.1,627.7 L483.6,627.8 L484.1,627.8 L484.6,627.8 L485.1,627.9 L485.6,627.9 L486.1,627.9 L486.6,628.0 L487.1,628.0 L487.6,628.0 L488.1,628.1 L488.6,628.1 L489.1,628.1 L489.6,628.2 L490.1,628.2 L490.6,628.2 L491.1,628.3 L491.6,628.3 L492.1,628.3 L492.6,628.3 L493.1,628.4 L493.6,628.4 L494.1,628.4 L494.6,628.5 L495.1,628.5 L495.6,628.5 L496.1,628.6 L496.6,628.6 L497.1,628.6 L497.6,628.7 L498.1,628.7 L498.6,628.7 L499.1,628.7 L499.6,628.8 L500.1,628.8 L500.6,628.8 L501.1,628.9 L501.6,628.9 L502.1,628.9 L502.6,629.0 L503.1,629.0 L503.6,629.0 L504.1,629.0 L504.6,629.1 L505.1,629.1 L505.6,629.1 L506.1,629.2 L506.6,629.2 L507.1,629.2 L507.6,629.2 L508.1,629.3 L508.6,629.3 L508.7,629.3 L508.9,629.3 L509.1,629.3 L509.1,629.3 L509.2,629.3 L509.4,629.3 L509.6,629.3 L509.6,629.3 L509.8,629.2 L509.9,629.2 L510.1,629.1 L510.3,628.9 L510.4,628.6 L510.6,628.3 L510.6,628.3 L510.8,627.8 L511.0,627.2 L511.1,626.8 L511.1,626.7 L511.3,626.3 L511.5,626.1 L511.6,626.2 L511.7,626.3 L511.9,626.7 L512.0,627.3 L512.1,627.5 L512.2,627.9 L512.4,628.4 L512.5,628.8 L512.6,628.9 L512.7,629.1 L512.9,629.3 L513.1,629.4 L513.1,629.4 L513.2,629.5 L513.4,629.5 L513.6,629.6 L513.8,629.6 L514.0,629.6 L514.1,629.6 L514.1,629.6 L514.6,629.7 L515.1,629.7 L515.6,629.8 L516.1,629.8 L516.6,629.9 L517.1,629.9 L517.6,630.0 L518.1,630.0 L518.6,630.0 L519.1,630.1 L519.6,630.1 L520.1,630.2 L520.6,630.2 L521.1,630.2 L521.6,630.3 L522.1,630.3 L522.6,630.4 L523.1,630.4 L523.6,630.4 L523.9,630.5 L524.1,630.5 L524.1,630.5 L524.2,630.5 L524.4,630.5 L524.6,630.5 L524.8,630.5 L525.0,630.5 L525.1,630.5 L525.1,630.5 L525.3,630.5 L525.5,630.5 L525.6,630.4 L525.6,630.4 L525.8,630.3 L526.0,630.2 L526.1,630.2 L526.2,630.1 L526.4,630.0 L526.5,629.9 L526.6,629.9 L526.7,629.9 L526.9,629.9 L527.0,630.1 L527.1,630.1 L527.2,630.2 L527.4,630.4 L527.6,630.5 L527.6,630.5 L527.8,630.6 L527.9,630.7 L528.1,630.7 L528.3,630.8 L528.5,630.8 L528.6,630.8 L528.6,630.8 L528.8,630.8 L529.0,630.9 L529.1,630.9 L529.1,630.9 L529.3,630.9 L529.6,630.9 L530.1,631.0 L530.6,631.0 L531.1,631.1 L531.6,631.1 L532.1,631.2 L532.6,631.2 L533.1,631.2 L533.6,631.3 L534.1,631.3 L534.6,631.4 L535.1,631.4 L535.6,631.5 L536.1,631.5 L536.6,631.6 L537.1,631.6 L537.6,631.6 L538.1,631.7 L538.6,631.7 L539.1,631.8 L539.6,631.8 L540.1,631.9 L540.6,631.9 L541.1,632.0 L541.6,632.0 L542.1,632.1 L542.6,632.1 L543.1,632.2 L543.6,632.2 L544.1,632.3 L544.6,632.3 L545.1,632.4 L545.6,632.4 L546.1,632.5 L546.6,632.5 L547.1,632.6 L547.6,632.6 L548.1,632.7 L548.6,632.7 L549.1,632.8 L549.6,632.8 L550.1,632.9 L550.6,632.9 L551.1,633.0 L551.6,633.0 L552.1,633.1 L552.6,633.1 L553.1,633.2 L553.6,633.2 L553.7,633.2 L553.9,633.3 L554.0,633.3 L554.1,633.3 L554.2,633.3 L554.4,633.3 L554.6,633.3 L554.6,633.3 L554.8,633.2 L554.9,633.2 L555.1,633.1 L555.3,633.0 L555.5,632.7 L555.6,632.4 L555.6,632.4 L555.8,631.9 L556.0,631.4 L556.1,631.1 L556.1,630.9 L556.3,630.5 L556.5,630.4 L556.6,630.5 L556.7,630.6 L556.9,631.0 L557.0,631.6 L557.1,631.8 L557.2,632.1 L557.4,632.6 L557.5,633.0 L557.6,633.1 L557.7,633.3 L557.9,633.5 L558.1,633.6 L558.1,633.6 L558.2,633.7 L558.4,633.7 L558.6,633.8 L558.8,633.8 L559.0,633.9 L559.1,633.9 L559.1,633.9 L559.6,634.0 L560.1,634.0 L560.6,634.1 L561.1,634.2 L561.6,634.3 L562.1,634.3 L562.6,634.4 L563.1,634.4 L563.6,634.5 L564.1,634.6 L564.6,634.6 L565.1,634.7 L565.6,634.7 L566.1,634.8 L566.6,634.8 L567.1,634.9 L567.6,635.0 L568.1,635.0 L568.6,635.1 L569.1,635.1 L569.6,635.2 L570.1,635.2 L570.6,635.3 L571.1,635.3 L571.6,635.3 L572.1,635.4 L572.6,635.4 L573.1,635.5 L573.6,635.5 L574.1,635.5 L574.6,635.6 L575.1,635.6 L575.6,635.6 L575.8,635.6 L576.0,635.6 L576.1,635.6 L576.1,635.6 L576.3,635.6 L576.5,635.5 L576.6,635.5 L576.6,635.5 L576.8,635.4 L577.0,635.3 L577.1,635.2 L577.2,635.0 L577.4,634.7 L577.5,634.2 L577.6,633.9 L577.7,633.5 L577.9,632.8 L578.0,632.1 L578.1,631.9 L578.2,631.5 L578.4,631.3 L578.6,631.5 L578.6,631.6 L578.8,632.1 L578.9,632.9 L579.1,633.6 L579.3,634.3 L579.5,634.8 L579.6,635.2 L579.6,635.2 L579.8,635.5 L580.0,635.6 L580.1,635.7 L580.1,635.7 L580.3,635.8 L580.5,635.9 L580.6,635.9 L580.7,635.9 L580.9,635.9 L581.0,636.0 L581.1,636.0 L581.6,636.0 L582.1,636.1 L582.6,636.1 L583.1,636.2 L583.6,636.2 L584.1,636.2 L584.6,636.3 L585.1,636.3 L585.6,636.3 L586.1,636.4 L586.6,636.4 L587.1,636.4 L587.6,636.4 L588.1,636.5 L588.6,636.5 L589.1,636.5 L589.6,636.6 L590.1,636.6 L590.6,636.6 L591.1,636.6 L591.6,636.7 L592.1,636.7 L592.6,636.7 L592.9,636.7 L593.0,636.7 L593.1,636.7 L593.2,636.7 L593.4,636.7 L593.5,636.7 L593.6,636.7 L593.6,636.7 L593.8,636.7 L594.0,636.6 L594.1,636.5 L594.2,636.4 L594.4,636.1 L594.5,635.8 L594.6,635.7 L594.7,635.4 L594.9,634.9 L595.0,634.5 L595.1,634.2 L595.1,634.1 L595.3,634.0 L595.5,634.1 L595.6,634.5 L595.8,635.0 L595.9,635.5 L596.0,635.9 L596.1,636.0 L596.2,636.2 L596.4,636.5 L596.5,636.7 L596.6,636.7 L596.6,636.8 L596.8,636.8 L597.0,636.9 L597.1,636.9 L597.2,636.9 L597.4,636.9 L597.5,637.0 L597.6,637.0 L598.1,637.0 L598.6,637.0 L598.8,637.0 L599.0,637.1 L599.1,637.1 L599.2,637.1 L599.4,637.0 L599.5,637.0 L599.6,637.0 L599.7,637.0 L599.9,637.0 L600.0,636.9 L600.1,636.8 L600.1,636.7 L600.3,636.5 L600.5,636.2 L600.6,635.7 L600.8,635.3 L600.9,634.8 L601.0,634.4 L601.1,634.3 L601.2,634.3 L601.4,634.4 L601.5,634.8 L601.6,635.1 L601.6,635.3 L601.8,635.8 L602.0,636.3 L602.1,636.6 L602.2,636.9 L602.4,637.0 L602.5,637.2 L602.6,637.2 L602.7,637.2 L602.9,637.3 L603.0,637.3 L603.1,637.3 L603.1,637.3 L603.3,637.4 L603.5,637.4 L603.6,637.4 L604.1,637.4 L604.6,637.5 L605.1,637.5 L605.6,637.6 L606.1,637.6 L606.2,637.6 L606.4,637.6 L606.5,637.6 L606.6,637.6 L606.7,637.6 L606.9,637.6 L607.0,637.5 L607.1,637.5 L607.1,637.5 L607.3,637.4 L607.5,637.2 L607.6,637.0 L607.8,636.7 L607.9,636.3 L608.0,635.8 L608.1,635.6 L608.2,635.3 L608.4,634.9 L608.5,634.8 L608.6,634.9 L608.6,634.9 L608.8,635.3 L609.0,635.8 L609.1,636.3 L609.2,636.8 L609.4,637.1 L609.5,637.4 L609.6,637.5 L609.7,637.6 L609.9,637.7 L610.0,637.8 L610.1,637.8 L610.1,637.8 L610.3,637.8 L610.5,637.9 L610.6,637.9 L610.8,637.9 L611.1,638.0 L611.6,638.0 L612.1,638.0 L612.6,638.1 L613.1,638.1 L613.6,638.2 L614.1,638.2 L614.6,638.2 L615.1,638.3 L615.6,638.3 L616.1,638.3 L616.6,638.4 L617.1,638.4 L617.6,638.4 L618.1,638.5 L618.6,638.5 L619.1,638.5 L619.6,638.5 L619.7,638.5 L619.9,638.5 L620.0,638.4 L620.1,638.4 L620.2,638.4 L620.4,638.4 L620.6,638.3 L620.6,638.3 L620.8,638.2 L620.9,638.1 L621.1,637.8 L621.3,637.3 L621.5,636.6 L621.6,635.8 L621.6,635.6 L621.8,634.3 L622.0,632.9 L622.1,631.8 L622.1,631.4 L622.3,630.3 L622.5,629.9 L622.6,630.0 L622.7,630.3 L622.9,631.5 L623.0,632.9 L623.1,633.6 L623.2,634.4 L623.4,635.7 L623.5,636.8 L623.6,637.0 L623.7,637.5 L623.9,638.0 L624.1,638.3 L624.1,638.3 L624.2,638.5 L624.4,638.6 L624.6,638.7 L624.8,638.8 L625.0,638.8 L625.1,638.9 L625.1,638.9 L625.6,639.0 L626.1,639.0 L626.6,639.1 L627.1,639.2 L627.6,639.2 L628.1,639.3 L628.6,639.3 L629.1,639.3 L629.6,639.4 L630.1,639.4 L630.6,639.5 L631.1,639.5 L631.6,639.6 L632.1,639.6 L632.6,639.6 L633.1,639.7 L633.6,639.7 L634.1,639.8 L634.6,639.8 L635.1,639.8 L635.6,639.9 L636.1,639.9 L636.6,640.0 L637.1,640.0 L637.6,640.0 L637.8,640.0 L637.9,640.0 L638.0,640.0 L638.1,640.0 L638.2,640.0 L638.4,640.0 L638.5,640.0 L638.6,640.0 L638.6,640.0 L638.8,640.0 L639.0,639.9 L639.1,639.7 L639.2,639.6 L639.4,639.3 L639.5,639.0 L639.6,638.9 L639.7,638.8 L639.9,638.6 L640.0,638.5 L640.1,638.5 L640.1,638.6 L640.3,638.8 L640.5,639.1 L640.6,639.4 L640.8,639.7 L640.9,639.9 L641.0,640.0 L641.1,640.1 L641.2,640.1 L641.4,640.2 L641.5,640.3 L641.6,640.3 L641.6,640.3 L641.8,640.3 L642.0,640.3 L642.1,640.4 L642.2,640.4 L642.6,640.4 L643.1,640.5 L643.6,640.5 L644.1,640.5 L644.6,640.6 L644.8,640.6 L644.9,640.6 L645.0,640.6 L645.1,640.6 L645.2,640.6 L645.4,640.6 L645.5,640.6 L645.6,640.6 L645.6,640.6 L645.8,640.5 L646.0,640.4 L646.1,640.3 L646.2,640.1 L646.4,639.9 L646.5,639.6 L646.6,639.5 L646.7,639.3 L646.9,639.1 L647.0,639.0 L647.1,639.0 L647.1,639.1 L647.3,639.3 L647.5,639.6 L647.6,640.0 L647.8,640.2 L647.9,640.5 L648.0,640.6 L648.1,640.7 L648.2,640.7 L648.4,640.8 L648.5,640.8 L648.6,640.9 L648.6,640.9 L648.8,640.9 L649.0,640.9 L649.1,641.0 L649.2,641.0 L649.6,641.0 L650.1,641.1 L650.6,641.1 L651.1,641.2 L651.6,641.2 L652.1,641.3 L652.6,641.3 L653.1,641.3 L653.6,641.4 L654.1,641.4 L654.6,641.5 L655.1,641.5 L655.6,641.6 L656.1,641.6 L656.6,641.6 L657.1,641.7 L657.6,641.7 L658.1,641.8 L658.6,641.8 L659.1,641.9 L659.6,641.9 L660.1,642.0 L660.6,642.0 L661.1,642.0 L661.6,642.1 L662.1,642.1 L662.6,642.2 L663.1,642.2 L663.6,642.3 L664.1,642.3 L664.6,642.4 L665.1,642.4 L665.6,642.4 L666.1,642.5 L666.6,642.5 L667.1,642.6 L667.6,642.6 L668.1,642.7" fill="none" stroke="#ff00ff" stroke-width="1.8" stroke-linejoin="round" clip-path="url(#cBot)"/>
<g stroke="#000" stroke-width="1.5" stroke-linecap="butt">
<polyline fill="none" points="81.70,294.70 81.70,4.50 675.70,4.50 675.70,294.70"/>
<line x1="81.70" y1="218.40" x2="675.70" y2="218.40"/>
<line x1="72.30" y1="294.70" x2="90.80" y2="294.70"/>
<line x1="667.20" y1="294.70" x2="685.00" y2="294.70"/>
<polyline fill="none" points="81.70,313.50 81.70,646.50 675.70,646.50 675.70,313.50"/>
<line x1="72.30" y1="313.50" x2="90.80" y2="313.50"/>
<line x1="667.20" y1="313.50" x2="685.00" y2="313.50"/>
<line x1="89.00" y1="4.50" x2="89.00" y2="10.80"/>
<line x1="89.00" y1="211.80" x2="89.00" y2="225.00"/>
<line x1="89.00" y1="646.50" x2="89.00" y2="653.00"/>
<line x1="127.60" y1="4.50" x2="127.60" y2="10.80"/>
<line x1="127.60" y1="211.80" x2="127.60" y2="225.00"/>
<line x1="127.60" y1="646.50" x2="127.60" y2="653.00"/>
<line x1="166.20" y1="4.50" x2="166.20" y2="10.80"/>
<line x1="166.20" y1="211.80" x2="166.20" y2="225.00"/>
<line x1="166.20" y1="646.50" x2="166.20" y2="653.00"/>
<line x1="204.80" y1="4.50" x2="204.80" y2="10.80"/>
<line x1="204.80" y1="211.80" x2="204.80" y2="225.00"/>
<line x1="204.80" y1="646.50" x2="204.80" y2="653.00"/>
<line x1="243.40" y1="4.50" x2="243.40" y2="10.80"/>
<line x1="243.40" y1="211.80" x2="243.40" y2="225.00"/>
<line x1="243.40" y1="646.50" x2="243.40" y2="653.00"/>
<line x1="282.00" y1="4.50" x2="282.00" y2="10.80"/>
<line x1="282.00" y1="211.80" x2="282.00" y2="225.00"/>
<line x1="282.00" y1="646.50" x2="282.00" y2="653.00"/>
<line x1="320.60" y1="4.50" x2="320.60" y2="10.80"/>
<line x1="320.60" y1="211.80" x2="320.60" y2="225.00"/>
<line x1="320.60" y1="646.50" x2="320.60" y2="653.00"/>
<line x1="359.20" y1="4.50" x2="359.20" y2="10.80"/>
<line x1="359.20" y1="211.80" x2="359.20" y2="225.00"/>
<line x1="359.20" y1="646.50" x2="359.20" y2="653.00"/>
<line x1="397.80" y1="4.50" x2="397.80" y2="10.80"/>
<line x1="397.80" y1="211.80" x2="397.80" y2="225.00"/>
<line x1="397.80" y1="646.50" x2="397.80" y2="653.00"/>
<line x1="436.40" y1="4.50" x2="436.40" y2="10.80"/>
<line x1="436.40" y1="211.80" x2="436.40" y2="225.00"/>
<line x1="436.40" y1="646.50" x2="436.40" y2="653.00"/>
<line x1="475.00" y1="4.50" x2="475.00" y2="10.80"/>
<line x1="475.00" y1="211.80" x2="475.00" y2="225.00"/>
<line x1="475.00" y1="646.50" x2="475.00" y2="653.00"/>
<line x1="513.60" y1="4.50" x2="513.60" y2="10.80"/>
<line x1="513.60" y1="211.80" x2="513.60" y2="225.00"/>
<line x1="513.60" y1="646.50" x2="513.60" y2="653.00"/>
<line x1="552.20" y1="4.50" x2="552.20" y2="10.80"/>
<line x1="552.20" y1="211.80" x2="552.20" y2="225.00"/>
<line x1="552.20" y1="646.50" x2="552.20" y2="653.00"/>
<line x1="590.80" y1="4.50" x2="590.80" y2="10.80"/>
<line x1="590.80" y1="211.80" x2="590.80" y2="225.00"/>
<line x1="590.80" y1="646.50" x2="590.80" y2="653.00"/>
<line x1="629.40" y1="4.50" x2="629.40" y2="10.80"/>
<line x1="629.40" y1="211.80" x2="629.40" y2="225.00"/>
<line x1="629.40" y1="646.50" x2="629.40" y2="653.00"/>
<line x1="668.00" y1="4.50" x2="668.00" y2="10.80"/>
<line x1="668.00" y1="211.80" x2="668.00" y2="225.00"/>
<line x1="668.00" y1="646.50" x2="668.00" y2="653.00"/>
<line x1="74.70" y1="13.80" x2="81.70" y2="13.80"/>
<line x1="669.20" y1="13.80" x2="675.70" y2="13.80"/>
<line x1="74.70" y1="62.70" x2="81.70" y2="62.70"/>
<line x1="669.20" y1="62.70" x2="675.70" y2="62.70"/>
<line x1="74.70" y1="111.60" x2="81.70" y2="111.60"/>
<line x1="669.20" y1="111.60" x2="675.70" y2="111.60"/>
<line x1="74.70" y1="159.90" x2="81.70" y2="159.90"/>
<line x1="669.20" y1="159.90" x2="675.70" y2="159.90"/>
<line x1="74.70" y1="208.80" x2="81.70" y2="208.80"/>
<line x1="669.20" y1="208.80" x2="675.70" y2="208.80"/>
<line x1="74.70" y1="252.40" x2="81.70" y2="252.40"/>
<line x1="669.20" y1="252.40" x2="675.70" y2="252.40"/>
<line x1="74.70" y1="326.80" x2="81.70" y2="326.80"/>
<line x1="669.20" y1="326.80" x2="675.70" y2="326.80"/>
<line x1="74.70" y1="435.00" x2="81.70" y2="435.00"/>
<line x1="669.20" y1="435.00" x2="675.70" y2="435.00"/>
<line x1="74.70" y1="543.40" x2="81.70" y2="543.40"/>
<line x1="669.20" y1="543.40" x2="675.70" y2="543.40"/>
</g>
<line x1="501.8" y1="40.4" x2="540.4" y2="40.4" stroke="#00008b" stroke-width="1.5"/>
<line x1="501.8" y1="61.6" x2="540.4" y2="61.6" stroke="#8b0000" stroke-width="1.5"/>
<line x1="411.9" y1="260.2" x2="450.8" y2="260.2" stroke="#000000" stroke-width="1.7"/>
<line x1="411.9" y1="281.1" x2="450.8" y2="281.1" stroke="#2a952a" stroke-width="1.7"/>
<line x1="411.9" y1="302.0" x2="450.8" y2="302.0" stroke="#ff0000" stroke-width="1.7"/>
<line x1="411.9" y1="322.9" x2="450.8" y2="322.9" stroke="#0000ff" stroke-width="1.7"/>
<line x1="411.9" y1="343.8" x2="450.8" y2="343.8" stroke="#ff00ff" stroke-width="1.7"/>
<text transform="translate(67.80,20.20) scale(1.060,1)" font-size="16" text-anchor="end" >1,00</text>
<text transform="translate(67.80,69.10) scale(1.060,1)" font-size="16" text-anchor="end" >0,75</text>
<text transform="translate(67.80,118.00) scale(1.060,1)" font-size="16" text-anchor="end" >0,50</text>
<text transform="translate(67.80,166.30) scale(1.060,1)" font-size="16" text-anchor="end" >0,25</text>
<text transform="translate(67.80,215.20) scale(1.060,1)" font-size="16" text-anchor="end" >0,00</text>
<text transform="translate(67.80,258.80) scale(1.060,1)" font-size="16" text-anchor="end" >2750</text>
<text transform="translate(67.80,301.10) scale(1.060,1)" font-size="16" text-anchor="end" >2700</text>
<text transform="translate(67.80,333.20) scale(1.060,1)" font-size="16" text-anchor="end" >800</text>
<text transform="translate(67.80,441.40) scale(1.060,1)" font-size="16" text-anchor="end" >400</text>
<text transform="translate(67.80,549.80) scale(1.060,1)" font-size="16" text-anchor="end" >0</text>
<text transform="translate(89.00,675.50) scale(1.060,1)" font-size="16" text-anchor="middle" >0</text>
<text transform="translate(282.00,675.50) scale(1.060,1)" font-size="16" text-anchor="middle" >25</text>
<text transform="translate(475.00,675.50) scale(1.060,1)" font-size="16" text-anchor="middle" >50</text>
<text transform="translate(668.00,675.50) scale(1.060,1)" font-size="16" text-anchor="middle" >75</text>
<text x="367.2" y="714" font-size="22.5">2<tspan font-family="Liberation Serif" font-size="23" dx="0.9" dy="-0.7">&#952;</tspan></text>
<text transform="translate(16.0,111.3) rotate(-90)" font-size="18.5" text-anchor="middle">Normallized Intensity (a.u.)</text>
<text transform="translate(25.1,431.3) rotate(-90)" font-size="20.5" text-anchor="middle">Intensity (a.u.)</text>
<text transform="translate(550.30,46.10) scale(1.045,1)" font-size="16" text-anchor="start" >Raw clay</text>
<text transform="translate(550.30,67.20) scale(1.045,1)" font-size="16" text-anchor="start" >Calcined clay</text>
<text transform="translate(459.80,266.00) scale(1.055,1)" font-size="16" text-anchor="start" >Experimental</text>
<text transform="translate(459.80,286.90) scale(1.055,1)" font-size="16" text-anchor="start" >Illite-Muscovite</text>
<text transform="translate(459.80,307.80) scale(1.055,1)" font-size="16" text-anchor="start" >Smectite-Montmorillonite</text>
<text transform="translate(459.80,328.70) scale(1.055,1)" font-size="16" text-anchor="start" >Quartz</text>
<text transform="translate(459.80,349.60) scale(1.055,1)" font-size="16" text-anchor="start" >Topaz</text>
</svg>
</body></html>
